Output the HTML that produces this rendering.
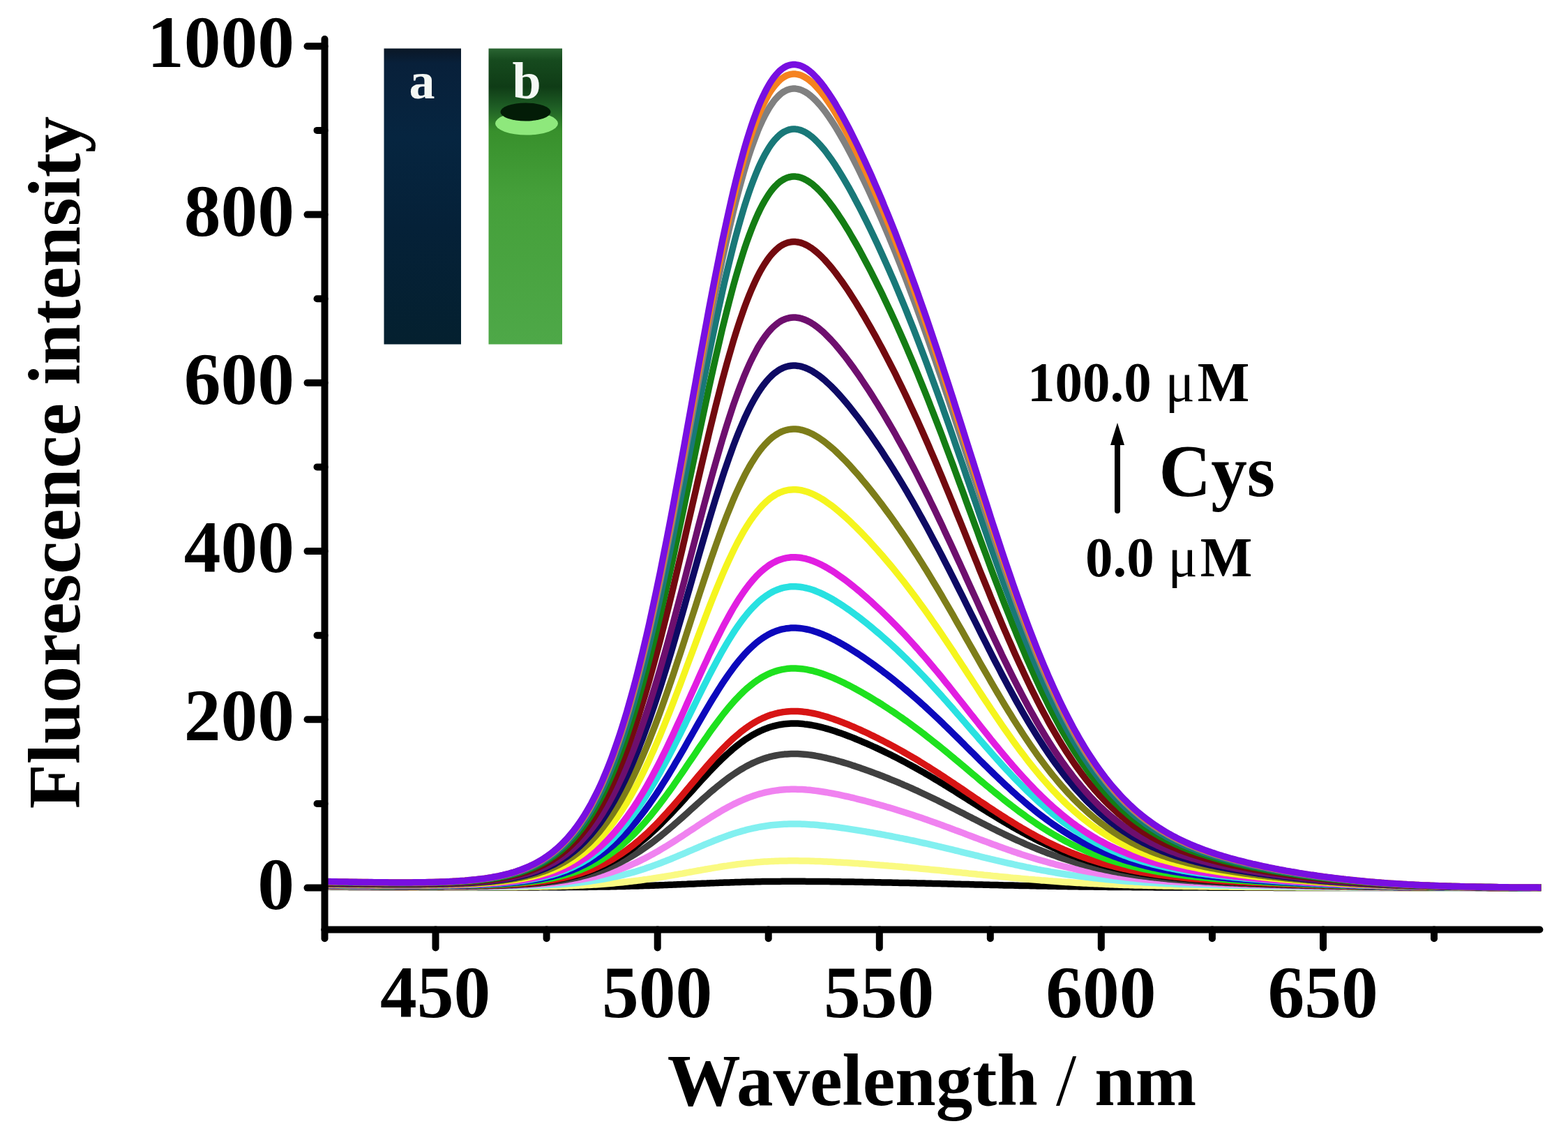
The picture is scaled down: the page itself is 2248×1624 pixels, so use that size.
<!DOCTYPE html>
<html><head><meta charset="utf-8"><style>
html,body{margin:0;padding:0;background:#fff;}
body{width:2248px;height:1624px;overflow:hidden;}
svg{display:block;}
text{font-family:"Liberation Serif","Times New Roman",serif;font-weight:bold;fill:#000;}
</style></head><body>
<svg width="2248" height="1624" viewBox="0 0 2248 1624">
<defs>
<linearGradient id="gA" x1="0" y1="0" x2="0" y2="1">
<stop offset="0" stop-color="#0a1726"/><stop offset="0.05" stop-color="#08203a"/><stop offset="0.3" stop-color="#062540"/><stop offset="0.6" stop-color="#052138"/><stop offset="1" stop-color="#04202f"/>
</linearGradient>
<linearGradient id="gB" x1="0" y1="0" x2="0" y2="1">
<stop offset="0" stop-color="#2a6532"/><stop offset="0.04" stop-color="#164a1e"/><stop offset="0.13" stop-color="#0f3c16"/><stop offset="0.2" stop-color="#1f5f25"/><stop offset="0.28" stop-color="#38902c"/><stop offset="0.5" stop-color="#45a03a"/><stop offset="1" stop-color="#4ea848"/>
</linearGradient>
</defs>
<!-- inset photos -->
<rect x="550.5" y="69.5" width="110.5" height="424" fill="url(#gA)"/>
<rect x="700.5" y="69.5" width="105.5" height="424" fill="url(#gB)"/>
<ellipse cx="755" cy="177" rx="45" ry="16.5" fill="#8ee87c"/>
<ellipse cx="753.5" cy="160.5" rx="36" ry="13" fill="#031c07"/>
<text x="605" y="141" text-anchor="middle" style="font-size:74px;fill:#f4f8f4">a</text>
<text x="755" y="141" text-anchor="middle" style="font-size:74px;fill:#f4f8f4">b</text>
<!-- curves -->
<g fill="none" stroke-width="9.5" stroke-linejoin="round">
<path d="M469.3,1271.6 L472.5,1271.6 L475.7,1271.6 L478.9,1271.6 L482.0,1271.6 L485.2,1271.6 L488.4,1271.6 L491.6,1271.6 L494.8,1271.6 L497.9,1271.6 L501.1,1271.7 L504.3,1271.7 L507.5,1271.7 L510.7,1271.7 L513.9,1271.7 L517.0,1271.7 L520.2,1271.7 L523.4,1271.7 L526.6,1271.7 L529.8,1271.7 L532.9,1271.7 L536.1,1271.7 L539.3,1271.7 L542.5,1271.7 L545.7,1271.7 L548.8,1271.8 L552.0,1271.8 L555.2,1271.8 L558.4,1271.8 L561.6,1271.8 L564.7,1271.8 L567.9,1271.8 L571.1,1271.8 L574.3,1271.8 L577.5,1271.8 L580.7,1271.8 L583.8,1271.8 L587.0,1271.8 L590.2,1271.8 L593.4,1271.8 L596.6,1271.8 L599.7,1271.8 L602.9,1271.9 L606.1,1271.9 L609.3,1271.9 L612.5,1271.9 L615.6,1271.9 L618.8,1271.9 L622.0,1271.9 L625.2,1271.9 L628.4,1271.9 L631.5,1271.9 L634.7,1271.9 L637.9,1271.9 L641.1,1271.9 L644.3,1271.9 L647.5,1271.9 L650.6,1271.9 L653.8,1271.9 L657.0,1271.9 L660.2,1271.9 L663.4,1271.9 L666.5,1271.9 L669.7,1271.9 L672.9,1271.9 L676.1,1271.9 L679.3,1271.9 L682.4,1271.9 L685.6,1271.9 L688.8,1271.9 L692.0,1271.9 L695.2,1271.9 L698.3,1271.9 L701.5,1271.9 L704.7,1271.9 L707.9,1271.9 L711.1,1271.9 L714.3,1271.9 L717.4,1271.9 L720.6,1271.9 L723.8,1271.9 L727.0,1271.9 L730.2,1271.9 L733.3,1271.9 L736.5,1271.9 L739.7,1271.9 L742.9,1271.9 L746.1,1271.9 L749.2,1271.9 L752.4,1271.9 L755.6,1271.9 L758.8,1271.9 L762.0,1271.9 L765.2,1271.9 L768.3,1271.9 L771.5,1271.9 L774.7,1271.8 L777.9,1271.8 L781.1,1271.8 L784.2,1271.8 L787.4,1271.8 L790.6,1271.8 L793.8,1271.8 L797.0,1271.7 L800.1,1271.7 L803.3,1271.7 L806.5,1271.7 L809.7,1271.7 L812.9,1271.6 L816.0,1271.6 L819.2,1271.6 L822.4,1271.6 L825.6,1271.5 L828.8,1271.5 L832.0,1271.5 L835.1,1271.4 L838.3,1271.4 L841.5,1271.4 L844.7,1271.3 L847.9,1271.3 L851.0,1271.2 L854.2,1271.2 L857.4,1271.1 L860.6,1271.1 L863.8,1271.0 L866.9,1271.0 L870.1,1270.9 L873.3,1270.9 L876.5,1270.8 L879.7,1270.7 L882.8,1270.7 L886.0,1270.6 L889.2,1270.5 L892.4,1270.5 L895.6,1270.4 L898.8,1270.3 L901.9,1270.2 L905.1,1270.1 L908.3,1270.1 L911.5,1270.0 L914.7,1269.9 L917.8,1269.8 L921.0,1269.7 L924.2,1269.6 L927.4,1269.5 L930.6,1269.4 L933.7,1269.3 L936.9,1269.2 L940.1,1269.0 L943.3,1268.9 L946.5,1268.8 L949.6,1268.7 L952.8,1268.6 L956.0,1268.4 L959.2,1268.3 L962.4,1268.2 L965.6,1268.1 L968.7,1267.9 L971.9,1267.8 L975.1,1267.7 L978.3,1267.5 L981.5,1267.4 L984.6,1267.3 L987.8,1267.1 L991.0,1267.0 L994.2,1266.9 L997.4,1266.7 L1000.5,1266.6 L1003.7,1266.5 L1006.9,1266.3 L1010.1,1266.2 L1013.3,1266.1 L1016.4,1265.9 L1019.6,1265.8 L1022.8,1265.7 L1026.0,1265.6 L1029.2,1265.4 L1032.4,1265.3 L1035.5,1265.2 L1038.7,1265.1 L1041.9,1265.0 L1045.1,1264.9 L1048.3,1264.8 L1051.4,1264.7 L1054.6,1264.6 L1057.8,1264.5 L1061.0,1264.4 L1064.2,1264.3 L1067.3,1264.2 L1070.5,1264.1 L1073.7,1264.0 L1076.9,1264.0 L1080.1,1263.9 L1083.3,1263.8 L1086.4,1263.8 L1089.6,1263.7 L1092.8,1263.6 L1096.0,1263.6 L1099.2,1263.5 L1102.3,1263.5 L1105.5,1263.5 L1108.7,1263.4 L1111.9,1263.4 L1115.1,1263.4 L1118.2,1263.4 L1121.4,1263.3 L1124.6,1263.3 L1127.8,1263.3 L1131.0,1263.3 L1134.1,1263.3 L1137.3,1263.3 L1140.5,1263.3 L1143.7,1263.3 L1146.9,1263.3 L1150.1,1263.3 L1153.2,1263.3 L1156.4,1263.4 L1159.6,1263.4 L1162.8,1263.4 L1166.0,1263.4 L1169.1,1263.4 L1172.3,1263.5 L1175.5,1263.5 L1178.7,1263.5 L1181.9,1263.6 L1185.0,1263.6 L1188.2,1263.6 L1191.4,1263.7 L1194.6,1263.7 L1197.8,1263.8 L1200.9,1263.8 L1204.1,1263.8 L1207.3,1263.9 L1210.5,1263.9 L1213.7,1264.0 L1216.9,1264.0 L1220.0,1264.1 L1223.2,1264.1 L1226.4,1264.2 L1229.6,1264.2 L1232.8,1264.3 L1235.9,1264.3 L1239.1,1264.4 L1242.3,1264.5 L1245.5,1264.5 L1248.7,1264.6 L1251.8,1264.6 L1255.0,1264.7 L1258.2,1264.7 L1261.4,1264.8 L1264.6,1264.9 L1267.7,1264.9 L1270.9,1265.0 L1274.1,1265.0 L1277.3,1265.1 L1280.5,1265.2 L1283.7,1265.2 L1286.8,1265.3 L1290.0,1265.4 L1293.2,1265.4 L1296.4,1265.5 L1299.6,1265.5 L1302.7,1265.6 L1305.9,1265.7 L1309.1,1265.8 L1312.3,1265.8 L1315.5,1265.9 L1318.6,1266.0 L1321.8,1266.0 L1325.0,1266.1 L1328.2,1266.2 L1331.4,1266.2 L1334.5,1266.3 L1337.7,1266.4 L1340.9,1266.5 L1344.1,1266.5 L1347.3,1266.6 L1350.5,1266.7 L1353.6,1266.8 L1356.8,1266.8 L1360.0,1266.9 L1363.2,1267.0 L1366.4,1267.1 L1369.5,1267.2 L1372.7,1267.2 L1375.9,1267.3 L1379.1,1267.4 L1382.3,1267.5 L1385.4,1267.5 L1388.6,1267.6 L1391.8,1267.7 L1395.0,1267.8 L1398.2,1267.9 L1401.4,1267.9 L1404.5,1268.0 L1407.7,1268.1 L1410.9,1268.2 L1414.1,1268.3 L1417.3,1268.3 L1420.4,1268.4 L1423.6,1268.5 L1426.8,1268.6 L1430.0,1268.6 L1433.2,1268.7 L1436.3,1268.8 L1439.5,1268.9 L1442.7,1268.9 L1445.9,1269.0 L1449.1,1269.1 L1452.2,1269.1 L1455.4,1269.2 L1458.6,1269.3 L1461.8,1269.4 L1465.0,1269.4 L1468.2,1269.5 L1471.3,1269.6 L1474.5,1269.6 L1477.7,1269.7 L1480.9,1269.8 L1484.1,1269.8 L1487.2,1269.9 L1490.4,1269.9 L1493.6,1270.0 L1496.8,1270.1 L1500.0,1270.1 L1503.1,1270.2 L1506.3,1270.2 L1509.5,1270.3 L1512.7,1270.3 L1515.9,1270.4 L1519.0,1270.5 L1522.2,1270.5 L1525.4,1270.6 L1528.6,1270.6 L1531.8,1270.7 L1535.0,1270.7 L1538.1,1270.7 L1541.3,1270.8 L1544.5,1270.8 L1547.7,1270.9 L1550.9,1270.9 L1554.0,1271.0 L1557.2,1271.0 L1560.4,1271.0 L1563.6,1271.1 L1566.8,1271.1 L1569.9,1271.2 L1573.1,1271.2 L1576.3,1271.2 L1579.5,1271.3 L1582.7,1271.3 L1585.8,1271.3 L1589.0,1271.4 L1592.2,1271.4 L1595.4,1271.4 L1598.6,1271.4 L1601.8,1271.5 L1604.9,1271.5 L1608.1,1271.5 L1611.3,1271.6 L1614.5,1271.6 L1617.7,1271.6 L1620.8,1271.6 L1624.0,1271.7 L1627.2,1271.7 L1630.4,1271.7 L1633.6,1271.7 L1636.7,1271.7 L1639.9,1271.8 L1643.1,1271.8 L1646.3,1271.8 L1649.5,1271.8 L1652.6,1271.8 L1655.8,1271.9 L1659.0,1271.9 L1662.2,1271.9 L1665.4,1271.9 L1668.6,1271.9 L1671.7,1271.9 L1674.9,1271.9 L1678.1,1272.0 L1681.3,1272.0 L1684.5,1272.0 L1687.6,1272.0 L1690.8,1272.0 L1694.0,1272.0 L1697.2,1272.0 L1700.4,1272.0 L1703.5,1272.1 L1706.7,1272.1 L1709.9,1272.1 L1713.1,1272.1 L1716.3,1272.1 L1719.5,1272.1 L1722.6,1272.1 L1725.8,1272.1 L1729.0,1272.1 L1732.2,1272.2 L1735.4,1272.2 L1738.5,1272.2 L1741.7,1272.2 L1744.9,1272.2 L1748.1,1272.2 L1751.3,1272.2 L1754.4,1272.2 L1757.6,1272.2 L1760.8,1272.2 L1764.0,1272.2 L1767.2,1272.2 L1770.3,1272.2 L1773.5,1272.3 L1776.7,1272.3 L1779.9,1272.3 L1783.1,1272.3 L1786.3,1272.3 L1789.4,1272.3 L1792.6,1272.3 L1795.8,1272.3 L1799.0,1272.3 L1802.2,1272.3 L1805.3,1272.3 L1808.5,1272.3 L1811.7,1272.3 L1814.9,1272.3 L1818.1,1272.3 L1821.2,1272.3 L1824.4,1272.3 L1827.6,1272.4 L1830.8,1272.4 L1834.0,1272.4 L1837.1,1272.4 L1840.3,1272.4 L1843.5,1272.4 L1846.7,1272.4 L1849.9,1272.4 L1853.1,1272.4 L1856.2,1272.4 L1859.4,1272.4 L1862.6,1272.4 L1865.8,1272.4 L1869.0,1272.4 L1872.1,1272.4 L1875.3,1272.4 L1878.5,1272.4 L1881.7,1272.4 L1884.9,1272.4 L1888.0,1272.4 L1891.2,1272.4 L1894.4,1272.4 L1897.6,1272.4 L1900.8,1272.4 L1903.9,1272.5 L1907.1,1272.5 L1910.3,1272.5 L1913.5,1272.5 L1916.7,1272.5 L1919.9,1272.5 L1923.0,1272.5 L1926.2,1272.5 L1929.4,1272.5 L1932.6,1272.5 L1935.8,1272.5 L1938.9,1272.5 L1942.1,1272.5 L1945.3,1272.5 L1948.5,1272.5 L1951.7,1272.5 L1954.8,1272.5 L1958.0,1272.5 L1961.2,1272.5 L1964.4,1272.5 L1967.6,1272.5 L1970.7,1272.5 L1973.9,1272.5 L1977.1,1272.5 L1980.3,1272.5 L1983.5,1272.5 L1986.7,1272.5 L1989.8,1272.5 L1993.0,1272.5 L1996.2,1272.5 L1999.4,1272.5 L2002.6,1272.5 L2005.7,1272.5 L2008.9,1272.5 L2012.1,1272.5 L2015.3,1272.5 L2018.5,1272.5 L2021.6,1272.5 L2024.8,1272.5 L2028.0,1272.5 L2031.2,1272.5 L2034.4,1272.5 L2037.6,1272.5 L2040.7,1272.5 L2043.9,1272.6 L2047.1,1272.6 L2050.3,1272.6 L2053.5,1272.6 L2056.6,1272.6 L2059.8,1272.6 L2063.0,1272.6 L2066.2,1272.6 L2069.4,1272.6 L2072.5,1272.6 L2075.7,1272.6 L2078.9,1272.6 L2082.1,1272.6 L2085.3,1272.6 L2088.4,1272.6 L2091.6,1272.6 L2094.8,1272.6 L2098.0,1272.6 L2101.2,1272.6 L2104.4,1272.6 L2107.5,1272.6 L2110.7,1272.6 L2113.9,1272.6 L2117.1,1272.6 L2120.3,1272.6 L2123.4,1272.6 L2126.6,1272.6 L2129.8,1272.6 L2133.0,1272.6 L2136.2,1272.6 L2139.3,1272.6 L2142.5,1272.6 L2145.7,1272.6 L2148.9,1272.6 L2152.1,1272.6 L2155.2,1272.6 L2158.4,1272.6 L2161.6,1272.6 L2164.8,1272.6 L2168.0,1272.6 L2171.2,1272.6 L2174.3,1272.6 L2177.5,1272.6 L2180.7,1272.6 L2183.9,1272.6 L2187.1,1272.6 L2190.2,1272.6 L2193.4,1272.6 L2196.6,1272.6 L2199.8,1272.6 L2203.0,1272.6 L2206.1,1272.6 L2209.3,1272.6" stroke="#000000"/>
<path d="M469.3,1271.4 L472.5,1271.4 L475.7,1271.4 L478.9,1271.4 L482.0,1271.4 L485.2,1271.4 L488.4,1271.4 L491.6,1271.4 L494.8,1271.4 L497.9,1271.5 L501.1,1271.5 L504.3,1271.5 L507.5,1271.5 L510.7,1271.5 L513.9,1271.5 L517.0,1271.5 L520.2,1271.5 L523.4,1271.5 L526.6,1271.5 L529.8,1271.5 L532.9,1271.5 L536.1,1271.6 L539.3,1271.6 L542.5,1271.6 L545.7,1271.6 L548.8,1271.6 L552.0,1271.6 L555.2,1271.6 L558.4,1271.6 L561.6,1271.6 L564.7,1271.6 L567.9,1271.6 L571.1,1271.6 L574.3,1271.6 L577.5,1271.6 L580.7,1271.6 L583.8,1271.6 L587.0,1271.7 L590.2,1271.7 L593.4,1271.7 L596.6,1271.7 L599.7,1271.7 L602.9,1271.7 L606.1,1271.7 L609.3,1271.7 L612.5,1271.7 L615.6,1271.7 L618.8,1271.7 L622.0,1271.7 L625.2,1271.7 L628.4,1271.7 L631.5,1271.7 L634.7,1271.7 L637.9,1271.7 L641.1,1271.7 L644.3,1271.7 L647.5,1271.7 L650.6,1271.7 L653.8,1271.7 L657.0,1271.7 L660.2,1271.7 L663.4,1271.7 L666.5,1271.7 L669.7,1271.7 L672.9,1271.7 L676.1,1271.7 L679.3,1271.7 L682.4,1271.7 L685.6,1271.6 L688.8,1271.6 L692.0,1271.6 L695.2,1271.6 L698.3,1271.6 L701.5,1271.6 L704.7,1271.6 L707.9,1271.6 L711.1,1271.6 L714.3,1271.5 L717.4,1271.5 L720.6,1271.5 L723.8,1271.5 L727.0,1271.5 L730.2,1271.4 L733.3,1271.4 L736.5,1271.4 L739.7,1271.4 L742.9,1271.3 L746.1,1271.3 L749.2,1271.3 L752.4,1271.2 L755.6,1271.2 L758.8,1271.1 L762.0,1271.1 L765.2,1271.0 L768.3,1271.0 L771.5,1270.9 L774.7,1270.9 L777.9,1270.8 L781.1,1270.8 L784.2,1270.7 L787.4,1270.6 L790.6,1270.5 L793.8,1270.5 L797.0,1270.4 L800.1,1270.3 L803.3,1270.2 L806.5,1270.1 L809.7,1270.0 L812.9,1269.9 L816.0,1269.8 L819.2,1269.7 L822.4,1269.5 L825.6,1269.4 L828.8,1269.3 L832.0,1269.1 L835.1,1269.0 L838.3,1268.8 L841.5,1268.6 L844.7,1268.4 L847.9,1268.3 L851.0,1268.1 L854.2,1267.9 L857.4,1267.7 L860.6,1267.4 L863.8,1267.2 L866.9,1267.0 L870.1,1266.7 L873.3,1266.5 L876.5,1266.2 L879.7,1265.9 L882.8,1265.6 L886.0,1265.3 L889.2,1265.0 L892.4,1264.7 L895.6,1264.3 L898.8,1264.0 L901.9,1263.6 L905.1,1263.3 L908.3,1262.9 L911.5,1262.5 L914.7,1262.1 L917.8,1261.7 L921.0,1261.3 L924.2,1260.8 L927.4,1260.4 L930.6,1259.9 L933.7,1259.5 L936.9,1259.0 L940.1,1258.5 L943.3,1258.0 L946.5,1257.5 L949.6,1257.0 L952.8,1256.5 L956.0,1255.9 L959.2,1255.4 L962.4,1254.9 L965.6,1254.3 L968.7,1253.7 L971.9,1253.2 L975.1,1252.6 L978.3,1252.1 L981.5,1251.5 L984.6,1250.9 L987.8,1250.3 L991.0,1249.8 L994.2,1249.2 L997.4,1248.6 L1000.5,1248.0 L1003.7,1247.5 L1006.9,1246.9 L1010.1,1246.3 L1013.3,1245.8 L1016.4,1245.2 L1019.6,1244.7 L1022.8,1244.1 L1026.0,1243.6 L1029.2,1243.1 L1032.4,1242.5 L1035.5,1242.0 L1038.7,1241.5 L1041.9,1241.1 L1045.1,1240.6 L1048.3,1240.1 L1051.4,1239.7 L1054.6,1239.3 L1057.8,1238.8 L1061.0,1238.4 L1064.2,1238.1 L1067.3,1237.7 L1070.5,1237.3 L1073.7,1237.0 L1076.9,1236.7 L1080.1,1236.4 L1083.3,1236.1 L1086.4,1235.8 L1089.6,1235.6 L1092.8,1235.3 L1096.0,1235.1 L1099.2,1234.9 L1102.3,1234.7 L1105.5,1234.6 L1108.7,1234.4 L1111.9,1234.3 L1115.1,1234.2 L1118.2,1234.1 L1121.4,1234.0 L1124.6,1233.9 L1127.8,1233.9 L1131.0,1233.8 L1134.1,1233.8 L1137.3,1233.8 L1140.5,1233.8 L1143.7,1233.8 L1146.9,1233.9 L1150.1,1233.9 L1153.2,1233.9 L1156.4,1234.0 L1159.6,1234.1 L1162.8,1234.2 L1166.0,1234.3 L1169.1,1234.4 L1172.3,1234.5 L1175.5,1234.6 L1178.7,1234.7 L1181.9,1234.9 L1185.0,1235.0 L1188.2,1235.2 L1191.4,1235.3 L1194.6,1235.5 L1197.8,1235.7 L1200.9,1235.9 L1204.1,1236.0 L1207.3,1236.2 L1210.5,1236.4 L1213.7,1236.6 L1216.9,1236.8 L1220.0,1237.0 L1223.2,1237.2 L1226.4,1237.4 L1229.6,1237.6 L1232.8,1237.9 L1235.9,1238.1 L1239.1,1238.3 L1242.3,1238.5 L1245.5,1238.8 L1248.7,1239.0 L1251.8,1239.2 L1255.0,1239.5 L1258.2,1239.7 L1261.4,1240.0 L1264.6,1240.2 L1267.7,1240.5 L1270.9,1240.7 L1274.1,1241.0 L1277.3,1241.2 L1280.5,1241.5 L1283.7,1241.8 L1286.8,1242.0 L1290.0,1242.3 L1293.2,1242.6 L1296.4,1242.9 L1299.6,1243.1 L1302.7,1243.4 L1305.9,1243.7 L1309.1,1244.0 L1312.3,1244.3 L1315.5,1244.6 L1318.6,1244.9 L1321.8,1245.2 L1325.0,1245.5 L1328.2,1245.8 L1331.4,1246.1 L1334.5,1246.4 L1337.7,1246.7 L1340.9,1247.0 L1344.1,1247.3 L1347.3,1247.6 L1350.5,1247.9 L1353.6,1248.3 L1356.8,1248.6 L1360.0,1248.9 L1363.2,1249.2 L1366.4,1249.6 L1369.5,1249.9 L1372.7,1250.2 L1375.9,1250.5 L1379.1,1250.9 L1382.3,1251.2 L1385.4,1251.5 L1388.6,1251.9 L1391.8,1252.2 L1395.0,1252.5 L1398.2,1252.8 L1401.4,1253.2 L1404.5,1253.5 L1407.7,1253.8 L1410.9,1254.2 L1414.1,1254.5 L1417.3,1254.8 L1420.4,1255.1 L1423.6,1255.5 L1426.8,1255.8 L1430.0,1256.1 L1433.2,1256.4 L1436.3,1256.7 L1439.5,1257.0 L1442.7,1257.3 L1445.9,1257.6 L1449.1,1258.0 L1452.2,1258.3 L1455.4,1258.5 L1458.6,1258.8 L1461.8,1259.1 L1465.0,1259.4 L1468.2,1259.7 L1471.3,1260.0 L1474.5,1260.3 L1477.7,1260.5 L1480.9,1260.8 L1484.1,1261.1 L1487.2,1261.3 L1490.4,1261.6 L1493.6,1261.9 L1496.8,1262.1 L1500.0,1262.3 L1503.1,1262.6 L1506.3,1262.8 L1509.5,1263.1 L1512.7,1263.3 L1515.9,1263.5 L1519.0,1263.7 L1522.2,1264.0 L1525.4,1264.2 L1528.6,1264.4 L1531.8,1264.6 L1535.0,1264.8 L1538.1,1265.0 L1541.3,1265.2 L1544.5,1265.4 L1547.7,1265.5 L1550.9,1265.7 L1554.0,1265.9 L1557.2,1266.1 L1560.4,1266.2 L1563.6,1266.4 L1566.8,1266.5 L1569.9,1266.7 L1573.1,1266.8 L1576.3,1267.0 L1579.5,1267.1 L1582.7,1267.3 L1585.8,1267.4 L1589.0,1267.5 L1592.2,1267.7 L1595.4,1267.8 L1598.6,1267.9 L1601.8,1268.0 L1604.9,1268.2 L1608.1,1268.3 L1611.3,1268.4 L1614.5,1268.5 L1617.7,1268.6 L1620.8,1268.7 L1624.0,1268.8 L1627.2,1268.9 L1630.4,1269.0 L1633.6,1269.1 L1636.7,1269.1 L1639.9,1269.2 L1643.1,1269.3 L1646.3,1269.4 L1649.5,1269.5 L1652.6,1269.5 L1655.8,1269.6 L1659.0,1269.7 L1662.2,1269.7 L1665.4,1269.8 L1668.6,1269.9 L1671.7,1269.9 L1674.9,1270.0 L1678.1,1270.1 L1681.3,1270.1 L1684.5,1270.2 L1687.6,1270.2 L1690.8,1270.3 L1694.0,1270.3 L1697.2,1270.4 L1700.4,1270.4 L1703.5,1270.5 L1706.7,1270.5 L1709.9,1270.6 L1713.1,1270.6 L1716.3,1270.6 L1719.5,1270.7 L1722.6,1270.7 L1725.8,1270.8 L1729.0,1270.8 L1732.2,1270.8 L1735.4,1270.9 L1738.5,1270.9 L1741.7,1270.9 L1744.9,1271.0 L1748.1,1271.0 L1751.3,1271.0 L1754.4,1271.1 L1757.6,1271.1 L1760.8,1271.1 L1764.0,1271.2 L1767.2,1271.2 L1770.3,1271.2 L1773.5,1271.3 L1776.7,1271.3 L1779.9,1271.3 L1783.1,1271.3 L1786.3,1271.4 L1789.4,1271.4 L1792.6,1271.4 L1795.8,1271.4 L1799.0,1271.5 L1802.2,1271.5 L1805.3,1271.5 L1808.5,1271.5 L1811.7,1271.6 L1814.9,1271.6 L1818.1,1271.6 L1821.2,1271.6 L1824.4,1271.6 L1827.6,1271.7 L1830.8,1271.7 L1834.0,1271.7 L1837.1,1271.7 L1840.3,1271.7 L1843.5,1271.8 L1846.7,1271.8 L1849.9,1271.8 L1853.1,1271.8 L1856.2,1271.8 L1859.4,1271.9 L1862.6,1271.9 L1865.8,1271.9 L1869.0,1271.9 L1872.1,1271.9 L1875.3,1271.9 L1878.5,1272.0 L1881.7,1272.0 L1884.9,1272.0 L1888.0,1272.0 L1891.2,1272.0 L1894.4,1272.0 L1897.6,1272.0 L1900.8,1272.1 L1903.9,1272.1 L1907.1,1272.1 L1910.3,1272.1 L1913.5,1272.1 L1916.7,1272.1 L1919.9,1272.1 L1923.0,1272.2 L1926.2,1272.2 L1929.4,1272.2 L1932.6,1272.2 L1935.8,1272.2 L1938.9,1272.2 L1942.1,1272.2 L1945.3,1272.2 L1948.5,1272.2 L1951.7,1272.3 L1954.8,1272.3 L1958.0,1272.3 L1961.2,1272.3 L1964.4,1272.3 L1967.6,1272.3 L1970.7,1272.3 L1973.9,1272.3 L1977.1,1272.3 L1980.3,1272.3 L1983.5,1272.3 L1986.7,1272.4 L1989.8,1272.4 L1993.0,1272.4 L1996.2,1272.4 L1999.4,1272.4 L2002.6,1272.4 L2005.7,1272.4 L2008.9,1272.4 L2012.1,1272.4 L2015.3,1272.4 L2018.5,1272.4 L2021.6,1272.4 L2024.8,1272.4 L2028.0,1272.4 L2031.2,1272.4 L2034.4,1272.4 L2037.6,1272.5 L2040.7,1272.5 L2043.9,1272.5 L2047.1,1272.5 L2050.3,1272.5 L2053.5,1272.5 L2056.6,1272.5 L2059.8,1272.5 L2063.0,1272.5 L2066.2,1272.5 L2069.4,1272.5 L2072.5,1272.5 L2075.7,1272.5 L2078.9,1272.5 L2082.1,1272.5 L2085.3,1272.5 L2088.4,1272.5 L2091.6,1272.5 L2094.8,1272.5 L2098.0,1272.5 L2101.2,1272.5 L2104.4,1272.5 L2107.5,1272.5 L2110.7,1272.5 L2113.9,1272.5 L2117.1,1272.5 L2120.3,1272.5 L2123.4,1272.5 L2126.6,1272.5 L2129.8,1272.5 L2133.0,1272.5 L2136.2,1272.5 L2139.3,1272.5 L2142.5,1272.6 L2145.7,1272.6 L2148.9,1272.6 L2152.1,1272.6 L2155.2,1272.6 L2158.4,1272.6 L2161.6,1272.6 L2164.8,1272.6 L2168.0,1272.6 L2171.2,1272.6 L2174.3,1272.6 L2177.5,1272.6 L2180.7,1272.6 L2183.9,1272.6 L2187.1,1272.6 L2190.2,1272.6 L2193.4,1272.6 L2196.6,1272.6 L2199.8,1272.6 L2203.0,1272.6 L2206.1,1272.6 L2209.3,1272.6" stroke="#fafa82"/>
<path d="M469.3,1271.0 L472.5,1271.0 L475.7,1271.0 L478.9,1271.1 L482.0,1271.1 L485.2,1271.1 L488.4,1271.1 L491.6,1271.1 L494.8,1271.1 L497.9,1271.1 L501.1,1271.1 L504.3,1271.1 L507.5,1271.1 L510.7,1271.2 L513.9,1271.2 L517.0,1271.2 L520.2,1271.2 L523.4,1271.2 L526.6,1271.2 L529.8,1271.2 L532.9,1271.2 L536.1,1271.2 L539.3,1271.2 L542.5,1271.3 L545.7,1271.3 L548.8,1271.3 L552.0,1271.3 L555.2,1271.3 L558.4,1271.3 L561.6,1271.3 L564.7,1271.3 L567.9,1271.3 L571.1,1271.3 L574.3,1271.3 L577.5,1271.3 L580.7,1271.3 L583.8,1271.3 L587.0,1271.3 L590.2,1271.3 L593.4,1271.3 L596.6,1271.3 L599.7,1271.4 L602.9,1271.4 L606.1,1271.4 L609.3,1271.4 L612.5,1271.4 L615.6,1271.4 L618.8,1271.4 L622.0,1271.4 L625.2,1271.4 L628.4,1271.3 L631.5,1271.3 L634.7,1271.3 L637.9,1271.3 L641.1,1271.3 L644.3,1271.3 L647.5,1271.3 L650.6,1271.3 L653.8,1271.3 L657.0,1271.3 L660.2,1271.3 L663.4,1271.3 L666.5,1271.2 L669.7,1271.2 L672.9,1271.2 L676.1,1271.2 L679.3,1271.2 L682.4,1271.1 L685.6,1271.1 L688.8,1271.1 L692.0,1271.1 L695.2,1271.0 L698.3,1271.0 L701.5,1271.0 L704.7,1270.9 L707.9,1270.9 L711.1,1270.9 L714.3,1270.8 L717.4,1270.8 L720.6,1270.7 L723.8,1270.7 L727.0,1270.6 L730.2,1270.5 L733.3,1270.5 L736.5,1270.4 L739.7,1270.3 L742.9,1270.2 L746.1,1270.2 L749.2,1270.1 L752.4,1270.0 L755.6,1269.9 L758.8,1269.8 L762.0,1269.7 L765.2,1269.5 L768.3,1269.4 L771.5,1269.3 L774.7,1269.2 L777.9,1269.0 L781.1,1268.8 L784.2,1268.7 L787.4,1268.5 L790.6,1268.3 L793.8,1268.1 L797.0,1267.9 L800.1,1267.7 L803.3,1267.5 L806.5,1267.3 L809.7,1267.0 L812.9,1266.7 L816.0,1266.5 L819.2,1266.2 L822.4,1265.9 L825.6,1265.6 L828.8,1265.2 L832.0,1264.9 L835.1,1264.5 L838.3,1264.1 L841.5,1263.7 L844.7,1263.3 L847.9,1262.8 L851.0,1262.4 L854.2,1261.9 L857.4,1261.4 L860.6,1260.9 L863.8,1260.3 L866.9,1259.8 L870.1,1259.2 L873.3,1258.5 L876.5,1257.9 L879.7,1257.2 L882.8,1256.5 L886.0,1255.8 L889.2,1255.1 L892.4,1254.3 L895.6,1253.5 L898.8,1252.7 L901.9,1251.9 L905.1,1251.0 L908.3,1250.1 L911.5,1249.2 L914.7,1248.2 L917.8,1247.2 L921.0,1246.2 L924.2,1245.2 L927.4,1244.1 L930.6,1243.0 L933.7,1241.9 L936.9,1240.8 L940.1,1239.6 L943.3,1238.5 L946.5,1237.3 L949.6,1236.0 L952.8,1234.8 L956.0,1233.5 L959.2,1232.3 L962.4,1231.0 L965.6,1229.7 L968.7,1228.4 L971.9,1227.0 L975.1,1225.7 L978.3,1224.3 L981.5,1223.0 L984.6,1221.6 L987.8,1220.2 L991.0,1218.9 L994.2,1217.5 L997.4,1216.1 L1000.5,1214.8 L1003.7,1213.4 L1006.9,1212.1 L1010.1,1210.7 L1013.3,1209.4 L1016.4,1208.1 L1019.6,1206.8 L1022.8,1205.5 L1026.0,1204.2 L1029.2,1203.0 L1032.4,1201.8 L1035.5,1200.6 L1038.7,1199.4 L1041.9,1198.3 L1045.1,1197.1 L1048.3,1196.1 L1051.4,1195.0 L1054.6,1194.0 L1057.8,1193.0 L1061.0,1192.1 L1064.2,1191.1 L1067.3,1190.3 L1070.5,1189.4 L1073.7,1188.6 L1076.9,1187.9 L1080.1,1187.1 L1083.3,1186.5 L1086.4,1185.8 L1089.6,1185.2 L1092.8,1184.7 L1096.0,1184.2 L1099.2,1183.7 L1102.3,1183.2 L1105.5,1182.8 L1108.7,1182.5 L1111.9,1182.2 L1115.1,1181.9 L1118.2,1181.7 L1121.4,1181.5 L1124.6,1181.3 L1127.8,1181.2 L1131.0,1181.1 L1134.1,1181.0 L1137.3,1181.0 L1140.5,1181.0 L1143.7,1181.0 L1146.9,1181.1 L1150.1,1181.2 L1153.2,1181.3 L1156.4,1181.5 L1159.6,1181.7 L1162.8,1181.9 L1166.0,1182.1 L1169.1,1182.3 L1172.3,1182.6 L1175.5,1182.9 L1178.7,1183.2 L1181.9,1183.5 L1185.0,1183.9 L1188.2,1184.2 L1191.4,1184.6 L1194.6,1185.0 L1197.8,1185.4 L1200.9,1185.8 L1204.1,1186.3 L1207.3,1186.7 L1210.5,1187.1 L1213.7,1187.6 L1216.9,1188.1 L1220.0,1188.6 L1223.2,1189.1 L1226.4,1189.6 L1229.6,1190.1 L1232.8,1190.6 L1235.9,1191.1 L1239.1,1191.6 L1242.3,1192.2 L1245.5,1192.7 L1248.7,1193.3 L1251.8,1193.8 L1255.0,1194.4 L1258.2,1195.0 L1261.4,1195.5 L1264.6,1196.1 L1267.7,1196.7 L1270.9,1197.3 L1274.1,1197.9 L1277.3,1198.5 L1280.5,1199.2 L1283.7,1199.8 L1286.8,1200.4 L1290.0,1201.1 L1293.2,1201.7 L1296.4,1202.3 L1299.6,1203.0 L1302.7,1203.7 L1305.9,1204.3 L1309.1,1205.0 L1312.3,1205.7 L1315.5,1206.4 L1318.6,1207.1 L1321.8,1207.8 L1325.0,1208.5 L1328.2,1209.2 L1331.4,1209.9 L1334.5,1210.7 L1337.7,1211.4 L1340.9,1212.1 L1344.1,1212.9 L1347.3,1213.6 L1350.5,1214.4 L1353.6,1215.1 L1356.8,1215.9 L1360.0,1216.7 L1363.2,1217.4 L1366.4,1218.2 L1369.5,1219.0 L1372.7,1219.7 L1375.9,1220.5 L1379.1,1221.3 L1382.3,1222.1 L1385.4,1222.8 L1388.6,1223.6 L1391.8,1224.4 L1395.0,1225.2 L1398.2,1226.0 L1401.4,1226.7 L1404.5,1227.5 L1407.7,1228.3 L1410.9,1229.1 L1414.1,1229.8 L1417.3,1230.6 L1420.4,1231.4 L1423.6,1232.1 L1426.8,1232.9 L1430.0,1233.6 L1433.2,1234.4 L1436.3,1235.1 L1439.5,1235.9 L1442.7,1236.6 L1445.9,1237.3 L1449.1,1238.0 L1452.2,1238.7 L1455.4,1239.5 L1458.6,1240.2 L1461.8,1240.8 L1465.0,1241.5 L1468.2,1242.2 L1471.3,1242.9 L1474.5,1243.5 L1477.7,1244.2 L1480.9,1244.8 L1484.1,1245.4 L1487.2,1246.1 L1490.4,1246.7 L1493.6,1247.3 L1496.8,1247.9 L1500.0,1248.4 L1503.1,1249.0 L1506.3,1249.6 L1509.5,1250.1 L1512.7,1250.7 L1515.9,1251.2 L1519.0,1251.7 L1522.2,1252.2 L1525.4,1252.7 L1528.6,1253.2 L1531.8,1253.7 L1535.0,1254.2 L1538.1,1254.6 L1541.3,1255.1 L1544.5,1255.5 L1547.7,1256.0 L1550.9,1256.4 L1554.0,1256.8 L1557.2,1257.2 L1560.4,1257.6 L1563.6,1258.0 L1566.8,1258.4 L1569.9,1258.7 L1573.1,1259.1 L1576.3,1259.4 L1579.5,1259.8 L1582.7,1260.1 L1585.8,1260.4 L1589.0,1260.7 L1592.2,1261.0 L1595.4,1261.3 L1598.6,1261.6 L1601.8,1261.9 L1604.9,1262.2 L1608.1,1262.4 L1611.3,1262.7 L1614.5,1262.9 L1617.7,1263.2 L1620.8,1263.4 L1624.0,1263.6 L1627.2,1263.9 L1630.4,1264.1 L1633.6,1264.3 L1636.7,1264.5 L1639.9,1264.7 L1643.1,1264.9 L1646.3,1265.1 L1649.5,1265.2 L1652.6,1265.4 L1655.8,1265.6 L1659.0,1265.7 L1662.2,1265.9 L1665.4,1266.1 L1668.6,1266.2 L1671.7,1266.4 L1674.9,1266.5 L1678.1,1266.6 L1681.3,1266.8 L1684.5,1266.9 L1687.6,1267.0 L1690.8,1267.2 L1694.0,1267.3 L1697.2,1267.4 L1700.4,1267.5 L1703.5,1267.6 L1706.7,1267.7 L1709.9,1267.8 L1713.1,1267.9 L1716.3,1268.0 L1719.5,1268.1 L1722.6,1268.2 L1725.8,1268.3 L1729.0,1268.4 L1732.2,1268.5 L1735.4,1268.6 L1738.5,1268.7 L1741.7,1268.8 L1744.9,1268.8 L1748.1,1268.9 L1751.3,1269.0 L1754.4,1269.1 L1757.6,1269.1 L1760.8,1269.2 L1764.0,1269.3 L1767.2,1269.3 L1770.3,1269.4 L1773.5,1269.5 L1776.7,1269.5 L1779.9,1269.6 L1783.1,1269.7 L1786.3,1269.7 L1789.4,1269.8 L1792.6,1269.8 L1795.8,1269.9 L1799.0,1270.0 L1802.2,1270.0 L1805.3,1270.1 L1808.5,1270.1 L1811.7,1270.2 L1814.9,1270.2 L1818.1,1270.3 L1821.2,1270.3 L1824.4,1270.4 L1827.6,1270.4 L1830.8,1270.5 L1834.0,1270.5 L1837.1,1270.6 L1840.3,1270.6 L1843.5,1270.7 L1846.7,1270.7 L1849.9,1270.8 L1853.1,1270.8 L1856.2,1270.8 L1859.4,1270.9 L1862.6,1270.9 L1865.8,1271.0 L1869.0,1271.0 L1872.1,1271.0 L1875.3,1271.1 L1878.5,1271.1 L1881.7,1271.2 L1884.9,1271.2 L1888.0,1271.2 L1891.2,1271.3 L1894.4,1271.3 L1897.6,1271.3 L1900.8,1271.4 L1903.9,1271.4 L1907.1,1271.4 L1910.3,1271.5 L1913.5,1271.5 L1916.7,1271.5 L1919.9,1271.6 L1923.0,1271.6 L1926.2,1271.6 L1929.4,1271.6 L1932.6,1271.7 L1935.8,1271.7 L1938.9,1271.7 L1942.1,1271.7 L1945.3,1271.8 L1948.5,1271.8 L1951.7,1271.8 L1954.8,1271.8 L1958.0,1271.9 L1961.2,1271.9 L1964.4,1271.9 L1967.6,1271.9 L1970.7,1271.9 L1973.9,1272.0 L1977.1,1272.0 L1980.3,1272.0 L1983.5,1272.0 L1986.7,1272.0 L1989.8,1272.1 L1993.0,1272.1 L1996.2,1272.1 L1999.4,1272.1 L2002.6,1272.1 L2005.7,1272.1 L2008.9,1272.2 L2012.1,1272.2 L2015.3,1272.2 L2018.5,1272.2 L2021.6,1272.2 L2024.8,1272.2 L2028.0,1272.2 L2031.2,1272.3 L2034.4,1272.3 L2037.6,1272.3 L2040.7,1272.3 L2043.9,1272.3 L2047.1,1272.3 L2050.3,1272.3 L2053.5,1272.3 L2056.6,1272.3 L2059.8,1272.4 L2063.0,1272.4 L2066.2,1272.4 L2069.4,1272.4 L2072.5,1272.4 L2075.7,1272.4 L2078.9,1272.4 L2082.1,1272.4 L2085.3,1272.4 L2088.4,1272.4 L2091.6,1272.4 L2094.8,1272.4 L2098.0,1272.4 L2101.2,1272.4 L2104.4,1272.5 L2107.5,1272.5 L2110.7,1272.5 L2113.9,1272.5 L2117.1,1272.5 L2120.3,1272.5 L2123.4,1272.5 L2126.6,1272.5 L2129.8,1272.5 L2133.0,1272.5 L2136.2,1272.5 L2139.3,1272.5 L2142.5,1272.5 L2145.7,1272.5 L2148.9,1272.5 L2152.1,1272.5 L2155.2,1272.5 L2158.4,1272.5 L2161.6,1272.5 L2164.8,1272.5 L2168.0,1272.5 L2171.2,1272.5 L2174.3,1272.5 L2177.5,1272.5 L2180.7,1272.5 L2183.9,1272.5 L2187.1,1272.5 L2190.2,1272.5 L2193.4,1272.5 L2196.6,1272.5 L2199.8,1272.6 L2203.0,1272.6 L2206.1,1272.6 L2209.3,1272.6" stroke="#82f0f0"/>
<path d="M469.3,1270.7 L472.5,1270.7 L475.7,1270.7 L478.9,1270.7 L482.0,1270.7 L485.2,1270.7 L488.4,1270.8 L491.6,1270.8 L494.8,1270.8 L497.9,1270.8 L501.1,1270.8 L504.3,1270.8 L507.5,1270.8 L510.7,1270.8 L513.9,1270.9 L517.0,1270.9 L520.2,1270.9 L523.4,1270.9 L526.6,1270.9 L529.8,1270.9 L532.9,1270.9 L536.1,1270.9 L539.3,1270.9 L542.5,1271.0 L545.7,1271.0 L548.8,1271.0 L552.0,1271.0 L555.2,1271.0 L558.4,1271.0 L561.6,1271.0 L564.7,1271.0 L567.9,1271.0 L571.1,1271.0 L574.3,1271.0 L577.5,1271.0 L580.7,1271.0 L583.8,1271.0 L587.0,1271.0 L590.2,1271.0 L593.4,1271.0 L596.6,1271.1 L599.7,1271.1 L602.9,1271.1 L606.1,1271.1 L609.3,1271.0 L612.5,1271.0 L615.6,1271.0 L618.8,1271.0 L622.0,1271.0 L625.2,1271.0 L628.4,1271.0 L631.5,1271.0 L634.7,1271.0 L637.9,1271.0 L641.1,1271.0 L644.3,1271.0 L647.5,1271.0 L650.6,1270.9 L653.8,1270.9 L657.0,1270.9 L660.2,1270.9 L663.4,1270.9 L666.5,1270.8 L669.7,1270.8 L672.9,1270.8 L676.1,1270.7 L679.3,1270.7 L682.4,1270.7 L685.6,1270.6 L688.8,1270.6 L692.0,1270.5 L695.2,1270.5 L698.3,1270.4 L701.5,1270.4 L704.7,1270.3 L707.9,1270.3 L711.1,1270.2 L714.3,1270.1 L717.4,1270.0 L720.6,1270.0 L723.8,1269.9 L727.0,1269.8 L730.2,1269.7 L733.3,1269.6 L736.5,1269.5 L739.7,1269.4 L742.9,1269.2 L746.1,1269.1 L749.2,1269.0 L752.4,1268.8 L755.6,1268.7 L758.8,1268.5 L762.0,1268.3 L765.2,1268.1 L768.3,1267.9 L771.5,1267.7 L774.7,1267.5 L777.9,1267.3 L781.1,1267.1 L784.2,1266.8 L787.4,1266.5 L790.6,1266.2 L793.8,1265.9 L797.0,1265.6 L800.1,1265.3 L803.3,1265.0 L806.5,1264.6 L809.7,1264.2 L812.9,1263.8 L816.0,1263.4 L819.2,1262.9 L822.4,1262.4 L825.6,1261.9 L828.8,1261.4 L832.0,1260.9 L835.1,1260.3 L838.3,1259.7 L841.5,1259.1 L844.7,1258.4 L847.9,1257.8 L851.0,1257.0 L854.2,1256.3 L857.4,1255.5 L860.6,1254.7 L863.8,1253.9 L866.9,1253.0 L870.1,1252.1 L873.3,1251.1 L876.5,1250.1 L879.7,1249.1 L882.8,1248.0 L886.0,1246.9 L889.2,1245.8 L892.4,1244.6 L895.6,1243.3 L898.8,1242.1 L901.9,1240.8 L905.1,1239.4 L908.3,1238.0 L911.5,1236.6 L914.7,1235.1 L917.8,1233.6 L921.0,1232.0 L924.2,1230.4 L927.4,1228.8 L930.6,1227.1 L933.7,1225.4 L936.9,1223.7 L940.1,1221.9 L943.3,1220.1 L946.5,1218.2 L949.6,1216.3 L952.8,1214.4 L956.0,1212.5 L959.2,1210.5 L962.4,1208.5 L965.6,1206.5 L968.7,1204.5 L971.9,1202.4 L975.1,1200.3 L978.3,1198.2 L981.5,1196.1 L984.6,1194.0 L987.8,1191.9 L991.0,1189.8 L994.2,1187.7 L997.4,1185.6 L1000.5,1183.5 L1003.7,1181.4 L1006.9,1179.3 L1010.1,1177.2 L1013.3,1175.2 L1016.4,1173.2 L1019.6,1171.1 L1022.8,1169.2 L1026.0,1167.2 L1029.2,1165.3 L1032.4,1163.4 L1035.5,1161.5 L1038.7,1159.7 L1041.9,1158.0 L1045.1,1156.2 L1048.3,1154.6 L1051.4,1152.9 L1054.6,1151.4 L1057.8,1149.8 L1061.0,1148.4 L1064.2,1147.0 L1067.3,1145.6 L1070.5,1144.3 L1073.7,1143.1 L1076.9,1141.9 L1080.1,1140.8 L1083.3,1139.7 L1086.4,1138.8 L1089.6,1137.8 L1092.8,1137.0 L1096.0,1136.2 L1099.2,1135.4 L1102.3,1134.8 L1105.5,1134.2 L1108.7,1133.6 L1111.9,1133.1 L1115.1,1132.7 L1118.2,1132.3 L1121.4,1132.0 L1124.6,1131.8 L1127.8,1131.6 L1131.0,1131.4 L1134.1,1131.3 L1137.3,1131.3 L1140.5,1131.3 L1143.7,1131.4 L1146.9,1131.5 L1150.1,1131.6 L1153.2,1131.8 L1156.4,1132.1 L1159.6,1132.3 L1162.8,1132.6 L1166.0,1133.0 L1169.1,1133.4 L1172.3,1133.8 L1175.5,1134.2 L1178.7,1134.7 L1181.9,1135.2 L1185.0,1135.7 L1188.2,1136.3 L1191.4,1136.9 L1194.6,1137.5 L1197.8,1138.1 L1200.9,1138.7 L1204.1,1139.4 L1207.3,1140.1 L1210.5,1140.8 L1213.7,1141.5 L1216.9,1142.2 L1220.0,1143.0 L1223.2,1143.7 L1226.4,1144.5 L1229.6,1145.3 L1232.8,1146.1 L1235.9,1146.9 L1239.1,1147.7 L1242.3,1148.5 L1245.5,1149.4 L1248.7,1150.2 L1251.8,1151.1 L1255.0,1152.0 L1258.2,1152.8 L1261.4,1153.7 L1264.6,1154.6 L1267.7,1155.5 L1270.9,1156.5 L1274.1,1157.4 L1277.3,1158.3 L1280.5,1159.3 L1283.7,1160.3 L1286.8,1161.2 L1290.0,1162.2 L1293.2,1163.2 L1296.4,1164.2 L1299.6,1165.2 L1302.7,1166.3 L1305.9,1167.3 L1309.1,1168.3 L1312.3,1169.4 L1315.5,1170.5 L1318.6,1171.5 L1321.8,1172.6 L1325.0,1173.7 L1328.2,1174.8 L1331.4,1175.9 L1334.5,1177.1 L1337.7,1178.2 L1340.9,1179.3 L1344.1,1180.5 L1347.3,1181.6 L1350.5,1182.8 L1353.6,1183.9 L1356.8,1185.1 L1360.0,1186.3 L1363.2,1187.5 L1366.4,1188.7 L1369.5,1189.9 L1372.7,1191.0 L1375.9,1192.2 L1379.1,1193.4 L1382.3,1194.6 L1385.4,1195.9 L1388.6,1197.1 L1391.8,1198.3 L1395.0,1199.5 L1398.2,1200.7 L1401.4,1201.9 L1404.5,1203.1 L1407.7,1204.3 L1410.9,1205.5 L1414.1,1206.6 L1417.3,1207.8 L1420.4,1209.0 L1423.6,1210.2 L1426.8,1211.3 L1430.0,1212.5 L1433.2,1213.7 L1436.3,1214.8 L1439.5,1215.9 L1442.7,1217.1 L1445.9,1218.2 L1449.1,1219.3 L1452.2,1220.4 L1455.4,1221.5 L1458.6,1222.6 L1461.8,1223.6 L1465.0,1224.7 L1468.2,1225.7 L1471.3,1226.7 L1474.5,1227.7 L1477.7,1228.7 L1480.9,1229.7 L1484.1,1230.7 L1487.2,1231.7 L1490.4,1232.6 L1493.6,1233.5 L1496.8,1234.4 L1500.0,1235.3 L1503.1,1236.2 L1506.3,1237.1 L1509.5,1237.9 L1512.7,1238.8 L1515.9,1239.6 L1519.0,1240.4 L1522.2,1241.2 L1525.4,1242.0 L1528.6,1242.7 L1531.8,1243.5 L1535.0,1244.2 L1538.1,1244.9 L1541.3,1245.6 L1544.5,1246.3 L1547.7,1247.0 L1550.9,1247.6 L1554.0,1248.3 L1557.2,1248.9 L1560.4,1249.5 L1563.6,1250.1 L1566.8,1250.6 L1569.9,1251.2 L1573.1,1251.8 L1576.3,1252.3 L1579.5,1252.8 L1582.7,1253.3 L1585.8,1253.8 L1589.0,1254.3 L1592.2,1254.8 L1595.4,1255.2 L1598.6,1255.7 L1601.8,1256.1 L1604.9,1256.5 L1608.1,1256.9 L1611.3,1257.3 L1614.5,1257.7 L1617.7,1258.1 L1620.8,1258.4 L1624.0,1258.8 L1627.2,1259.1 L1630.4,1259.5 L1633.6,1259.8 L1636.7,1260.1 L1639.9,1260.4 L1643.1,1260.7 L1646.3,1261.0 L1649.5,1261.3 L1652.6,1261.5 L1655.8,1261.8 L1659.0,1262.1 L1662.2,1262.3 L1665.4,1262.5 L1668.6,1262.8 L1671.7,1263.0 L1674.9,1263.2 L1678.1,1263.4 L1681.3,1263.6 L1684.5,1263.8 L1687.6,1264.0 L1690.8,1264.2 L1694.0,1264.4 L1697.2,1264.6 L1700.4,1264.8 L1703.5,1264.9 L1706.7,1265.1 L1709.9,1265.3 L1713.1,1265.4 L1716.3,1265.6 L1719.5,1265.7 L1722.6,1265.9 L1725.8,1266.0 L1729.0,1266.2 L1732.2,1266.3 L1735.4,1266.4 L1738.5,1266.6 L1741.7,1266.7 L1744.9,1266.8 L1748.1,1266.9 L1751.3,1267.0 L1754.4,1267.2 L1757.6,1267.3 L1760.8,1267.4 L1764.0,1267.5 L1767.2,1267.6 L1770.3,1267.7 L1773.5,1267.8 L1776.7,1267.9 L1779.9,1268.0 L1783.1,1268.1 L1786.3,1268.2 L1789.4,1268.3 L1792.6,1268.4 L1795.8,1268.5 L1799.0,1268.6 L1802.2,1268.6 L1805.3,1268.7 L1808.5,1268.8 L1811.7,1268.9 L1814.9,1269.0 L1818.1,1269.0 L1821.2,1269.1 L1824.4,1269.2 L1827.6,1269.3 L1830.8,1269.4 L1834.0,1269.4 L1837.1,1269.5 L1840.3,1269.6 L1843.5,1269.6 L1846.7,1269.7 L1849.9,1269.8 L1853.1,1269.8 L1856.2,1269.9 L1859.4,1270.0 L1862.6,1270.0 L1865.8,1270.1 L1869.0,1270.2 L1872.1,1270.2 L1875.3,1270.3 L1878.5,1270.3 L1881.7,1270.4 L1884.9,1270.4 L1888.0,1270.5 L1891.2,1270.6 L1894.4,1270.6 L1897.6,1270.7 L1900.8,1270.7 L1903.9,1270.8 L1907.1,1270.8 L1910.3,1270.9 L1913.5,1270.9 L1916.7,1271.0 L1919.9,1271.0 L1923.0,1271.0 L1926.2,1271.1 L1929.4,1271.1 L1932.6,1271.2 L1935.8,1271.2 L1938.9,1271.3 L1942.1,1271.3 L1945.3,1271.3 L1948.5,1271.4 L1951.7,1271.4 L1954.8,1271.4 L1958.0,1271.5 L1961.2,1271.5 L1964.4,1271.5 L1967.6,1271.6 L1970.7,1271.6 L1973.9,1271.6 L1977.1,1271.7 L1980.3,1271.7 L1983.5,1271.7 L1986.7,1271.8 L1989.8,1271.8 L1993.0,1271.8 L1996.2,1271.8 L1999.4,1271.9 L2002.6,1271.9 L2005.7,1271.9 L2008.9,1271.9 L2012.1,1272.0 L2015.3,1272.0 L2018.5,1272.0 L2021.6,1272.0 L2024.8,1272.0 L2028.0,1272.1 L2031.2,1272.1 L2034.4,1272.1 L2037.6,1272.1 L2040.7,1272.1 L2043.9,1272.2 L2047.1,1272.2 L2050.3,1272.2 L2053.5,1272.2 L2056.6,1272.2 L2059.8,1272.2 L2063.0,1272.2 L2066.2,1272.3 L2069.4,1272.3 L2072.5,1272.3 L2075.7,1272.3 L2078.9,1272.3 L2082.1,1272.3 L2085.3,1272.3 L2088.4,1272.3 L2091.6,1272.3 L2094.8,1272.4 L2098.0,1272.4 L2101.2,1272.4 L2104.4,1272.4 L2107.5,1272.4 L2110.7,1272.4 L2113.9,1272.4 L2117.1,1272.4 L2120.3,1272.4 L2123.4,1272.4 L2126.6,1272.4 L2129.8,1272.4 L2133.0,1272.4 L2136.2,1272.5 L2139.3,1272.5 L2142.5,1272.5 L2145.7,1272.5 L2148.9,1272.5 L2152.1,1272.5 L2155.2,1272.5 L2158.4,1272.5 L2161.6,1272.5 L2164.8,1272.5 L2168.0,1272.5 L2171.2,1272.5 L2174.3,1272.5 L2177.5,1272.5 L2180.7,1272.5 L2183.9,1272.5 L2187.1,1272.5 L2190.2,1272.5 L2193.4,1272.5 L2196.6,1272.5 L2199.8,1272.5 L2203.0,1272.5 L2206.1,1272.5 L2209.3,1272.5" stroke="#f082f0"/>
<path d="M469.3,1270.3 L472.5,1270.3 L475.7,1270.4 L478.9,1270.4 L482.0,1270.4 L485.2,1270.4 L488.4,1270.4 L491.6,1270.4 L494.8,1270.5 L497.9,1270.5 L501.1,1270.5 L504.3,1270.5 L507.5,1270.5 L510.7,1270.5 L513.9,1270.5 L517.0,1270.6 L520.2,1270.6 L523.4,1270.6 L526.6,1270.6 L529.8,1270.6 L532.9,1270.6 L536.1,1270.6 L539.3,1270.6 L542.5,1270.6 L545.7,1270.7 L548.8,1270.7 L552.0,1270.7 L555.2,1270.7 L558.4,1270.7 L561.6,1270.7 L564.7,1270.7 L567.9,1270.7 L571.1,1270.7 L574.3,1270.7 L577.5,1270.7 L580.7,1270.7 L583.8,1270.7 L587.0,1270.7 L590.2,1270.7 L593.4,1270.7 L596.6,1270.7 L599.7,1270.7 L602.9,1270.7 L606.1,1270.7 L609.3,1270.7 L612.5,1270.7 L615.6,1270.7 L618.8,1270.7 L622.0,1270.7 L625.2,1270.7 L628.4,1270.7 L631.5,1270.7 L634.7,1270.7 L637.9,1270.6 L641.1,1270.6 L644.3,1270.6 L647.5,1270.6 L650.6,1270.6 L653.8,1270.5 L657.0,1270.5 L660.2,1270.5 L663.4,1270.4 L666.5,1270.4 L669.7,1270.4 L672.9,1270.3 L676.1,1270.3 L679.3,1270.2 L682.4,1270.2 L685.6,1270.1 L688.8,1270.1 L692.0,1270.0 L695.2,1269.9 L698.3,1269.9 L701.5,1269.8 L704.7,1269.7 L707.9,1269.6 L711.1,1269.5 L714.3,1269.4 L717.4,1269.3 L720.6,1269.2 L723.8,1269.1 L727.0,1269.0 L730.2,1268.8 L733.3,1268.7 L736.5,1268.5 L739.7,1268.4 L742.9,1268.2 L746.1,1268.0 L749.2,1267.8 L752.4,1267.6 L755.6,1267.4 L758.8,1267.2 L762.0,1267.0 L765.2,1266.7 L768.3,1266.4 L771.5,1266.2 L774.7,1265.9 L777.9,1265.5 L781.1,1265.2 L784.2,1264.9 L787.4,1264.5 L790.6,1264.1 L793.8,1263.7 L797.0,1263.3 L800.1,1262.8 L803.3,1262.4 L806.5,1261.9 L809.7,1261.3 L812.9,1260.8 L816.0,1260.2 L819.2,1259.6 L822.4,1258.9 L825.6,1258.3 L828.8,1257.6 L832.0,1256.8 L835.1,1256.0 L838.3,1255.2 L841.5,1254.4 L844.7,1253.5 L847.9,1252.5 L851.0,1251.6 L854.2,1250.6 L857.4,1249.5 L860.6,1248.4 L863.8,1247.2 L866.9,1246.0 L870.1,1244.8 L873.3,1243.5 L876.5,1242.1 L879.7,1240.7 L882.8,1239.3 L886.0,1237.8 L889.2,1236.2 L892.4,1234.6 L895.6,1232.9 L898.8,1231.2 L901.9,1229.4 L905.1,1227.6 L908.3,1225.7 L911.5,1223.7 L914.7,1221.7 L917.8,1219.7 L921.0,1217.6 L924.2,1215.4 L927.4,1213.2 L930.6,1210.9 L933.7,1208.6 L936.9,1206.2 L940.1,1203.7 L943.3,1201.3 L946.5,1198.8 L949.6,1196.2 L952.8,1193.6 L956.0,1190.9 L959.2,1188.3 L962.4,1185.5 L965.6,1182.8 L968.7,1180.0 L971.9,1177.2 L975.1,1174.4 L978.3,1171.6 L981.5,1168.7 L984.6,1165.9 L987.8,1163.0 L991.0,1160.1 L994.2,1157.2 L997.4,1154.4 L1000.5,1151.5 L1003.7,1148.7 L1006.9,1145.8 L1010.1,1143.0 L1013.3,1140.2 L1016.4,1137.4 L1019.6,1134.7 L1022.8,1132.0 L1026.0,1129.4 L1029.2,1126.7 L1032.4,1124.2 L1035.5,1121.7 L1038.7,1119.2 L1041.9,1116.8 L1045.1,1114.4 L1048.3,1112.2 L1051.4,1110.0 L1054.6,1107.8 L1057.8,1105.7 L1061.0,1103.7 L1064.2,1101.8 L1067.3,1100.0 L1070.5,1098.2 L1073.7,1096.5 L1076.9,1094.9 L1080.1,1093.4 L1083.3,1092.0 L1086.4,1090.7 L1089.6,1089.4 L1092.8,1088.2 L1096.0,1087.1 L1099.2,1086.1 L1102.3,1085.2 L1105.5,1084.4 L1108.7,1083.7 L1111.9,1083.0 L1115.1,1082.4 L1118.2,1081.9 L1121.4,1081.5 L1124.6,1081.1 L1127.8,1080.9 L1131.0,1080.7 L1134.1,1080.6 L1137.3,1080.5 L1140.5,1080.5 L1143.7,1080.6 L1146.9,1080.7 L1150.1,1080.9 L1153.2,1081.2 L1156.4,1081.5 L1159.6,1081.9 L1162.8,1082.3 L1166.0,1082.8 L1169.1,1083.3 L1172.3,1083.9 L1175.5,1084.5 L1178.7,1085.1 L1181.9,1085.8 L1185.0,1086.5 L1188.2,1087.3 L1191.4,1088.1 L1194.6,1088.9 L1197.8,1089.7 L1200.9,1090.6 L1204.1,1091.5 L1207.3,1092.4 L1210.5,1093.4 L1213.7,1094.3 L1216.9,1095.3 L1220.0,1096.3 L1223.2,1097.4 L1226.4,1098.4 L1229.6,1099.5 L1232.8,1100.6 L1235.9,1101.7 L1239.1,1102.8 L1242.3,1103.9 L1245.5,1105.1 L1248.7,1106.2 L1251.8,1107.4 L1255.0,1108.6 L1258.2,1109.8 L1261.4,1111.0 L1264.6,1112.2 L1267.7,1113.5 L1270.9,1114.7 L1274.1,1116.0 L1277.3,1117.3 L1280.5,1118.6 L1283.7,1119.9 L1286.8,1121.2 L1290.0,1122.5 L1293.2,1123.9 L1296.4,1125.3 L1299.6,1126.6 L1302.7,1128.0 L1305.9,1129.4 L1309.1,1130.9 L1312.3,1132.3 L1315.5,1133.7 L1318.6,1135.2 L1321.8,1136.7 L1325.0,1138.2 L1328.2,1139.7 L1331.4,1141.2 L1334.5,1142.7 L1337.7,1144.2 L1340.9,1145.8 L1344.1,1147.3 L1347.3,1148.9 L1350.5,1150.5 L1353.6,1152.1 L1356.8,1153.7 L1360.0,1155.3 L1363.2,1156.9 L1366.4,1158.5 L1369.5,1160.1 L1372.7,1161.7 L1375.9,1163.4 L1379.1,1165.0 L1382.3,1166.6 L1385.4,1168.3 L1388.6,1169.9 L1391.8,1171.5 L1395.0,1173.2 L1398.2,1174.8 L1401.4,1176.4 L1404.5,1178.1 L1407.7,1179.7 L1410.9,1181.3 L1414.1,1182.9 L1417.3,1184.5 L1420.4,1186.2 L1423.6,1187.7 L1426.8,1189.3 L1430.0,1190.9 L1433.2,1192.5 L1436.3,1194.0 L1439.5,1195.6 L1442.7,1197.1 L1445.9,1198.6 L1449.1,1200.1 L1452.2,1201.6 L1455.4,1203.1 L1458.6,1204.6 L1461.8,1206.0 L1465.0,1207.4 L1468.2,1208.9 L1471.3,1210.3 L1474.5,1211.6 L1477.7,1213.0 L1480.9,1214.3 L1484.1,1215.7 L1487.2,1217.0 L1490.4,1218.2 L1493.6,1219.5 L1496.8,1220.7 L1500.0,1222.0 L1503.1,1223.2 L1506.3,1224.3 L1509.5,1225.5 L1512.7,1226.6 L1515.9,1227.8 L1519.0,1228.9 L1522.2,1229.9 L1525.4,1231.0 L1528.6,1232.0 L1531.8,1233.0 L1535.0,1234.0 L1538.1,1235.0 L1541.3,1235.9 L1544.5,1236.9 L1547.7,1237.8 L1550.9,1238.6 L1554.0,1239.5 L1557.2,1240.4 L1560.4,1241.2 L1563.6,1242.0 L1566.8,1242.8 L1569.9,1243.5 L1573.1,1244.3 L1576.3,1245.0 L1579.5,1245.7 L1582.7,1246.4 L1585.8,1247.1 L1589.0,1247.7 L1592.2,1248.4 L1595.4,1249.0 L1598.6,1249.6 L1601.8,1250.2 L1604.9,1250.7 L1608.1,1251.3 L1611.3,1251.8 L1614.5,1252.4 L1617.7,1252.9 L1620.8,1253.4 L1624.0,1253.8 L1627.2,1254.3 L1630.4,1254.8 L1633.6,1255.2 L1636.7,1255.6 L1639.9,1256.0 L1643.1,1256.4 L1646.3,1256.8 L1649.5,1257.2 L1652.6,1257.6 L1655.8,1257.9 L1659.0,1258.3 L1662.2,1258.6 L1665.4,1258.9 L1668.6,1259.3 L1671.7,1259.6 L1674.9,1259.9 L1678.1,1260.2 L1681.3,1260.4 L1684.5,1260.7 L1687.6,1261.0 L1690.8,1261.2 L1694.0,1261.5 L1697.2,1261.7 L1700.4,1262.0 L1703.5,1262.2 L1706.7,1262.4 L1709.9,1262.6 L1713.1,1262.9 L1716.3,1263.1 L1719.5,1263.3 L1722.6,1263.5 L1725.8,1263.7 L1729.0,1263.9 L1732.2,1264.0 L1735.4,1264.2 L1738.5,1264.4 L1741.7,1264.6 L1744.9,1264.7 L1748.1,1264.9 L1751.3,1265.1 L1754.4,1265.2 L1757.6,1265.4 L1760.8,1265.5 L1764.0,1265.7 L1767.2,1265.8 L1770.3,1265.9 L1773.5,1266.1 L1776.7,1266.2 L1779.9,1266.4 L1783.1,1266.5 L1786.3,1266.6 L1789.4,1266.7 L1792.6,1266.9 L1795.8,1267.0 L1799.0,1267.1 L1802.2,1267.2 L1805.3,1267.3 L1808.5,1267.5 L1811.7,1267.6 L1814.9,1267.7 L1818.1,1267.8 L1821.2,1267.9 L1824.4,1268.0 L1827.6,1268.1 L1830.8,1268.2 L1834.0,1268.3 L1837.1,1268.4 L1840.3,1268.5 L1843.5,1268.6 L1846.7,1268.7 L1849.9,1268.8 L1853.1,1268.9 L1856.2,1268.9 L1859.4,1269.0 L1862.6,1269.1 L1865.8,1269.2 L1869.0,1269.3 L1872.1,1269.4 L1875.3,1269.4 L1878.5,1269.5 L1881.7,1269.6 L1884.9,1269.7 L1888.0,1269.8 L1891.2,1269.8 L1894.4,1269.9 L1897.6,1270.0 L1900.8,1270.0 L1903.9,1270.1 L1907.1,1270.2 L1910.3,1270.2 L1913.5,1270.3 L1916.7,1270.4 L1919.9,1270.4 L1923.0,1270.5 L1926.2,1270.5 L1929.4,1270.6 L1932.6,1270.7 L1935.8,1270.7 L1938.9,1270.8 L1942.1,1270.8 L1945.3,1270.9 L1948.5,1270.9 L1951.7,1271.0 L1954.8,1271.0 L1958.0,1271.1 L1961.2,1271.1 L1964.4,1271.2 L1967.6,1271.2 L1970.7,1271.3 L1973.9,1271.3 L1977.1,1271.3 L1980.3,1271.4 L1983.5,1271.4 L1986.7,1271.5 L1989.8,1271.5 L1993.0,1271.5 L1996.2,1271.6 L1999.4,1271.6 L2002.6,1271.6 L2005.7,1271.7 L2008.9,1271.7 L2012.1,1271.7 L2015.3,1271.8 L2018.5,1271.8 L2021.6,1271.8 L2024.8,1271.8 L2028.0,1271.9 L2031.2,1271.9 L2034.4,1271.9 L2037.6,1272.0 L2040.7,1272.0 L2043.9,1272.0 L2047.1,1272.0 L2050.3,1272.0 L2053.5,1272.1 L2056.6,1272.1 L2059.8,1272.1 L2063.0,1272.1 L2066.2,1272.1 L2069.4,1272.2 L2072.5,1272.2 L2075.7,1272.2 L2078.9,1272.2 L2082.1,1272.2 L2085.3,1272.2 L2088.4,1272.2 L2091.6,1272.3 L2094.8,1272.3 L2098.0,1272.3 L2101.2,1272.3 L2104.4,1272.3 L2107.5,1272.3 L2110.7,1272.3 L2113.9,1272.3 L2117.1,1272.4 L2120.3,1272.4 L2123.4,1272.4 L2126.6,1272.4 L2129.8,1272.4 L2133.0,1272.4 L2136.2,1272.4 L2139.3,1272.4 L2142.5,1272.4 L2145.7,1272.4 L2148.9,1272.4 L2152.1,1272.4 L2155.2,1272.4 L2158.4,1272.5 L2161.6,1272.5 L2164.8,1272.5 L2168.0,1272.5 L2171.2,1272.5 L2174.3,1272.5 L2177.5,1272.5 L2180.7,1272.5 L2183.9,1272.5 L2187.1,1272.5 L2190.2,1272.5 L2193.4,1272.5 L2196.6,1272.5 L2199.8,1272.5 L2203.0,1272.5 L2206.1,1272.5 L2209.3,1272.5" stroke="#404040"/>
<path d="M469.3,1270.0 L472.5,1270.1 L475.7,1270.1 L478.9,1270.1 L482.0,1270.1 L485.2,1270.1 L488.4,1270.1 L491.6,1270.2 L494.8,1270.2 L497.9,1270.2 L501.1,1270.2 L504.3,1270.2 L507.5,1270.2 L510.7,1270.3 L513.9,1270.3 L517.0,1270.3 L520.2,1270.3 L523.4,1270.3 L526.6,1270.3 L529.8,1270.3 L532.9,1270.4 L536.1,1270.4 L539.3,1270.4 L542.5,1270.4 L545.7,1270.4 L548.8,1270.4 L552.0,1270.4 L555.2,1270.4 L558.4,1270.4 L561.6,1270.4 L564.7,1270.5 L567.9,1270.5 L571.1,1270.5 L574.3,1270.5 L577.5,1270.5 L580.7,1270.5 L583.8,1270.5 L587.0,1270.5 L590.2,1270.5 L593.4,1270.5 L596.6,1270.5 L599.7,1270.5 L602.9,1270.5 L606.1,1270.5 L609.3,1270.5 L612.5,1270.5 L615.6,1270.5 L618.8,1270.4 L622.0,1270.4 L625.2,1270.4 L628.4,1270.4 L631.5,1270.4 L634.7,1270.4 L637.9,1270.3 L641.1,1270.3 L644.3,1270.3 L647.5,1270.3 L650.6,1270.2 L653.8,1270.2 L657.0,1270.2 L660.2,1270.1 L663.4,1270.1 L666.5,1270.0 L669.7,1270.0 L672.9,1269.9 L676.1,1269.9 L679.3,1269.8 L682.4,1269.8 L685.6,1269.7 L688.8,1269.6 L692.0,1269.5 L695.2,1269.5 L698.3,1269.4 L701.5,1269.3 L704.7,1269.2 L707.9,1269.1 L711.1,1268.9 L714.3,1268.8 L717.4,1268.7 L720.6,1268.6 L723.8,1268.4 L727.0,1268.2 L730.2,1268.1 L733.3,1267.9 L736.5,1267.7 L739.7,1267.5 L742.9,1267.3 L746.1,1267.1 L749.2,1266.9 L752.4,1266.6 L755.6,1266.4 L758.8,1266.1 L762.0,1265.8 L765.2,1265.5 L768.3,1265.1 L771.5,1264.8 L774.7,1264.4 L777.9,1264.1 L781.1,1263.6 L784.2,1263.2 L787.4,1262.8 L790.6,1262.3 L793.8,1261.8 L797.0,1261.3 L800.1,1260.7 L803.3,1260.1 L806.5,1259.5 L809.7,1258.9 L812.9,1258.2 L816.0,1257.5 L819.2,1256.7 L822.4,1255.9 L825.6,1255.1 L828.8,1254.2 L832.0,1253.3 L835.1,1252.4 L838.3,1251.4 L841.5,1250.3 L844.7,1249.2 L847.9,1248.1 L851.0,1246.9 L854.2,1245.6 L857.4,1244.3 L860.6,1243.0 L863.8,1241.6 L866.9,1240.1 L870.1,1238.6 L873.3,1237.0 L876.5,1235.3 L879.7,1233.6 L882.8,1231.8 L886.0,1230.0 L889.2,1228.0 L892.4,1226.1 L895.6,1224.0 L898.8,1221.9 L901.9,1219.7 L905.1,1217.5 L908.3,1215.1 L911.5,1212.7 L914.7,1210.3 L917.8,1207.7 L921.0,1205.1 L924.2,1202.5 L927.4,1199.8 L930.6,1197.0 L933.7,1194.1 L936.9,1191.2 L940.1,1188.2 L943.3,1185.2 L946.5,1182.1 L949.6,1178.9 L952.8,1175.7 L956.0,1172.5 L959.2,1169.2 L962.4,1165.9 L965.6,1162.5 L968.7,1159.1 L971.9,1155.7 L975.1,1152.2 L978.3,1148.7 L981.5,1145.2 L984.6,1141.7 L987.8,1138.2 L991.0,1134.7 L994.2,1131.2 L997.4,1127.6 L1000.5,1124.1 L1003.7,1120.6 L1006.9,1117.1 L1010.1,1113.7 L1013.3,1110.3 L1016.4,1106.9 L1019.6,1103.5 L1022.8,1100.2 L1026.0,1096.9 L1029.2,1093.7 L1032.4,1090.6 L1035.5,1087.5 L1038.7,1084.5 L1041.9,1081.5 L1045.1,1078.7 L1048.3,1075.9 L1051.4,1073.1 L1054.6,1070.5 L1057.8,1068.0 L1061.0,1065.5 L1064.2,1063.2 L1067.3,1060.9 L1070.5,1058.7 L1073.7,1056.7 L1076.9,1054.7 L1080.1,1052.9 L1083.3,1051.1 L1086.4,1049.5 L1089.6,1047.9 L1092.8,1046.5 L1096.0,1045.2 L1099.2,1043.9 L1102.3,1042.8 L1105.5,1041.8 L1108.7,1040.9 L1111.9,1040.1 L1115.1,1039.3 L1118.2,1038.7 L1121.4,1038.2 L1124.6,1037.8 L1127.8,1037.5 L1131.0,1037.2 L1134.1,1037.1 L1137.3,1037.0 L1140.5,1037.0 L1143.7,1037.1 L1146.9,1037.3 L1150.1,1037.5 L1153.2,1037.9 L1156.4,1038.2 L1159.6,1038.7 L1162.8,1039.2 L1166.0,1039.8 L1169.1,1040.4 L1172.3,1041.1 L1175.5,1041.9 L1178.7,1042.7 L1181.9,1043.5 L1185.0,1044.4 L1188.2,1045.3 L1191.4,1046.3 L1194.6,1047.3 L1197.8,1048.3 L1200.9,1049.4 L1204.1,1050.5 L1207.3,1051.6 L1210.5,1052.8 L1213.7,1054.0 L1216.9,1055.2 L1220.0,1056.4 L1223.2,1057.7 L1226.4,1059.0 L1229.6,1060.3 L1232.8,1061.6 L1235.9,1063.0 L1239.1,1064.3 L1242.3,1065.7 L1245.5,1067.1 L1248.7,1068.5 L1251.8,1070.0 L1255.0,1071.4 L1258.2,1072.9 L1261.4,1074.4 L1264.6,1075.9 L1267.7,1077.4 L1270.9,1079.0 L1274.1,1080.5 L1277.3,1082.1 L1280.5,1083.7 L1283.7,1085.3 L1286.8,1086.9 L1290.0,1088.6 L1293.2,1090.2 L1296.4,1091.9 L1299.6,1093.6 L1302.7,1095.3 L1305.9,1097.0 L1309.1,1098.8 L1312.3,1100.5 L1315.5,1102.3 L1318.6,1104.1 L1321.8,1105.9 L1325.0,1107.7 L1328.2,1109.6 L1331.4,1111.4 L1334.5,1113.3 L1337.7,1115.2 L1340.9,1117.1 L1344.1,1119.0 L1347.3,1120.9 L1350.5,1122.8 L1353.6,1124.8 L1356.8,1126.7 L1360.0,1128.7 L1363.2,1130.7 L1366.4,1132.6 L1369.5,1134.6 L1372.7,1136.6 L1375.9,1138.6 L1379.1,1140.6 L1382.3,1142.6 L1385.4,1144.6 L1388.6,1146.6 L1391.8,1148.6 L1395.0,1150.7 L1398.2,1152.7 L1401.4,1154.7 L1404.5,1156.7 L1407.7,1158.7 L1410.9,1160.7 L1414.1,1162.6 L1417.3,1164.6 L1420.4,1166.6 L1423.6,1168.5 L1426.8,1170.5 L1430.0,1172.4 L1433.2,1174.3 L1436.3,1176.2 L1439.5,1178.1 L1442.7,1180.0 L1445.9,1181.9 L1449.1,1183.7 L1452.2,1185.6 L1455.4,1187.4 L1458.6,1189.2 L1461.8,1190.9 L1465.0,1192.7 L1468.2,1194.4 L1471.3,1196.1 L1474.5,1197.8 L1477.7,1199.5 L1480.9,1201.1 L1484.1,1202.8 L1487.2,1204.4 L1490.4,1205.9 L1493.6,1207.5 L1496.8,1209.0 L1500.0,1210.5 L1503.1,1212.0 L1506.3,1213.4 L1509.5,1214.8 L1512.7,1216.2 L1515.9,1217.6 L1519.0,1219.0 L1522.2,1220.3 L1525.4,1221.6 L1528.6,1222.8 L1531.8,1224.1 L1535.0,1225.3 L1538.1,1226.5 L1541.3,1227.6 L1544.5,1228.8 L1547.7,1229.9 L1550.9,1231.0 L1554.0,1232.0 L1557.2,1233.1 L1560.4,1234.1 L1563.6,1235.1 L1566.8,1236.0 L1569.9,1237.0 L1573.1,1237.9 L1576.3,1238.8 L1579.5,1239.6 L1582.7,1240.5 L1585.8,1241.3 L1589.0,1242.1 L1592.2,1242.9 L1595.4,1243.6 L1598.6,1244.4 L1601.8,1245.1 L1604.9,1245.8 L1608.1,1246.5 L1611.3,1247.1 L1614.5,1247.8 L1617.7,1248.4 L1620.8,1249.0 L1624.0,1249.6 L1627.2,1250.2 L1630.4,1250.7 L1633.6,1251.3 L1636.7,1251.8 L1639.9,1252.3 L1643.1,1252.8 L1646.3,1253.3 L1649.5,1253.7 L1652.6,1254.2 L1655.8,1254.6 L1659.0,1255.0 L1662.2,1255.5 L1665.4,1255.9 L1668.6,1256.2 L1671.7,1256.6 L1674.9,1257.0 L1678.1,1257.3 L1681.3,1257.7 L1684.5,1258.0 L1687.6,1258.4 L1690.8,1258.7 L1694.0,1259.0 L1697.2,1259.3 L1700.4,1259.6 L1703.5,1259.9 L1706.7,1260.1 L1709.9,1260.4 L1713.1,1260.7 L1716.3,1260.9 L1719.5,1261.2 L1722.6,1261.4 L1725.8,1261.7 L1729.0,1261.9 L1732.2,1262.1 L1735.4,1262.3 L1738.5,1262.5 L1741.7,1262.8 L1744.9,1263.0 L1748.1,1263.2 L1751.3,1263.4 L1754.4,1263.5 L1757.6,1263.7 L1760.8,1263.9 L1764.0,1264.1 L1767.2,1264.3 L1770.3,1264.5 L1773.5,1264.6 L1776.7,1264.8 L1779.9,1265.0 L1783.1,1265.1 L1786.3,1265.3 L1789.4,1265.4 L1792.6,1265.6 L1795.8,1265.7 L1799.0,1265.9 L1802.2,1266.0 L1805.3,1266.2 L1808.5,1266.3 L1811.7,1266.4 L1814.9,1266.6 L1818.1,1266.7 L1821.2,1266.8 L1824.4,1267.0 L1827.6,1267.1 L1830.8,1267.2 L1834.0,1267.3 L1837.1,1267.4 L1840.3,1267.6 L1843.5,1267.7 L1846.7,1267.8 L1849.9,1267.9 L1853.1,1268.0 L1856.2,1268.1 L1859.4,1268.2 L1862.6,1268.3 L1865.8,1268.4 L1869.0,1268.5 L1872.1,1268.6 L1875.3,1268.7 L1878.5,1268.8 L1881.7,1268.9 L1884.9,1269.0 L1888.0,1269.1 L1891.2,1269.2 L1894.4,1269.3 L1897.6,1269.4 L1900.8,1269.5 L1903.9,1269.5 L1907.1,1269.6 L1910.3,1269.7 L1913.5,1269.8 L1916.7,1269.9 L1919.9,1269.9 L1923.0,1270.0 L1926.2,1270.1 L1929.4,1270.2 L1932.6,1270.2 L1935.8,1270.3 L1938.9,1270.4 L1942.1,1270.4 L1945.3,1270.5 L1948.5,1270.6 L1951.7,1270.6 L1954.8,1270.7 L1958.0,1270.7 L1961.2,1270.8 L1964.4,1270.9 L1967.6,1270.9 L1970.7,1271.0 L1973.9,1271.0 L1977.1,1271.1 L1980.3,1271.1 L1983.5,1271.2 L1986.7,1271.2 L1989.8,1271.3 L1993.0,1271.3 L1996.2,1271.3 L1999.4,1271.4 L2002.6,1271.4 L2005.7,1271.5 L2008.9,1271.5 L2012.1,1271.5 L2015.3,1271.6 L2018.5,1271.6 L2021.6,1271.7 L2024.8,1271.7 L2028.0,1271.7 L2031.2,1271.7 L2034.4,1271.8 L2037.6,1271.8 L2040.7,1271.8 L2043.9,1271.9 L2047.1,1271.9 L2050.3,1271.9 L2053.5,1271.9 L2056.6,1272.0 L2059.8,1272.0 L2063.0,1272.0 L2066.2,1272.0 L2069.4,1272.1 L2072.5,1272.1 L2075.7,1272.1 L2078.9,1272.1 L2082.1,1272.1 L2085.3,1272.2 L2088.4,1272.2 L2091.6,1272.2 L2094.8,1272.2 L2098.0,1272.2 L2101.2,1272.2 L2104.4,1272.3 L2107.5,1272.3 L2110.7,1272.3 L2113.9,1272.3 L2117.1,1272.3 L2120.3,1272.3 L2123.4,1272.3 L2126.6,1272.3 L2129.8,1272.3 L2133.0,1272.4 L2136.2,1272.4 L2139.3,1272.4 L2142.5,1272.4 L2145.7,1272.4 L2148.9,1272.4 L2152.1,1272.4 L2155.2,1272.4 L2158.4,1272.4 L2161.6,1272.4 L2164.8,1272.4 L2168.0,1272.4 L2171.2,1272.5 L2174.3,1272.5 L2177.5,1272.5 L2180.7,1272.5 L2183.9,1272.5 L2187.1,1272.5 L2190.2,1272.5 L2193.4,1272.5 L2196.6,1272.5 L2199.8,1272.5 L2203.0,1272.5 L2206.1,1272.5 L2209.3,1272.5" stroke="#000000"/>
<path d="M469.3,1269.9 L472.5,1269.9 L475.7,1270.0 L478.9,1270.0 L482.0,1270.0 L485.2,1270.0 L488.4,1270.0 L491.6,1270.0 L494.8,1270.1 L497.9,1270.1 L501.1,1270.1 L504.3,1270.1 L507.5,1270.1 L510.7,1270.1 L513.9,1270.2 L517.0,1270.2 L520.2,1270.2 L523.4,1270.2 L526.6,1270.2 L529.8,1270.2 L532.9,1270.2 L536.1,1270.3 L539.3,1270.3 L542.5,1270.3 L545.7,1270.3 L548.8,1270.3 L552.0,1270.3 L555.2,1270.3 L558.4,1270.3 L561.6,1270.3 L564.7,1270.3 L567.9,1270.4 L571.1,1270.4 L574.3,1270.4 L577.5,1270.4 L580.7,1270.4 L583.8,1270.4 L587.0,1270.4 L590.2,1270.4 L593.4,1270.4 L596.6,1270.4 L599.7,1270.4 L602.9,1270.4 L606.1,1270.4 L609.3,1270.4 L612.5,1270.4 L615.6,1270.3 L618.8,1270.3 L622.0,1270.3 L625.2,1270.3 L628.4,1270.3 L631.5,1270.3 L634.7,1270.2 L637.9,1270.2 L641.1,1270.2 L644.3,1270.2 L647.5,1270.1 L650.6,1270.1 L653.8,1270.1 L657.0,1270.0 L660.2,1270.0 L663.4,1269.9 L666.5,1269.9 L669.7,1269.8 L672.9,1269.8 L676.1,1269.7 L679.3,1269.7 L682.4,1269.6 L685.6,1269.5 L688.8,1269.4 L692.0,1269.4 L695.2,1269.3 L698.3,1269.2 L701.5,1269.1 L704.7,1269.0 L707.9,1268.8 L711.1,1268.7 L714.3,1268.6 L717.4,1268.4 L720.6,1268.3 L723.8,1268.1 L727.0,1268.0 L730.2,1267.8 L733.3,1267.6 L736.5,1267.4 L739.7,1267.2 L742.9,1267.0 L746.1,1266.7 L749.2,1266.5 L752.4,1266.2 L755.6,1265.9 L758.8,1265.6 L762.0,1265.3 L765.2,1265.0 L768.3,1264.6 L771.5,1264.3 L774.7,1263.9 L777.9,1263.5 L781.1,1263.0 L784.2,1262.6 L787.4,1262.1 L790.6,1261.6 L793.8,1261.0 L797.0,1260.5 L800.1,1259.9 L803.3,1259.2 L806.5,1258.6 L809.7,1257.9 L812.9,1257.1 L816.0,1256.4 L819.2,1255.6 L822.4,1254.7 L825.6,1253.8 L828.8,1252.9 L832.0,1251.9 L835.1,1250.9 L838.3,1249.8 L841.5,1248.7 L844.7,1247.5 L847.9,1246.3 L851.0,1245.0 L854.2,1243.7 L857.4,1242.3 L860.6,1240.8 L863.8,1239.3 L866.9,1237.7 L870.1,1236.1 L873.3,1234.3 L876.5,1232.6 L879.7,1230.7 L882.8,1228.8 L886.0,1226.8 L889.2,1224.8 L892.4,1222.6 L895.6,1220.4 L898.8,1218.2 L901.9,1215.8 L905.1,1213.4 L908.3,1210.9 L911.5,1208.3 L914.7,1205.7 L917.8,1202.9 L921.0,1200.2 L924.2,1197.3 L927.4,1194.4 L930.6,1191.4 L933.7,1188.3 L936.9,1185.2 L940.1,1182.0 L943.3,1178.7 L946.5,1175.4 L949.6,1172.0 L952.8,1168.6 L956.0,1165.1 L959.2,1161.5 L962.4,1158.0 L965.6,1154.4 L968.7,1150.7 L971.9,1147.0 L975.1,1143.3 L978.3,1139.6 L981.5,1135.8 L984.6,1132.0 L987.8,1128.2 L991.0,1124.4 L994.2,1120.7 L997.4,1116.9 L1000.5,1113.1 L1003.7,1109.3 L1006.9,1105.6 L1010.1,1101.9 L1013.3,1098.2 L1016.4,1094.6 L1019.6,1091.0 L1022.8,1087.4 L1026.0,1083.9 L1029.2,1080.5 L1032.4,1077.1 L1035.5,1073.8 L1038.7,1070.5 L1041.9,1067.3 L1045.1,1064.3 L1048.3,1061.2 L1051.4,1058.3 L1054.6,1055.5 L1057.8,1052.8 L1061.0,1050.1 L1064.2,1047.6 L1067.3,1045.2 L1070.5,1042.9 L1073.7,1040.6 L1076.9,1038.5 L1080.1,1036.5 L1083.3,1034.7 L1086.4,1032.9 L1089.6,1031.2 L1092.8,1029.7 L1096.0,1028.3 L1099.2,1026.9 L1102.3,1025.7 L1105.5,1024.6 L1108.7,1023.7 L1111.9,1022.8 L1115.1,1022.0 L1118.2,1021.4 L1121.4,1020.8 L1124.6,1020.4 L1127.8,1020.0 L1131.0,1019.7 L1134.1,1019.6 L1137.3,1019.5 L1140.5,1019.5 L1143.7,1019.6 L1146.9,1019.8 L1150.1,1020.1 L1153.2,1020.4 L1156.4,1020.8 L1159.6,1021.3 L1162.8,1021.9 L1166.0,1022.5 L1169.1,1023.2 L1172.3,1023.9 L1175.5,1024.7 L1178.7,1025.6 L1181.9,1026.5 L1185.0,1027.4 L1188.2,1028.4 L1191.4,1029.5 L1194.6,1030.5 L1197.8,1031.7 L1200.9,1032.8 L1204.1,1034.0 L1207.3,1035.2 L1210.5,1036.5 L1213.7,1037.7 L1216.9,1039.0 L1220.0,1040.4 L1223.2,1041.7 L1226.4,1043.1 L1229.6,1044.5 L1232.8,1045.9 L1235.9,1047.4 L1239.1,1048.8 L1242.3,1050.3 L1245.5,1051.8 L1248.7,1053.4 L1251.8,1054.9 L1255.0,1056.5 L1258.2,1058.1 L1261.4,1059.7 L1264.6,1061.3 L1267.7,1062.9 L1270.9,1064.6 L1274.1,1066.2 L1277.3,1067.9 L1280.5,1069.6 L1283.7,1071.4 L1286.8,1073.1 L1290.0,1074.9 L1293.2,1076.7 L1296.4,1078.5 L1299.6,1080.3 L1302.7,1082.1 L1305.9,1084.0 L1309.1,1085.8 L1312.3,1087.7 L1315.5,1089.6 L1318.6,1091.6 L1321.8,1093.5 L1325.0,1095.5 L1328.2,1097.5 L1331.4,1099.4 L1334.5,1101.5 L1337.7,1103.5 L1340.9,1105.5 L1344.1,1107.6 L1347.3,1109.6 L1350.5,1111.7 L1353.6,1113.8 L1356.8,1115.9 L1360.0,1118.0 L1363.2,1120.1 L1366.4,1122.2 L1369.5,1124.4 L1372.7,1126.5 L1375.9,1128.7 L1379.1,1130.8 L1382.3,1133.0 L1385.4,1135.1 L1388.6,1137.3 L1391.8,1139.4 L1395.0,1141.6 L1398.2,1143.8 L1401.4,1145.9 L1404.5,1148.1 L1407.7,1150.2 L1410.9,1152.3 L1414.1,1154.5 L1417.3,1156.6 L1420.4,1158.7 L1423.6,1160.8 L1426.8,1162.9 L1430.0,1165.0 L1433.2,1167.0 L1436.3,1169.1 L1439.5,1171.1 L1442.7,1173.1 L1445.9,1175.2 L1449.1,1177.1 L1452.2,1179.1 L1455.4,1181.0 L1458.6,1183.0 L1461.8,1184.9 L1465.0,1186.8 L1468.2,1188.6 L1471.3,1190.5 L1474.5,1192.3 L1477.7,1194.1 L1480.9,1195.8 L1484.1,1197.6 L1487.2,1199.3 L1490.4,1201.0 L1493.6,1202.6 L1496.8,1204.3 L1500.0,1205.9 L1503.1,1207.5 L1506.3,1209.0 L1509.5,1210.6 L1512.7,1212.1 L1515.9,1213.5 L1519.0,1215.0 L1522.2,1216.4 L1525.4,1217.8 L1528.6,1219.1 L1531.8,1220.5 L1535.0,1221.8 L1538.1,1223.0 L1541.3,1224.3 L1544.5,1225.5 L1547.7,1226.7 L1550.9,1227.9 L1554.0,1229.0 L1557.2,1230.1 L1560.4,1231.2 L1563.6,1232.3 L1566.8,1233.3 L1569.9,1234.3 L1573.1,1235.3 L1576.3,1236.3 L1579.5,1237.2 L1582.7,1238.1 L1585.8,1239.0 L1589.0,1239.8 L1592.2,1240.7 L1595.4,1241.5 L1598.6,1242.3 L1601.8,1243.1 L1604.9,1243.8 L1608.1,1244.5 L1611.3,1245.3 L1614.5,1245.9 L1617.7,1246.6 L1620.8,1247.3 L1624.0,1247.9 L1627.2,1248.5 L1630.4,1249.1 L1633.6,1249.7 L1636.7,1250.2 L1639.9,1250.8 L1643.1,1251.3 L1646.3,1251.8 L1649.5,1252.3 L1652.6,1252.8 L1655.8,1253.3 L1659.0,1253.7 L1662.2,1254.2 L1665.4,1254.6 L1668.6,1255.0 L1671.7,1255.4 L1674.9,1255.8 L1678.1,1256.2 L1681.3,1256.6 L1684.5,1256.9 L1687.6,1257.3 L1690.8,1257.6 L1694.0,1258.0 L1697.2,1258.3 L1700.4,1258.6 L1703.5,1258.9 L1706.7,1259.2 L1709.9,1259.5 L1713.1,1259.8 L1716.3,1260.1 L1719.5,1260.3 L1722.6,1260.6 L1725.8,1260.8 L1729.0,1261.1 L1732.2,1261.3 L1735.4,1261.6 L1738.5,1261.8 L1741.7,1262.0 L1744.9,1262.2 L1748.1,1262.5 L1751.3,1262.7 L1754.4,1262.9 L1757.6,1263.1 L1760.8,1263.3 L1764.0,1263.5 L1767.2,1263.7 L1770.3,1263.8 L1773.5,1264.0 L1776.7,1264.2 L1779.9,1264.4 L1783.1,1264.6 L1786.3,1264.7 L1789.4,1264.9 L1792.6,1265.1 L1795.8,1265.2 L1799.0,1265.4 L1802.2,1265.5 L1805.3,1265.7 L1808.5,1265.8 L1811.7,1266.0 L1814.9,1266.1 L1818.1,1266.3 L1821.2,1266.4 L1824.4,1266.5 L1827.6,1266.7 L1830.8,1266.8 L1834.0,1266.9 L1837.1,1267.1 L1840.3,1267.2 L1843.5,1267.3 L1846.7,1267.4 L1849.9,1267.6 L1853.1,1267.7 L1856.2,1267.8 L1859.4,1267.9 L1862.6,1268.0 L1865.8,1268.1 L1869.0,1268.2 L1872.1,1268.3 L1875.3,1268.5 L1878.5,1268.6 L1881.7,1268.7 L1884.9,1268.8 L1888.0,1268.9 L1891.2,1269.0 L1894.4,1269.0 L1897.6,1269.1 L1900.8,1269.2 L1903.9,1269.3 L1907.1,1269.4 L1910.3,1269.5 L1913.5,1269.6 L1916.7,1269.7 L1919.9,1269.7 L1923.0,1269.8 L1926.2,1269.9 L1929.4,1270.0 L1932.6,1270.1 L1935.8,1270.1 L1938.9,1270.2 L1942.1,1270.3 L1945.3,1270.3 L1948.5,1270.4 L1951.7,1270.5 L1954.8,1270.5 L1958.0,1270.6 L1961.2,1270.7 L1964.4,1270.7 L1967.6,1270.8 L1970.7,1270.8 L1973.9,1270.9 L1977.1,1271.0 L1980.3,1271.0 L1983.5,1271.1 L1986.7,1271.1 L1989.8,1271.2 L1993.0,1271.2 L1996.2,1271.3 L1999.4,1271.3 L2002.6,1271.3 L2005.7,1271.4 L2008.9,1271.4 L2012.1,1271.5 L2015.3,1271.5 L2018.5,1271.5 L2021.6,1271.6 L2024.8,1271.6 L2028.0,1271.7 L2031.2,1271.7 L2034.4,1271.7 L2037.6,1271.8 L2040.7,1271.8 L2043.9,1271.8 L2047.1,1271.8 L2050.3,1271.9 L2053.5,1271.9 L2056.6,1271.9 L2059.8,1271.9 L2063.0,1272.0 L2066.2,1272.0 L2069.4,1272.0 L2072.5,1272.0 L2075.7,1272.1 L2078.9,1272.1 L2082.1,1272.1 L2085.3,1272.1 L2088.4,1272.1 L2091.6,1272.2 L2094.8,1272.2 L2098.0,1272.2 L2101.2,1272.2 L2104.4,1272.2 L2107.5,1272.2 L2110.7,1272.3 L2113.9,1272.3 L2117.1,1272.3 L2120.3,1272.3 L2123.4,1272.3 L2126.6,1272.3 L2129.8,1272.3 L2133.0,1272.3 L2136.2,1272.4 L2139.3,1272.4 L2142.5,1272.4 L2145.7,1272.4 L2148.9,1272.4 L2152.1,1272.4 L2155.2,1272.4 L2158.4,1272.4 L2161.6,1272.4 L2164.8,1272.4 L2168.0,1272.4 L2171.2,1272.4 L2174.3,1272.4 L2177.5,1272.5 L2180.7,1272.5 L2183.9,1272.5 L2187.1,1272.5 L2190.2,1272.5 L2193.4,1272.5 L2196.6,1272.5 L2199.8,1272.5 L2203.0,1272.5 L2206.1,1272.5 L2209.3,1272.5" stroke="#d71414"/>
<path d="M469.3,1269.5 L472.5,1269.5 L475.7,1269.5 L478.9,1269.6 L482.0,1269.6 L485.2,1269.6 L488.4,1269.6 L491.6,1269.6 L494.8,1269.7 L497.9,1269.7 L501.1,1269.7 L504.3,1269.7 L507.5,1269.7 L510.7,1269.8 L513.9,1269.8 L517.0,1269.8 L520.2,1269.8 L523.4,1269.8 L526.6,1269.8 L529.8,1269.9 L532.9,1269.9 L536.1,1269.9 L539.3,1269.9 L542.5,1269.9 L545.7,1269.9 L548.8,1269.9 L552.0,1269.9 L555.2,1270.0 L558.4,1270.0 L561.6,1270.0 L564.7,1270.0 L567.9,1270.0 L571.1,1270.0 L574.3,1270.0 L577.5,1270.0 L580.7,1270.0 L583.8,1270.0 L587.0,1270.0 L590.2,1270.0 L593.4,1270.0 L596.6,1270.0 L599.7,1270.0 L602.9,1270.0 L606.1,1270.0 L609.3,1270.0 L612.5,1270.0 L615.6,1270.0 L618.8,1269.9 L622.0,1269.9 L625.2,1269.9 L628.4,1269.9 L631.5,1269.9 L634.7,1269.8 L637.9,1269.8 L641.1,1269.8 L644.3,1269.7 L647.5,1269.7 L650.6,1269.7 L653.8,1269.6 L657.0,1269.6 L660.2,1269.5 L663.4,1269.4 L666.5,1269.4 L669.7,1269.3 L672.9,1269.2 L676.1,1269.2 L679.3,1269.1 L682.4,1269.0 L685.6,1268.9 L688.8,1268.8 L692.0,1268.7 L695.2,1268.6 L698.3,1268.5 L701.5,1268.3 L704.7,1268.2 L707.9,1268.0 L711.1,1267.9 L714.3,1267.7 L717.4,1267.6 L720.6,1267.4 L723.8,1267.2 L727.0,1267.0 L730.2,1266.7 L733.3,1266.5 L736.5,1266.3 L739.7,1266.0 L742.9,1265.7 L746.1,1265.4 L749.2,1265.1 L752.4,1264.8 L755.6,1264.4 L758.8,1264.0 L762.0,1263.7 L765.2,1263.2 L768.3,1262.8 L771.5,1262.3 L774.7,1261.9 L777.9,1261.3 L781.1,1260.8 L784.2,1260.2 L787.4,1259.6 L790.6,1259.0 L793.8,1258.3 L797.0,1257.6 L800.1,1256.9 L803.3,1256.1 L806.5,1255.3 L809.7,1254.4 L812.9,1253.5 L816.0,1252.5 L819.2,1251.5 L822.4,1250.5 L825.6,1249.4 L828.8,1248.2 L832.0,1247.0 L835.1,1245.7 L838.3,1244.4 L841.5,1243.0 L844.7,1241.5 L847.9,1240.0 L851.0,1238.4 L854.2,1236.7 L857.4,1235.0 L860.6,1233.2 L863.8,1231.3 L866.9,1229.3 L870.1,1227.3 L873.3,1225.1 L876.5,1222.9 L879.7,1220.6 L882.8,1218.2 L886.0,1215.8 L889.2,1213.2 L892.4,1210.6 L895.6,1207.8 L898.8,1205.0 L901.9,1202.1 L905.1,1199.1 L908.3,1196.0 L911.5,1192.8 L914.7,1189.5 L917.8,1186.1 L921.0,1182.6 L924.2,1179.1 L927.4,1175.4 L930.6,1171.7 L933.7,1167.9 L936.9,1164.0 L940.1,1160.0 L943.3,1155.9 L946.5,1151.8 L949.6,1147.6 L952.8,1143.3 L956.0,1139.0 L959.2,1134.6 L962.4,1130.2 L965.6,1125.7 L968.7,1121.1 L971.9,1116.5 L975.1,1111.9 L978.3,1107.3 L981.5,1102.6 L984.6,1097.9 L987.8,1093.2 L991.0,1088.5 L994.2,1083.8 L997.4,1079.1 L1000.5,1074.4 L1003.7,1069.7 L1006.9,1065.1 L1010.1,1060.4 L1013.3,1055.9 L1016.4,1051.3 L1019.6,1046.8 L1022.8,1042.4 L1026.0,1038.1 L1029.2,1033.8 L1032.4,1029.6 L1035.5,1025.5 L1038.7,1021.4 L1041.9,1017.5 L1045.1,1013.6 L1048.3,1009.9 L1051.4,1006.3 L1054.6,1002.8 L1057.8,999.4 L1061.0,996.1 L1064.2,993.0 L1067.3,989.9 L1070.5,987.0 L1073.7,984.3 L1076.9,981.7 L1080.1,979.2 L1083.3,976.9 L1086.4,974.7 L1089.6,972.6 L1092.8,970.7 L1096.0,968.9 L1099.2,967.3 L1102.3,965.8 L1105.5,964.4 L1108.7,963.2 L1111.9,962.1 L1115.1,961.1 L1118.2,960.3 L1121.4,959.6 L1124.6,959.1 L1127.8,958.6 L1131.0,958.3 L1134.1,958.1 L1137.3,958.0 L1140.5,958.0 L1143.7,958.2 L1146.9,958.4 L1150.1,958.7 L1153.2,959.1 L1156.4,959.7 L1159.6,960.3 L1162.8,961.0 L1166.0,961.7 L1169.1,962.6 L1172.3,963.5 L1175.5,964.5 L1178.7,965.6 L1181.9,966.7 L1185.0,967.9 L1188.2,969.1 L1191.4,970.4 L1194.6,971.7 L1197.8,973.1 L1200.9,974.5 L1204.1,976.0 L1207.3,977.5 L1210.5,979.1 L1213.7,980.7 L1216.9,982.3 L1220.0,983.9 L1223.2,985.6 L1226.4,987.3 L1229.6,989.1 L1232.8,990.9 L1235.9,992.6 L1239.1,994.5 L1242.3,996.3 L1245.5,998.2 L1248.7,1000.1 L1251.8,1002.0 L1255.0,1004.0 L1258.2,1005.9 L1261.4,1007.9 L1264.6,1009.9 L1267.7,1012.0 L1270.9,1014.0 L1274.1,1016.1 L1277.3,1018.2 L1280.5,1020.3 L1283.7,1022.5 L1286.8,1024.6 L1290.0,1026.8 L1293.2,1029.0 L1296.4,1031.3 L1299.6,1033.5 L1302.7,1035.8 L1305.9,1038.1 L1309.1,1040.5 L1312.3,1042.8 L1315.5,1045.2 L1318.6,1047.6 L1321.8,1050.0 L1325.0,1052.4 L1328.2,1054.9 L1331.4,1057.4 L1334.5,1059.9 L1337.7,1062.4 L1340.9,1064.9 L1344.1,1067.5 L1347.3,1070.0 L1350.5,1072.6 L1353.6,1075.2 L1356.8,1077.8 L1360.0,1080.4 L1363.2,1083.1 L1366.4,1085.7 L1369.5,1088.4 L1372.7,1091.0 L1375.9,1093.7 L1379.1,1096.4 L1382.3,1099.0 L1385.4,1101.7 L1388.6,1104.4 L1391.8,1107.1 L1395.0,1109.8 L1398.2,1112.4 L1401.4,1115.1 L1404.5,1117.8 L1407.7,1120.5 L1410.9,1123.1 L1414.1,1125.8 L1417.3,1128.4 L1420.4,1131.0 L1423.6,1133.6 L1426.8,1136.2 L1430.0,1138.8 L1433.2,1141.4 L1436.3,1143.9 L1439.5,1146.5 L1442.7,1149.0 L1445.9,1151.5 L1449.1,1153.9 L1452.2,1156.4 L1455.4,1158.8 L1458.6,1161.2 L1461.8,1163.6 L1465.0,1165.9 L1468.2,1168.2 L1471.3,1170.5 L1474.5,1172.8 L1477.7,1175.0 L1480.9,1177.2 L1484.1,1179.4 L1487.2,1181.5 L1490.4,1183.6 L1493.6,1185.7 L1496.8,1187.7 L1500.0,1189.7 L1503.1,1191.7 L1506.3,1193.6 L1509.5,1195.5 L1512.7,1197.4 L1515.9,1199.2 L1519.0,1201.0 L1522.2,1202.7 L1525.4,1204.5 L1528.6,1206.2 L1531.8,1207.8 L1535.0,1209.4 L1538.1,1211.0 L1541.3,1212.6 L1544.5,1214.1 L1547.7,1215.6 L1550.9,1217.0 L1554.0,1218.4 L1557.2,1219.8 L1560.4,1221.2 L1563.6,1222.5 L1566.8,1223.8 L1569.9,1225.0 L1573.1,1226.2 L1576.3,1227.4 L1579.5,1228.6 L1582.7,1229.7 L1585.8,1230.8 L1589.0,1231.9 L1592.2,1232.9 L1595.4,1233.9 L1598.6,1234.9 L1601.8,1235.9 L1604.9,1236.8 L1608.1,1237.7 L1611.3,1238.6 L1614.5,1239.5 L1617.7,1240.3 L1620.8,1241.1 L1624.0,1241.9 L1627.2,1242.7 L1630.4,1243.4 L1633.6,1244.1 L1636.7,1244.8 L1639.9,1245.5 L1643.1,1246.2 L1646.3,1246.8 L1649.5,1247.4 L1652.6,1248.0 L1655.8,1248.6 L1659.0,1249.2 L1662.2,1249.7 L1665.4,1250.3 L1668.6,1250.8 L1671.7,1251.3 L1674.9,1251.8 L1678.1,1252.2 L1681.3,1252.7 L1684.5,1253.2 L1687.6,1253.6 L1690.8,1254.0 L1694.0,1254.4 L1697.2,1254.8 L1700.4,1255.2 L1703.5,1255.6 L1706.7,1256.0 L1709.9,1256.3 L1713.1,1256.7 L1716.3,1257.0 L1719.5,1257.4 L1722.6,1257.7 L1725.8,1258.0 L1729.0,1258.3 L1732.2,1258.6 L1735.4,1258.9 L1738.5,1259.2 L1741.7,1259.5 L1744.9,1259.7 L1748.1,1260.0 L1751.3,1260.3 L1754.4,1260.5 L1757.6,1260.8 L1760.8,1261.0 L1764.0,1261.3 L1767.2,1261.5 L1770.3,1261.7 L1773.5,1262.0 L1776.7,1262.2 L1779.9,1262.4 L1783.1,1262.6 L1786.3,1262.8 L1789.4,1263.0 L1792.6,1263.2 L1795.8,1263.4 L1799.0,1263.6 L1802.2,1263.8 L1805.3,1264.0 L1808.5,1264.2 L1811.7,1264.4 L1814.9,1264.6 L1818.1,1264.7 L1821.2,1264.9 L1824.4,1265.1 L1827.6,1265.2 L1830.8,1265.4 L1834.0,1265.6 L1837.1,1265.7 L1840.3,1265.9 L1843.5,1266.0 L1846.7,1266.2 L1849.9,1266.3 L1853.1,1266.5 L1856.2,1266.6 L1859.4,1266.8 L1862.6,1266.9 L1865.8,1267.1 L1869.0,1267.2 L1872.1,1267.3 L1875.3,1267.5 L1878.5,1267.6 L1881.7,1267.7 L1884.9,1267.8 L1888.0,1268.0 L1891.2,1268.1 L1894.4,1268.2 L1897.6,1268.3 L1900.8,1268.4 L1903.9,1268.5 L1907.1,1268.6 L1910.3,1268.8 L1913.5,1268.9 L1916.7,1269.0 L1919.9,1269.1 L1923.0,1269.2 L1926.2,1269.3 L1929.4,1269.4 L1932.6,1269.4 L1935.8,1269.5 L1938.9,1269.6 L1942.1,1269.7 L1945.3,1269.8 L1948.5,1269.9 L1951.7,1270.0 L1954.8,1270.0 L1958.0,1270.1 L1961.2,1270.2 L1964.4,1270.3 L1967.6,1270.3 L1970.7,1270.4 L1973.9,1270.5 L1977.1,1270.6 L1980.3,1270.6 L1983.5,1270.7 L1986.7,1270.8 L1989.8,1270.8 L1993.0,1270.9 L1996.2,1270.9 L1999.4,1271.0 L2002.6,1271.0 L2005.7,1271.1 L2008.9,1271.1 L2012.1,1271.2 L2015.3,1271.2 L2018.5,1271.3 L2021.6,1271.3 L2024.8,1271.4 L2028.0,1271.4 L2031.2,1271.5 L2034.4,1271.5 L2037.6,1271.6 L2040.7,1271.6 L2043.9,1271.6 L2047.1,1271.7 L2050.3,1271.7 L2053.5,1271.7 L2056.6,1271.8 L2059.8,1271.8 L2063.0,1271.8 L2066.2,1271.9 L2069.4,1271.9 L2072.5,1271.9 L2075.7,1271.9 L2078.9,1272.0 L2082.1,1272.0 L2085.3,1272.0 L2088.4,1272.0 L2091.6,1272.1 L2094.8,1272.1 L2098.0,1272.1 L2101.2,1272.1 L2104.4,1272.1 L2107.5,1272.2 L2110.7,1272.2 L2113.9,1272.2 L2117.1,1272.2 L2120.3,1272.2 L2123.4,1272.2 L2126.6,1272.3 L2129.8,1272.3 L2133.0,1272.3 L2136.2,1272.3 L2139.3,1272.3 L2142.5,1272.3 L2145.7,1272.3 L2148.9,1272.3 L2152.1,1272.4 L2155.2,1272.4 L2158.4,1272.4 L2161.6,1272.4 L2164.8,1272.4 L2168.0,1272.4 L2171.2,1272.4 L2174.3,1272.4 L2177.5,1272.4 L2180.7,1272.4 L2183.9,1272.4 L2187.1,1272.4 L2190.2,1272.4 L2193.4,1272.5 L2196.6,1272.5 L2199.8,1272.5 L2203.0,1272.5 L2206.1,1272.5 L2209.3,1272.5" stroke="#1ee11e"/>
<path d="M469.3,1269.1 L472.5,1269.1 L475.7,1269.1 L478.9,1269.2 L482.0,1269.2 L485.2,1269.2 L488.4,1269.2 L491.6,1269.3 L494.8,1269.3 L497.9,1269.3 L501.1,1269.3 L504.3,1269.4 L507.5,1269.4 L510.7,1269.4 L513.9,1269.4 L517.0,1269.4 L520.2,1269.5 L523.4,1269.5 L526.6,1269.5 L529.8,1269.5 L532.9,1269.5 L536.1,1269.5 L539.3,1269.6 L542.5,1269.6 L545.7,1269.6 L548.8,1269.6 L552.0,1269.6 L555.2,1269.6 L558.4,1269.6 L561.6,1269.6 L564.7,1269.6 L567.9,1269.7 L571.1,1269.7 L574.3,1269.7 L577.5,1269.7 L580.7,1269.7 L583.8,1269.7 L587.0,1269.7 L590.2,1269.7 L593.4,1269.7 L596.6,1269.7 L599.7,1269.7 L602.9,1269.6 L606.1,1269.6 L609.3,1269.6 L612.5,1269.6 L615.6,1269.6 L618.8,1269.6 L622.0,1269.6 L625.2,1269.5 L628.4,1269.5 L631.5,1269.5 L634.7,1269.4 L637.9,1269.4 L641.1,1269.4 L644.3,1269.3 L647.5,1269.3 L650.6,1269.2 L653.8,1269.2 L657.0,1269.1 L660.2,1269.0 L663.4,1269.0 L666.5,1268.9 L669.7,1268.8 L672.9,1268.7 L676.1,1268.6 L679.3,1268.5 L682.4,1268.4 L685.6,1268.3 L688.8,1268.2 L692.0,1268.1 L695.2,1267.9 L698.3,1267.8 L701.5,1267.6 L704.7,1267.5 L707.9,1267.3 L711.1,1267.1 L714.3,1266.9 L717.4,1266.7 L720.6,1266.5 L723.8,1266.3 L727.0,1266.0 L730.2,1265.7 L733.3,1265.5 L736.5,1265.2 L739.7,1264.9 L742.9,1264.5 L746.1,1264.2 L749.2,1263.8 L752.4,1263.4 L755.6,1263.0 L758.8,1262.6 L762.0,1262.1 L765.2,1261.6 L768.3,1261.1 L771.5,1260.5 L774.7,1260.0 L777.9,1259.3 L781.1,1258.7 L784.2,1258.0 L787.4,1257.3 L790.6,1256.6 L793.8,1255.8 L797.0,1254.9 L800.1,1254.0 L803.3,1253.1 L806.5,1252.1 L809.7,1251.1 L812.9,1250.0 L816.0,1248.9 L819.2,1247.7 L822.4,1246.5 L825.6,1245.1 L828.8,1243.8 L832.0,1242.3 L835.1,1240.8 L838.3,1239.2 L841.5,1237.6 L844.7,1235.9 L847.9,1234.0 L851.0,1232.2 L854.2,1230.2 L857.4,1228.1 L860.6,1226.0 L863.8,1223.7 L866.9,1221.4 L870.1,1219.0 L873.3,1216.4 L876.5,1213.8 L879.7,1211.1 L882.8,1208.3 L886.0,1205.4 L889.2,1202.3 L892.4,1199.2 L895.6,1195.9 L898.8,1192.6 L901.9,1189.1 L905.1,1185.6 L908.3,1181.9 L911.5,1178.1 L914.7,1174.2 L917.8,1170.2 L921.0,1166.1 L924.2,1161.9 L927.4,1157.5 L930.6,1153.1 L933.7,1148.6 L936.9,1144.0 L940.1,1139.3 L943.3,1134.5 L946.5,1129.6 L949.6,1124.6 L952.8,1119.5 L956.0,1114.4 L959.2,1109.2 L962.4,1103.9 L965.6,1098.6 L968.7,1093.2 L971.9,1087.8 L975.1,1082.3 L978.3,1076.8 L981.5,1071.3 L984.6,1065.7 L987.8,1060.2 L991.0,1054.6 L994.2,1049.0 L997.4,1043.4 L1000.5,1037.9 L1003.7,1032.3 L1006.9,1026.8 L1010.1,1021.3 L1013.3,1015.9 L1016.4,1010.6 L1019.6,1005.3 L1022.8,1000.0 L1026.0,994.9 L1029.2,989.8 L1032.4,984.8 L1035.5,979.9 L1038.7,975.1 L1041.9,970.5 L1045.1,965.9 L1048.3,961.5 L1051.4,957.2 L1054.6,953.0 L1057.8,949.0 L1061.0,945.1 L1064.2,941.4 L1067.3,937.8 L1070.5,934.4 L1073.7,931.2 L1076.9,928.1 L1080.1,925.1 L1083.3,922.3 L1086.4,919.7 L1089.6,917.3 L1092.8,915.0 L1096.0,912.9 L1099.2,911.0 L1102.3,909.2 L1105.5,907.6 L1108.7,906.1 L1111.9,904.8 L1115.1,903.7 L1118.2,902.7 L1121.4,901.9 L1124.6,901.3 L1127.8,900.7 L1131.0,900.4 L1134.1,900.1 L1137.3,900.0 L1140.5,900.0 L1143.7,900.2 L1146.9,900.5 L1150.1,900.9 L1153.2,901.4 L1156.4,902.0 L1159.6,902.7 L1162.8,903.5 L1166.0,904.4 L1169.1,905.4 L1172.3,906.5 L1175.5,907.7 L1178.7,908.9 L1181.9,910.3 L1185.0,911.7 L1188.2,913.1 L1191.4,914.7 L1194.6,916.2 L1197.8,917.9 L1200.9,919.6 L1204.1,921.3 L1207.3,923.1 L1210.5,925.0 L1213.7,926.8 L1216.9,928.8 L1220.0,930.7 L1223.2,932.7 L1226.4,934.7 L1229.6,936.8 L1232.8,938.9 L1235.9,941.0 L1239.1,943.2 L1242.3,945.4 L1245.5,947.6 L1248.7,949.8 L1251.8,952.1 L1255.0,954.4 L1258.2,956.8 L1261.4,959.1 L1264.6,961.5 L1267.7,963.9 L1270.9,966.3 L1274.1,968.8 L1277.3,971.3 L1280.5,973.8 L1283.7,976.4 L1286.8,978.9 L1290.0,981.5 L1293.2,984.1 L1296.4,986.8 L1299.6,989.5 L1302.7,992.2 L1305.9,994.9 L1309.1,997.7 L1312.3,1000.5 L1315.5,1003.3 L1318.6,1006.1 L1321.8,1009.0 L1325.0,1011.8 L1328.2,1014.8 L1331.4,1017.7 L1334.5,1020.6 L1337.7,1023.6 L1340.9,1026.6 L1344.1,1029.6 L1347.3,1032.7 L1350.5,1035.7 L1353.6,1038.8 L1356.8,1041.9 L1360.0,1045.0 L1363.2,1048.1 L1366.4,1051.3 L1369.5,1054.4 L1372.7,1057.5 L1375.9,1060.7 L1379.1,1063.9 L1382.3,1067.0 L1385.4,1070.2 L1388.6,1073.4 L1391.8,1076.6 L1395.0,1079.7 L1398.2,1082.9 L1401.4,1086.1 L1404.5,1089.3 L1407.7,1092.4 L1410.9,1095.6 L1414.1,1098.7 L1417.3,1101.8 L1420.4,1104.9 L1423.6,1108.0 L1426.8,1111.1 L1430.0,1114.2 L1433.2,1117.2 L1436.3,1120.2 L1439.5,1123.2 L1442.7,1126.2 L1445.9,1129.1 L1449.1,1132.1 L1452.2,1135.0 L1455.4,1137.8 L1458.6,1140.7 L1461.8,1143.5 L1465.0,1146.2 L1468.2,1149.0 L1471.3,1151.7 L1474.5,1154.4 L1477.7,1157.0 L1480.9,1159.6 L1484.1,1162.2 L1487.2,1164.7 L1490.4,1167.2 L1493.6,1169.6 L1496.8,1172.0 L1500.0,1174.4 L1503.1,1176.7 L1506.3,1179.0 L1509.5,1181.3 L1512.7,1183.5 L1515.9,1185.7 L1519.0,1187.8 L1522.2,1189.9 L1525.4,1191.9 L1528.6,1193.9 L1531.8,1195.9 L1535.0,1197.8 L1538.1,1199.7 L1541.3,1201.5 L1544.5,1203.3 L1547.7,1205.1 L1550.9,1206.8 L1554.0,1208.5 L1557.2,1210.1 L1560.4,1211.7 L1563.6,1213.3 L1566.8,1214.8 L1569.9,1216.3 L1573.1,1217.7 L1576.3,1219.1 L1579.5,1220.5 L1582.7,1221.8 L1585.8,1223.1 L1589.0,1224.4 L1592.2,1225.6 L1595.4,1226.8 L1598.6,1228.0 L1601.8,1229.1 L1604.9,1230.2 L1608.1,1231.3 L1611.3,1232.4 L1614.5,1233.4 L1617.7,1234.4 L1620.8,1235.3 L1624.0,1236.2 L1627.2,1237.1 L1630.4,1238.0 L1633.6,1238.9 L1636.7,1239.7 L1639.9,1240.5 L1643.1,1241.3 L1646.3,1242.0 L1649.5,1242.8 L1652.6,1243.5 L1655.8,1244.2 L1659.0,1244.9 L1662.2,1245.5 L1665.4,1246.1 L1668.6,1246.8 L1671.7,1247.3 L1674.9,1247.9 L1678.1,1248.5 L1681.3,1249.0 L1684.5,1249.6 L1687.6,1250.1 L1690.8,1250.6 L1694.0,1251.1 L1697.2,1251.6 L1700.4,1252.0 L1703.5,1252.5 L1706.7,1252.9 L1709.9,1253.3 L1713.1,1253.7 L1716.3,1254.2 L1719.5,1254.5 L1722.6,1254.9 L1725.8,1255.3 L1729.0,1255.7 L1732.2,1256.0 L1735.4,1256.4 L1738.5,1256.7 L1741.7,1257.1 L1744.9,1257.4 L1748.1,1257.7 L1751.3,1258.0 L1754.4,1258.3 L1757.6,1258.6 L1760.8,1258.9 L1764.0,1259.2 L1767.2,1259.5 L1770.3,1259.7 L1773.5,1260.0 L1776.7,1260.3 L1779.9,1260.5 L1783.1,1260.8 L1786.3,1261.0 L1789.4,1261.3 L1792.6,1261.5 L1795.8,1261.7 L1799.0,1262.0 L1802.2,1262.2 L1805.3,1262.4 L1808.5,1262.6 L1811.7,1262.9 L1814.9,1263.1 L1818.1,1263.3 L1821.2,1263.5 L1824.4,1263.7 L1827.6,1263.9 L1830.8,1264.1 L1834.0,1264.3 L1837.1,1264.5 L1840.3,1264.7 L1843.5,1264.8 L1846.7,1265.0 L1849.9,1265.2 L1853.1,1265.4 L1856.2,1265.5 L1859.4,1265.7 L1862.6,1265.9 L1865.8,1266.0 L1869.0,1266.2 L1872.1,1266.4 L1875.3,1266.5 L1878.5,1266.7 L1881.7,1266.8 L1884.9,1267.0 L1888.0,1267.1 L1891.2,1267.2 L1894.4,1267.4 L1897.6,1267.5 L1900.8,1267.7 L1903.9,1267.8 L1907.1,1267.9 L1910.3,1268.0 L1913.5,1268.2 L1916.7,1268.3 L1919.9,1268.4 L1923.0,1268.5 L1926.2,1268.6 L1929.4,1268.8 L1932.6,1268.9 L1935.8,1269.0 L1938.9,1269.1 L1942.1,1269.2 L1945.3,1269.3 L1948.5,1269.4 L1951.7,1269.5 L1954.8,1269.6 L1958.0,1269.7 L1961.2,1269.8 L1964.4,1269.9 L1967.6,1269.9 L1970.7,1270.0 L1973.9,1270.1 L1977.1,1270.2 L1980.3,1270.3 L1983.5,1270.3 L1986.7,1270.4 L1989.8,1270.5 L1993.0,1270.6 L1996.2,1270.6 L1999.4,1270.7 L2002.6,1270.8 L2005.7,1270.8 L2008.9,1270.9 L2012.1,1270.9 L2015.3,1271.0 L2018.5,1271.1 L2021.6,1271.1 L2024.8,1271.2 L2028.0,1271.2 L2031.2,1271.3 L2034.4,1271.3 L2037.6,1271.4 L2040.7,1271.4 L2043.9,1271.5 L2047.1,1271.5 L2050.3,1271.5 L2053.5,1271.6 L2056.6,1271.6 L2059.8,1271.7 L2063.0,1271.7 L2066.2,1271.7 L2069.4,1271.8 L2072.5,1271.8 L2075.7,1271.8 L2078.9,1271.9 L2082.1,1271.9 L2085.3,1271.9 L2088.4,1271.9 L2091.6,1272.0 L2094.8,1272.0 L2098.0,1272.0 L2101.2,1272.0 L2104.4,1272.1 L2107.5,1272.1 L2110.7,1272.1 L2113.9,1272.1 L2117.1,1272.1 L2120.3,1272.2 L2123.4,1272.2 L2126.6,1272.2 L2129.8,1272.2 L2133.0,1272.2 L2136.2,1272.2 L2139.3,1272.3 L2142.5,1272.3 L2145.7,1272.3 L2148.9,1272.3 L2152.1,1272.3 L2155.2,1272.3 L2158.4,1272.3 L2161.6,1272.3 L2164.8,1272.4 L2168.0,1272.4 L2171.2,1272.4 L2174.3,1272.4 L2177.5,1272.4 L2180.7,1272.4 L2183.9,1272.4 L2187.1,1272.4 L2190.2,1272.4 L2193.4,1272.4 L2196.6,1272.4 L2199.8,1272.4 L2203.0,1272.4 L2206.1,1272.5 L2209.3,1272.5" stroke="#0c08bc"/>
<path d="M469.3,1268.7 L472.5,1268.7 L475.7,1268.7 L478.9,1268.8 L482.0,1268.8 L485.2,1268.8 L488.4,1268.9 L491.6,1268.9 L494.8,1268.9 L497.9,1268.9 L501.1,1269.0 L504.3,1269.0 L507.5,1269.0 L510.7,1269.0 L513.9,1269.0 L517.0,1269.1 L520.2,1269.1 L523.4,1269.1 L526.6,1269.1 L529.8,1269.1 L532.9,1269.2 L536.1,1269.2 L539.3,1269.2 L542.5,1269.2 L545.7,1269.2 L548.8,1269.2 L552.0,1269.3 L555.2,1269.3 L558.4,1269.3 L561.6,1269.3 L564.7,1269.3 L567.9,1269.3 L571.1,1269.3 L574.3,1269.3 L577.5,1269.3 L580.7,1269.3 L583.8,1269.3 L587.0,1269.3 L590.2,1269.3 L593.4,1269.3 L596.6,1269.3 L599.7,1269.3 L602.9,1269.3 L606.1,1269.3 L609.3,1269.3 L612.5,1269.2 L615.6,1269.2 L618.8,1269.2 L622.0,1269.2 L625.2,1269.1 L628.4,1269.1 L631.5,1269.1 L634.7,1269.0 L637.9,1269.0 L641.1,1269.0 L644.3,1268.9 L647.5,1268.8 L650.6,1268.8 L653.8,1268.7 L657.0,1268.7 L660.2,1268.6 L663.4,1268.5 L666.5,1268.4 L669.7,1268.3 L672.9,1268.2 L676.1,1268.1 L679.3,1268.0 L682.4,1267.9 L685.6,1267.7 L688.8,1267.6 L692.0,1267.5 L695.2,1267.3 L698.3,1267.1 L701.5,1266.9 L704.7,1266.8 L707.9,1266.6 L711.1,1266.3 L714.3,1266.1 L717.4,1265.9 L720.6,1265.6 L723.8,1265.3 L727.0,1265.0 L730.2,1264.7 L733.3,1264.4 L736.5,1264.1 L739.7,1263.7 L742.9,1263.3 L746.1,1262.9 L749.2,1262.5 L752.4,1262.0 L755.6,1261.5 L758.8,1261.0 L762.0,1260.5 L765.2,1259.9 L768.3,1259.3 L771.5,1258.7 L774.7,1258.0 L777.9,1257.3 L781.1,1256.6 L784.2,1255.8 L787.4,1254.9 L790.6,1254.1 L793.8,1253.1 L797.0,1252.2 L800.1,1251.2 L803.3,1250.1 L806.5,1248.9 L809.7,1247.8 L812.9,1246.5 L816.0,1245.2 L819.2,1243.8 L822.4,1242.4 L825.6,1240.8 L828.8,1239.2 L832.0,1237.6 L835.1,1235.8 L838.3,1234.0 L841.5,1232.1 L844.7,1230.1 L847.9,1228.0 L851.0,1225.8 L854.2,1223.5 L857.4,1221.1 L860.6,1218.6 L863.8,1216.0 L866.9,1213.3 L870.1,1210.5 L873.3,1207.6 L876.5,1204.5 L879.7,1201.4 L882.8,1198.1 L886.0,1194.7 L889.2,1191.2 L892.4,1187.5 L895.6,1183.8 L898.8,1179.9 L901.9,1175.9 L905.1,1171.7 L908.3,1167.5 L911.5,1163.1 L914.7,1158.6 L917.8,1153.9 L921.0,1149.2 L924.2,1144.3 L927.4,1139.3 L930.6,1134.1 L933.7,1128.9 L936.9,1123.6 L940.1,1118.1 L943.3,1112.5 L946.5,1106.8 L949.6,1101.1 L952.8,1095.2 L956.0,1089.3 L959.2,1083.2 L962.4,1077.1 L965.6,1071.0 L968.7,1064.7 L971.9,1058.4 L975.1,1052.1 L978.3,1045.7 L981.5,1039.3 L984.6,1032.8 L987.8,1026.4 L991.0,1019.9 L994.2,1013.4 L997.4,1007.0 L1000.5,1000.5 L1003.7,994.1 L1006.9,987.7 L1010.1,981.4 L1013.3,975.1 L1016.4,968.9 L1019.6,962.7 L1022.8,956.7 L1026.0,950.7 L1029.2,944.8 L1032.4,939.0 L1035.5,933.3 L1038.7,927.8 L1041.9,922.4 L1045.1,917.1 L1048.3,912.0 L1051.4,907.0 L1054.6,902.2 L1057.8,897.5 L1061.0,893.0 L1064.2,888.7 L1067.3,884.6 L1070.5,880.6 L1073.7,876.8 L1076.9,873.2 L1080.1,869.8 L1083.3,866.6 L1086.4,863.6 L1089.6,860.7 L1092.8,858.1 L1096.0,855.7 L1099.2,853.4 L1102.3,851.4 L1105.5,849.5 L1108.7,847.8 L1111.9,846.3 L1115.1,845.0 L1118.2,843.9 L1121.4,842.9 L1124.6,842.2 L1127.8,841.6 L1131.0,841.1 L1134.1,840.8 L1137.3,840.7 L1140.5,840.7 L1143.7,840.9 L1146.9,841.2 L1150.1,841.7 L1153.2,842.3 L1156.4,843.0 L1159.6,843.8 L1162.8,844.8 L1166.0,845.8 L1169.1,847.0 L1172.3,848.3 L1175.5,849.6 L1178.7,851.1 L1181.9,852.6 L1185.0,854.2 L1188.2,855.9 L1191.4,857.7 L1194.6,859.5 L1197.8,861.4 L1200.9,863.4 L1204.1,865.4 L1207.3,867.5 L1210.5,869.6 L1213.7,871.8 L1216.9,874.0 L1220.0,876.3 L1223.2,878.6 L1226.4,881.0 L1229.6,883.4 L1232.8,885.8 L1235.9,888.3 L1239.1,890.8 L1242.3,893.3 L1245.5,895.9 L1248.7,898.5 L1251.8,901.1 L1255.0,903.8 L1258.2,906.5 L1261.4,909.2 L1264.6,912.0 L1267.7,914.8 L1270.9,917.6 L1274.1,920.4 L1277.3,923.3 L1280.5,926.3 L1283.7,929.2 L1286.8,932.2 L1290.0,935.2 L1293.2,938.2 L1296.4,941.3 L1299.6,944.4 L1302.7,947.5 L1305.9,950.7 L1309.1,953.9 L1312.3,957.1 L1315.5,960.4 L1318.6,963.7 L1321.8,967.0 L1325.0,970.3 L1328.2,973.7 L1331.4,977.1 L1334.5,980.5 L1337.7,984.0 L1340.9,987.5 L1344.1,991.0 L1347.3,994.5 L1350.5,998.0 L1353.6,1001.6 L1356.8,1005.2 L1360.0,1008.8 L1363.2,1012.4 L1366.4,1016.0 L1369.5,1019.7 L1372.7,1023.3 L1375.9,1027.0 L1379.1,1030.7 L1382.3,1034.3 L1385.4,1038.0 L1388.6,1041.7 L1391.8,1045.4 L1395.0,1049.1 L1398.2,1052.7 L1401.4,1056.4 L1404.5,1060.1 L1407.7,1063.7 L1410.9,1067.4 L1414.1,1071.0 L1417.3,1074.6 L1420.4,1078.2 L1423.6,1081.8 L1426.8,1085.4 L1430.0,1089.0 L1433.2,1092.5 L1436.3,1096.0 L1439.5,1099.5 L1442.7,1102.9 L1445.9,1106.3 L1449.1,1109.7 L1452.2,1113.1 L1455.4,1116.4 L1458.6,1119.7 L1461.8,1122.9 L1465.0,1126.1 L1468.2,1129.3 L1471.3,1132.5 L1474.5,1135.6 L1477.7,1138.6 L1480.9,1141.6 L1484.1,1144.6 L1487.2,1147.5 L1490.4,1150.4 L1493.6,1153.2 L1496.8,1156.0 L1500.0,1158.8 L1503.1,1161.5 L1506.3,1164.1 L1509.5,1166.7 L1512.7,1169.3 L1515.9,1171.8 L1519.0,1174.3 L1522.2,1176.7 L1525.4,1179.1 L1528.6,1181.4 L1531.8,1183.7 L1535.0,1185.9 L1538.1,1188.1 L1541.3,1190.2 L1544.5,1192.3 L1547.7,1194.3 L1550.9,1196.3 L1554.0,1198.3 L1557.2,1200.2 L1560.4,1202.0 L1563.6,1203.8 L1566.8,1205.6 L1569.9,1207.3 L1573.1,1209.0 L1576.3,1210.6 L1579.5,1212.2 L1582.7,1213.7 L1585.8,1215.3 L1589.0,1216.7 L1592.2,1218.2 L1595.4,1219.6 L1598.6,1220.9 L1601.8,1222.2 L1604.9,1223.5 L1608.1,1224.7 L1611.3,1226.0 L1614.5,1227.1 L1617.7,1228.3 L1620.8,1229.4 L1624.0,1230.5 L1627.2,1231.5 L1630.4,1232.5 L1633.6,1233.5 L1636.7,1234.5 L1639.9,1235.4 L1643.1,1236.3 L1646.3,1237.2 L1649.5,1238.0 L1652.6,1238.9 L1655.8,1239.7 L1659.0,1240.4 L1662.2,1241.2 L1665.4,1241.9 L1668.6,1242.6 L1671.7,1243.3 L1674.9,1244.0 L1678.1,1244.7 L1681.3,1245.3 L1684.5,1245.9 L1687.6,1246.5 L1690.8,1247.1 L1694.0,1247.7 L1697.2,1248.2 L1700.4,1248.8 L1703.5,1249.3 L1706.7,1249.8 L1709.9,1250.3 L1713.1,1250.8 L1716.3,1251.2 L1719.5,1251.7 L1722.6,1252.1 L1725.8,1252.6 L1729.0,1253.0 L1732.2,1253.4 L1735.4,1253.8 L1738.5,1254.2 L1741.7,1254.6 L1744.9,1255.0 L1748.1,1255.3 L1751.3,1255.7 L1754.4,1256.0 L1757.6,1256.4 L1760.8,1256.7 L1764.0,1257.1 L1767.2,1257.4 L1770.3,1257.7 L1773.5,1258.0 L1776.7,1258.3 L1779.9,1258.6 L1783.1,1258.9 L1786.3,1259.2 L1789.4,1259.5 L1792.6,1259.7 L1795.8,1260.0 L1799.0,1260.3 L1802.2,1260.6 L1805.3,1260.8 L1808.5,1261.1 L1811.7,1261.3 L1814.9,1261.6 L1818.1,1261.8 L1821.2,1262.0 L1824.4,1262.3 L1827.6,1262.5 L1830.8,1262.7 L1834.0,1263.0 L1837.1,1263.2 L1840.3,1263.4 L1843.5,1263.6 L1846.7,1263.8 L1849.9,1264.0 L1853.1,1264.2 L1856.2,1264.4 L1859.4,1264.6 L1862.6,1264.8 L1865.8,1265.0 L1869.0,1265.2 L1872.1,1265.4 L1875.3,1265.5 L1878.5,1265.7 L1881.7,1265.9 L1884.9,1266.1 L1888.0,1266.2 L1891.2,1266.4 L1894.4,1266.6 L1897.6,1266.7 L1900.8,1266.9 L1903.9,1267.0 L1907.1,1267.2 L1910.3,1267.3 L1913.5,1267.5 L1916.7,1267.6 L1919.9,1267.8 L1923.0,1267.9 L1926.2,1268.0 L1929.4,1268.2 L1932.6,1268.3 L1935.8,1268.4 L1938.9,1268.5 L1942.1,1268.6 L1945.3,1268.8 L1948.5,1268.9 L1951.7,1269.0 L1954.8,1269.1 L1958.0,1269.2 L1961.2,1269.3 L1964.4,1269.4 L1967.6,1269.5 L1970.7,1269.6 L1973.9,1269.7 L1977.1,1269.8 L1980.3,1269.9 L1983.5,1270.0 L1986.7,1270.1 L1989.8,1270.2 L1993.0,1270.2 L1996.2,1270.3 L1999.4,1270.4 L2002.6,1270.5 L2005.7,1270.5 L2008.9,1270.6 L2012.1,1270.7 L2015.3,1270.7 L2018.5,1270.8 L2021.6,1270.9 L2024.8,1270.9 L2028.0,1271.0 L2031.2,1271.1 L2034.4,1271.1 L2037.6,1271.2 L2040.7,1271.2 L2043.9,1271.3 L2047.1,1271.3 L2050.3,1271.4 L2053.5,1271.4 L2056.6,1271.5 L2059.8,1271.5 L2063.0,1271.5 L2066.2,1271.6 L2069.4,1271.6 L2072.5,1271.7 L2075.7,1271.7 L2078.9,1271.7 L2082.1,1271.8 L2085.3,1271.8 L2088.4,1271.8 L2091.6,1271.9 L2094.8,1271.9 L2098.0,1271.9 L2101.2,1271.9 L2104.4,1272.0 L2107.5,1272.0 L2110.7,1272.0 L2113.9,1272.0 L2117.1,1272.1 L2120.3,1272.1 L2123.4,1272.1 L2126.6,1272.1 L2129.8,1272.2 L2133.0,1272.2 L2136.2,1272.2 L2139.3,1272.2 L2142.5,1272.2 L2145.7,1272.2 L2148.9,1272.3 L2152.1,1272.3 L2155.2,1272.3 L2158.4,1272.3 L2161.6,1272.3 L2164.8,1272.3 L2168.0,1272.3 L2171.2,1272.3 L2174.3,1272.3 L2177.5,1272.4 L2180.7,1272.4 L2183.9,1272.4 L2187.1,1272.4 L2190.2,1272.4 L2193.4,1272.4 L2196.6,1272.4 L2199.8,1272.4 L2203.0,1272.4 L2206.1,1272.4 L2209.3,1272.4" stroke="#28e1e1"/>
<path d="M469.3,1268.4 L472.5,1268.4 L475.7,1268.5 L478.9,1268.5 L482.0,1268.5 L485.2,1268.5 L488.4,1268.6 L491.6,1268.6 L494.8,1268.6 L497.9,1268.7 L501.1,1268.7 L504.3,1268.7 L507.5,1268.7 L510.7,1268.8 L513.9,1268.8 L517.0,1268.8 L520.2,1268.8 L523.4,1268.8 L526.6,1268.9 L529.8,1268.9 L532.9,1268.9 L536.1,1268.9 L539.3,1268.9 L542.5,1269.0 L545.7,1269.0 L548.8,1269.0 L552.0,1269.0 L555.2,1269.0 L558.4,1269.0 L561.6,1269.0 L564.7,1269.0 L567.9,1269.1 L571.1,1269.1 L574.3,1269.1 L577.5,1269.1 L580.7,1269.1 L583.8,1269.1 L587.0,1269.1 L590.2,1269.1 L593.4,1269.1 L596.6,1269.1 L599.7,1269.0 L602.9,1269.0 L606.1,1269.0 L609.3,1269.0 L612.5,1269.0 L615.6,1269.0 L618.8,1268.9 L622.0,1268.9 L625.2,1268.9 L628.4,1268.8 L631.5,1268.8 L634.7,1268.8 L637.9,1268.7 L641.1,1268.7 L644.3,1268.6 L647.5,1268.5 L650.6,1268.5 L653.8,1268.4 L657.0,1268.3 L660.2,1268.2 L663.4,1268.2 L666.5,1268.1 L669.7,1268.0 L672.9,1267.8 L676.1,1267.7 L679.3,1267.6 L682.4,1267.5 L685.6,1267.3 L688.8,1267.2 L692.0,1267.0 L695.2,1266.8 L698.3,1266.6 L701.5,1266.4 L704.7,1266.2 L707.9,1266.0 L711.1,1265.8 L714.3,1265.5 L717.4,1265.3 L720.6,1265.0 L723.8,1264.7 L727.0,1264.4 L730.2,1264.0 L733.3,1263.7 L736.5,1263.3 L739.7,1262.9 L742.9,1262.5 L746.1,1262.0 L749.2,1261.5 L752.4,1261.0 L755.6,1260.5 L758.8,1260.0 L762.0,1259.4 L765.2,1258.7 L768.3,1258.1 L771.5,1257.4 L774.7,1256.6 L777.9,1255.9 L781.1,1255.0 L784.2,1254.2 L787.4,1253.3 L790.6,1252.3 L793.8,1251.3 L797.0,1250.2 L800.1,1249.1 L803.3,1247.9 L806.5,1246.7 L809.7,1245.4 L812.9,1244.0 L816.0,1242.6 L819.2,1241.1 L822.4,1239.5 L825.6,1237.8 L828.8,1236.0 L832.0,1234.2 L835.1,1232.3 L838.3,1230.3 L841.5,1228.2 L844.7,1226.0 L847.9,1223.7 L851.0,1221.3 L854.2,1218.7 L857.4,1216.1 L860.6,1213.4 L863.8,1210.5 L866.9,1207.6 L870.1,1204.5 L873.3,1201.3 L876.5,1197.9 L879.7,1194.5 L882.8,1190.9 L886.0,1187.2 L889.2,1183.3 L892.4,1179.3 L895.6,1175.2 L898.8,1170.9 L901.9,1166.5 L905.1,1162.0 L908.3,1157.3 L911.5,1152.5 L914.7,1147.5 L917.8,1142.4 L921.0,1137.2 L924.2,1131.8 L927.4,1126.3 L930.6,1120.7 L933.7,1115.0 L936.9,1109.1 L940.1,1103.1 L943.3,1097.0 L946.5,1090.8 L949.6,1084.4 L952.8,1078.0 L956.0,1071.5 L959.2,1064.8 L962.4,1058.1 L965.6,1051.4 L968.7,1044.5 L971.9,1037.6 L975.1,1030.7 L978.3,1023.6 L981.5,1016.6 L984.6,1009.5 L987.8,1002.4 L991.0,995.3 L994.2,988.2 L997.4,981.1 L1000.5,974.1 L1003.7,967.0 L1006.9,960.0 L1010.1,953.1 L1013.3,946.2 L1016.4,939.3 L1019.6,932.6 L1022.8,925.9 L1026.0,919.4 L1029.2,912.9 L1032.4,906.6 L1035.5,900.4 L1038.7,894.3 L1041.9,888.4 L1045.1,882.6 L1048.3,876.9 L1051.4,871.5 L1054.6,866.2 L1057.8,861.1 L1061.0,856.1 L1064.2,851.4 L1067.3,846.8 L1070.5,842.5 L1073.7,838.3 L1076.9,834.4 L1080.1,830.7 L1083.3,827.1 L1086.4,823.8 L1089.6,820.7 L1092.8,817.8 L1096.0,815.1 L1099.2,812.7 L1102.3,810.4 L1105.5,808.4 L1108.7,806.5 L1111.9,804.9 L1115.1,803.4 L1118.2,802.2 L1121.4,801.2 L1124.6,800.3 L1127.8,799.6 L1131.0,799.2 L1134.1,798.8 L1137.3,798.7 L1140.5,798.7 L1143.7,798.9 L1146.9,799.3 L1150.1,799.8 L1153.2,800.4 L1156.4,801.2 L1159.6,802.1 L1162.8,803.2 L1166.0,804.3 L1169.1,805.6 L1172.3,807.0 L1175.5,808.5 L1178.7,810.1 L1181.9,811.8 L1185.0,813.5 L1188.2,815.4 L1191.4,817.3 L1194.6,819.3 L1197.8,821.4 L1200.9,823.6 L1204.1,825.8 L1207.3,828.1 L1210.5,830.4 L1213.7,832.8 L1216.9,835.3 L1220.0,837.8 L1223.2,840.3 L1226.4,842.9 L1229.6,845.5 L1232.8,848.2 L1235.9,850.9 L1239.1,853.6 L1242.3,856.4 L1245.5,859.2 L1248.7,862.1 L1251.8,865.0 L1255.0,867.9 L1258.2,870.9 L1261.4,873.9 L1264.6,876.9 L1267.7,880.0 L1270.9,883.1 L1274.1,886.2 L1277.3,889.4 L1280.5,892.6 L1283.7,895.8 L1286.8,899.1 L1290.0,902.4 L1293.2,905.7 L1296.4,909.1 L1299.6,912.5 L1302.7,915.9 L1305.9,919.4 L1309.1,922.9 L1312.3,926.5 L1315.5,930.0 L1318.6,933.6 L1321.8,937.3 L1325.0,940.9 L1328.2,944.6 L1331.4,948.4 L1334.5,952.1 L1337.7,955.9 L1340.9,959.7 L1344.1,963.6 L1347.3,967.4 L1350.5,971.3 L1353.6,975.2 L1356.8,979.2 L1360.0,983.1 L1363.2,987.1 L1366.4,991.1 L1369.5,995.1 L1372.7,999.1 L1375.9,1003.1 L1379.1,1007.1 L1382.3,1011.2 L1385.4,1015.2 L1388.6,1019.2 L1391.8,1023.3 L1395.0,1027.3 L1398.2,1031.4 L1401.4,1035.4 L1404.5,1039.4 L1407.7,1043.4 L1410.9,1047.4 L1414.1,1051.4 L1417.3,1055.4 L1420.4,1059.4 L1423.6,1063.3 L1426.8,1067.2 L1430.0,1071.1 L1433.2,1075.0 L1436.3,1078.8 L1439.5,1082.6 L1442.7,1086.4 L1445.9,1090.2 L1449.1,1093.9 L1452.2,1097.6 L1455.4,1101.2 L1458.6,1104.8 L1461.8,1108.4 L1465.0,1111.9 L1468.2,1115.4 L1471.3,1118.8 L1474.5,1122.2 L1477.7,1125.6 L1480.9,1128.9 L1484.1,1132.2 L1487.2,1135.4 L1490.4,1138.5 L1493.6,1141.6 L1496.8,1144.7 L1500.0,1147.7 L1503.1,1150.7 L1506.3,1153.6 L1509.5,1156.5 L1512.7,1159.3 L1515.9,1162.0 L1519.0,1164.7 L1522.2,1167.4 L1525.4,1170.0 L1528.6,1172.5 L1531.8,1175.0 L1535.0,1177.5 L1538.1,1179.9 L1541.3,1182.2 L1544.5,1184.5 L1547.7,1186.7 L1550.9,1188.9 L1554.0,1191.0 L1557.2,1193.1 L1560.4,1195.1 L1563.6,1197.1 L1566.8,1199.1 L1569.9,1200.9 L1573.1,1202.8 L1576.3,1204.6 L1579.5,1206.3 L1582.7,1208.0 L1585.8,1209.7 L1589.0,1211.3 L1592.2,1212.9 L1595.4,1214.4 L1598.6,1215.9 L1601.8,1217.3 L1604.9,1218.7 L1608.1,1220.1 L1611.3,1221.4 L1614.5,1222.7 L1617.7,1224.0 L1620.8,1225.2 L1624.0,1226.4 L1627.2,1227.5 L1630.4,1228.6 L1633.6,1229.7 L1636.7,1230.8 L1639.9,1231.8 L1643.1,1232.8 L1646.3,1233.7 L1649.5,1234.7 L1652.6,1235.6 L1655.8,1236.5 L1659.0,1237.3 L1662.2,1238.1 L1665.4,1239.0 L1668.6,1239.7 L1671.7,1240.5 L1674.9,1241.2 L1678.1,1242.0 L1681.3,1242.6 L1684.5,1243.3 L1687.6,1244.0 L1690.8,1244.6 L1694.0,1245.2 L1697.2,1245.8 L1700.4,1246.4 L1703.5,1247.0 L1706.7,1247.6 L1709.9,1248.1 L1713.1,1248.6 L1716.3,1249.1 L1719.5,1249.7 L1722.6,1250.1 L1725.8,1250.6 L1729.0,1251.1 L1732.2,1251.5 L1735.4,1252.0 L1738.5,1252.4 L1741.7,1252.8 L1744.9,1253.2 L1748.1,1253.7 L1751.3,1254.0 L1754.4,1254.4 L1757.6,1254.8 L1760.8,1255.2 L1764.0,1255.5 L1767.2,1255.9 L1770.3,1256.2 L1773.5,1256.6 L1776.7,1256.9 L1779.9,1257.2 L1783.1,1257.6 L1786.3,1257.9 L1789.4,1258.2 L1792.6,1258.5 L1795.8,1258.8 L1799.0,1259.1 L1802.2,1259.4 L1805.3,1259.7 L1808.5,1259.9 L1811.7,1260.2 L1814.9,1260.5 L1818.1,1260.8 L1821.2,1261.0 L1824.4,1261.3 L1827.6,1261.5 L1830.8,1261.8 L1834.0,1262.0 L1837.1,1262.3 L1840.3,1262.5 L1843.5,1262.7 L1846.7,1263.0 L1849.9,1263.2 L1853.1,1263.4 L1856.2,1263.6 L1859.4,1263.8 L1862.6,1264.1 L1865.8,1264.3 L1869.0,1264.5 L1872.1,1264.7 L1875.3,1264.9 L1878.5,1265.1 L1881.7,1265.2 L1884.9,1265.4 L1888.0,1265.6 L1891.2,1265.8 L1894.4,1266.0 L1897.6,1266.1 L1900.8,1266.3 L1903.9,1266.5 L1907.1,1266.7 L1910.3,1266.8 L1913.5,1267.0 L1916.7,1267.1 L1919.9,1267.3 L1923.0,1267.4 L1926.2,1267.6 L1929.4,1267.7 L1932.6,1267.9 L1935.8,1268.0 L1938.9,1268.1 L1942.1,1268.3 L1945.3,1268.4 L1948.5,1268.5 L1951.7,1268.6 L1954.8,1268.8 L1958.0,1268.9 L1961.2,1269.0 L1964.4,1269.1 L1967.6,1269.2 L1970.7,1269.3 L1973.9,1269.4 L1977.1,1269.5 L1980.3,1269.6 L1983.5,1269.7 L1986.7,1269.8 L1989.8,1269.9 L1993.0,1270.0 L1996.2,1270.1 L1999.4,1270.2 L2002.6,1270.3 L2005.7,1270.3 L2008.9,1270.4 L2012.1,1270.5 L2015.3,1270.6 L2018.5,1270.6 L2021.6,1270.7 L2024.8,1270.8 L2028.0,1270.8 L2031.2,1270.9 L2034.4,1271.0 L2037.6,1271.0 L2040.7,1271.1 L2043.9,1271.1 L2047.1,1271.2 L2050.3,1271.3 L2053.5,1271.3 L2056.6,1271.4 L2059.8,1271.4 L2063.0,1271.4 L2066.2,1271.5 L2069.4,1271.5 L2072.5,1271.6 L2075.7,1271.6 L2078.9,1271.7 L2082.1,1271.7 L2085.3,1271.7 L2088.4,1271.8 L2091.6,1271.8 L2094.8,1271.8 L2098.0,1271.9 L2101.2,1271.9 L2104.4,1271.9 L2107.5,1271.9 L2110.7,1272.0 L2113.9,1272.0 L2117.1,1272.0 L2120.3,1272.0 L2123.4,1272.1 L2126.6,1272.1 L2129.8,1272.1 L2133.0,1272.1 L2136.2,1272.1 L2139.3,1272.2 L2142.5,1272.2 L2145.7,1272.2 L2148.9,1272.2 L2152.1,1272.2 L2155.2,1272.2 L2158.4,1272.3 L2161.6,1272.3 L2164.8,1272.3 L2168.0,1272.3 L2171.2,1272.3 L2174.3,1272.3 L2177.5,1272.3 L2180.7,1272.3 L2183.9,1272.4 L2187.1,1272.4 L2190.2,1272.4 L2193.4,1272.4 L2196.6,1272.4 L2199.8,1272.4 L2203.0,1272.4 L2206.1,1272.4 L2209.3,1272.4" stroke="#e11ee1"/>
<path d="M469.3,1267.7 L472.5,1267.8 L475.7,1267.8 L478.9,1267.8 L482.0,1267.9 L485.2,1267.9 L488.4,1267.9 L491.6,1268.0 L494.8,1268.0 L497.9,1268.0 L501.1,1268.1 L504.3,1268.1 L507.5,1268.1 L510.7,1268.1 L513.9,1268.2 L517.0,1268.2 L520.2,1268.2 L523.4,1268.2 L526.6,1268.3 L529.8,1268.3 L532.9,1268.3 L536.1,1268.3 L539.3,1268.4 L542.5,1268.4 L545.7,1268.4 L548.8,1268.4 L552.0,1268.4 L555.2,1268.4 L558.4,1268.5 L561.6,1268.5 L564.7,1268.5 L567.9,1268.5 L571.1,1268.5 L574.3,1268.5 L577.5,1268.5 L580.7,1268.5 L583.8,1268.5 L587.0,1268.5 L590.2,1268.5 L593.4,1268.5 L596.6,1268.5 L599.7,1268.5 L602.9,1268.4 L606.1,1268.4 L609.3,1268.4 L612.5,1268.4 L615.6,1268.4 L618.8,1268.3 L622.0,1268.3 L625.2,1268.2 L628.4,1268.2 L631.5,1268.2 L634.7,1268.1 L637.9,1268.0 L641.1,1268.0 L644.3,1267.9 L647.5,1267.8 L650.6,1267.8 L653.8,1267.7 L657.0,1267.6 L660.2,1267.5 L663.4,1267.4 L666.5,1267.3 L669.7,1267.1 L672.9,1267.0 L676.1,1266.8 L679.3,1266.7 L682.4,1266.5 L685.6,1266.4 L688.8,1266.2 L692.0,1266.0 L695.2,1265.8 L698.3,1265.5 L701.5,1265.3 L704.7,1265.0 L707.9,1264.8 L711.1,1264.5 L714.3,1264.2 L717.4,1263.9 L720.6,1263.5 L723.8,1263.2 L727.0,1262.8 L730.2,1262.4 L733.3,1261.9 L736.5,1261.5 L739.7,1261.0 L742.9,1260.5 L746.1,1259.9 L749.2,1259.4 L752.4,1258.8 L755.6,1258.1 L758.8,1257.5 L762.0,1256.7 L765.2,1256.0 L768.3,1255.2 L771.5,1254.4 L774.7,1253.5 L777.9,1252.5 L781.1,1251.5 L784.2,1250.5 L787.4,1249.4 L790.6,1248.2 L793.8,1247.0 L797.0,1245.7 L800.1,1244.4 L803.3,1243.0 L806.5,1241.5 L809.7,1239.9 L812.9,1238.2 L816.0,1236.5 L819.2,1234.7 L822.4,1232.8 L825.6,1230.7 L828.8,1228.6 L832.0,1226.4 L835.1,1224.1 L838.3,1221.7 L841.5,1219.1 L844.7,1216.5 L847.9,1213.7 L851.0,1210.8 L854.2,1207.8 L857.4,1204.6 L860.6,1201.3 L863.8,1197.9 L866.9,1194.3 L870.1,1190.6 L873.3,1186.7 L876.5,1182.7 L879.7,1178.5 L882.8,1174.2 L886.0,1169.7 L889.2,1165.1 L892.4,1160.3 L895.6,1155.3 L898.8,1150.2 L901.9,1144.9 L905.1,1139.4 L908.3,1133.7 L911.5,1127.9 L914.7,1122.0 L917.8,1115.8 L921.0,1109.5 L924.2,1103.1 L927.4,1096.4 L930.6,1089.7 L933.7,1082.7 L936.9,1075.7 L940.1,1068.4 L943.3,1061.1 L946.5,1053.6 L949.6,1046.0 L952.8,1038.2 L956.0,1030.3 L959.2,1022.4 L962.4,1014.3 L965.6,1006.1 L968.7,997.9 L971.9,989.6 L975.1,981.2 L978.3,972.7 L981.5,964.2 L984.6,955.7 L987.8,947.2 L991.0,938.6 L994.2,930.1 L997.4,921.5 L1000.5,913.0 L1003.7,904.5 L1006.9,896.1 L1010.1,887.7 L1013.3,879.4 L1016.4,871.2 L1019.6,863.0 L1022.8,855.0 L1026.0,847.1 L1029.2,839.3 L1032.4,831.7 L1035.5,824.2 L1038.7,816.9 L1041.9,809.7 L1045.1,802.7 L1048.3,796.0 L1051.4,789.4 L1054.6,783.0 L1057.8,776.8 L1061.0,770.9 L1064.2,765.2 L1067.3,759.7 L1070.5,754.5 L1073.7,749.5 L1076.9,744.7 L1080.1,740.2 L1083.3,736.0 L1086.4,732.0 L1089.6,728.2 L1092.8,724.7 L1096.0,721.5 L1099.2,718.5 L1102.3,715.8 L1105.5,713.3 L1108.7,711.1 L1111.9,709.1 L1115.1,707.4 L1118.2,705.9 L1121.4,704.7 L1124.6,703.6 L1127.8,702.8 L1131.0,702.2 L1134.1,701.9 L1137.3,701.7 L1140.5,701.7 L1143.7,702.0 L1146.9,702.4 L1150.1,703.0 L1153.2,703.8 L1156.4,704.7 L1159.6,705.8 L1162.8,707.1 L1166.0,708.5 L1169.1,710.0 L1172.3,711.7 L1175.5,713.5 L1178.7,715.4 L1181.9,717.4 L1185.0,719.6 L1188.2,721.8 L1191.4,724.1 L1194.6,726.6 L1197.8,729.1 L1200.9,731.7 L1204.1,734.4 L1207.3,737.1 L1210.5,739.9 L1213.7,742.8 L1216.9,745.7 L1220.0,748.7 L1223.2,751.8 L1226.4,754.9 L1229.6,758.1 L1232.8,761.3 L1235.9,764.6 L1239.1,767.9 L1242.3,771.2 L1245.5,774.6 L1248.7,778.1 L1251.8,781.6 L1255.0,785.1 L1258.2,788.6 L1261.4,792.3 L1264.6,795.9 L1267.7,799.6 L1270.9,803.3 L1274.1,807.1 L1277.3,810.9 L1280.5,814.8 L1283.7,818.7 L1286.8,822.6 L1290.0,826.6 L1293.2,830.6 L1296.4,834.7 L1299.6,838.8 L1302.7,842.9 L1305.9,847.1 L1309.1,851.3 L1312.3,855.6 L1315.5,859.9 L1318.6,864.3 L1321.8,868.6 L1325.0,873.1 L1328.2,877.5 L1331.4,882.0 L1334.5,886.5 L1337.7,891.1 L1340.9,895.7 L1344.1,900.3 L1347.3,905.0 L1350.5,909.7 L1353.6,914.4 L1356.8,919.1 L1360.0,923.9 L1363.2,928.7 L1366.4,933.4 L1369.5,938.3 L1372.7,943.1 L1375.9,947.9 L1379.1,952.8 L1382.3,957.6 L1385.4,962.5 L1388.6,967.4 L1391.8,972.2 L1395.0,977.1 L1398.2,982.0 L1401.4,986.8 L1404.5,991.7 L1407.7,996.5 L1410.9,1001.3 L1414.1,1006.2 L1417.3,1010.9 L1420.4,1015.7 L1423.6,1020.4 L1426.8,1025.2 L1430.0,1029.9 L1433.2,1034.5 L1436.3,1039.1 L1439.5,1043.7 L1442.7,1048.3 L1445.9,1052.8 L1449.1,1057.3 L1452.2,1061.7 L1455.4,1066.1 L1458.6,1070.5 L1461.8,1074.8 L1465.0,1079.0 L1468.2,1083.2 L1471.3,1087.4 L1474.5,1091.5 L1477.7,1095.5 L1480.9,1099.5 L1484.1,1103.4 L1487.2,1107.3 L1490.4,1111.1 L1493.6,1114.8 L1496.8,1118.5 L1500.0,1122.2 L1503.1,1125.7 L1506.3,1129.2 L1509.5,1132.7 L1512.7,1136.1 L1515.9,1139.4 L1519.0,1142.7 L1522.2,1145.9 L1525.4,1149.0 L1528.6,1152.1 L1531.8,1155.1 L1535.0,1158.0 L1538.1,1160.9 L1541.3,1163.7 L1544.5,1166.4 L1547.7,1169.1 L1550.9,1171.8 L1554.0,1174.3 L1557.2,1176.8 L1560.4,1179.3 L1563.6,1181.7 L1566.8,1184.0 L1569.9,1186.3 L1573.1,1188.5 L1576.3,1190.7 L1579.5,1192.8 L1582.7,1194.8 L1585.8,1196.8 L1589.0,1198.8 L1592.2,1200.7 L1595.4,1202.5 L1598.6,1204.3 L1601.8,1206.0 L1604.9,1207.7 L1608.1,1209.4 L1611.3,1211.0 L1614.5,1212.5 L1617.7,1214.0 L1620.8,1215.5 L1624.0,1216.9 L1627.2,1218.3 L1630.4,1219.6 L1633.6,1220.9 L1636.7,1222.2 L1639.9,1223.4 L1643.1,1224.6 L1646.3,1225.8 L1649.5,1226.9 L1652.6,1228.0 L1655.8,1229.1 L1659.0,1230.1 L1662.2,1231.1 L1665.4,1232.1 L1668.6,1233.0 L1671.7,1233.9 L1674.9,1234.8 L1678.1,1235.7 L1681.3,1236.5 L1684.5,1237.3 L1687.6,1238.1 L1690.8,1238.9 L1694.0,1239.7 L1697.2,1240.4 L1700.4,1241.1 L1703.5,1241.8 L1706.7,1242.4 L1709.9,1243.1 L1713.1,1243.7 L1716.3,1244.4 L1719.5,1245.0 L1722.6,1245.6 L1725.8,1246.1 L1729.0,1246.7 L1732.2,1247.2 L1735.4,1247.8 L1738.5,1248.3 L1741.7,1248.8 L1744.9,1249.3 L1748.1,1249.8 L1751.3,1250.3 L1754.4,1250.7 L1757.6,1251.2 L1760.8,1251.6 L1764.0,1252.1 L1767.2,1252.5 L1770.3,1252.9 L1773.5,1253.3 L1776.7,1253.7 L1779.9,1254.1 L1783.1,1254.5 L1786.3,1254.9 L1789.4,1255.3 L1792.6,1255.6 L1795.8,1256.0 L1799.0,1256.3 L1802.2,1256.7 L1805.3,1257.0 L1808.5,1257.4 L1811.7,1257.7 L1814.9,1258.0 L1818.1,1258.3 L1821.2,1258.7 L1824.4,1259.0 L1827.6,1259.3 L1830.8,1259.6 L1834.0,1259.9 L1837.1,1260.2 L1840.3,1260.4 L1843.5,1260.7 L1846.7,1261.0 L1849.9,1261.3 L1853.1,1261.5 L1856.2,1261.8 L1859.4,1262.1 L1862.6,1262.3 L1865.8,1262.6 L1869.0,1262.8 L1872.1,1263.0 L1875.3,1263.3 L1878.5,1263.5 L1881.7,1263.7 L1884.9,1264.0 L1888.0,1264.2 L1891.2,1264.4 L1894.4,1264.6 L1897.6,1264.8 L1900.8,1265.0 L1903.9,1265.2 L1907.1,1265.4 L1910.3,1265.6 L1913.5,1265.8 L1916.7,1266.0 L1919.9,1266.2 L1923.0,1266.4 L1926.2,1266.6 L1929.4,1266.7 L1932.6,1266.9 L1935.8,1267.1 L1938.9,1267.2 L1942.1,1267.4 L1945.3,1267.5 L1948.5,1267.7 L1951.7,1267.8 L1954.8,1268.0 L1958.0,1268.1 L1961.2,1268.3 L1964.4,1268.4 L1967.6,1268.5 L1970.7,1268.7 L1973.9,1268.8 L1977.1,1268.9 L1980.3,1269.0 L1983.5,1269.2 L1986.7,1269.3 L1989.8,1269.4 L1993.0,1269.5 L1996.2,1269.6 L1999.4,1269.7 L2002.6,1269.8 L2005.7,1269.9 L2008.9,1270.0 L2012.1,1270.1 L2015.3,1270.2 L2018.5,1270.2 L2021.6,1270.3 L2024.8,1270.4 L2028.0,1270.5 L2031.2,1270.6 L2034.4,1270.6 L2037.6,1270.7 L2040.7,1270.8 L2043.9,1270.9 L2047.1,1270.9 L2050.3,1271.0 L2053.5,1271.0 L2056.6,1271.1 L2059.8,1271.2 L2063.0,1271.2 L2066.2,1271.3 L2069.4,1271.3 L2072.5,1271.4 L2075.7,1271.4 L2078.9,1271.5 L2082.1,1271.5 L2085.3,1271.5 L2088.4,1271.6 L2091.6,1271.6 L2094.8,1271.7 L2098.0,1271.7 L2101.2,1271.7 L2104.4,1271.8 L2107.5,1271.8 L2110.7,1271.8 L2113.9,1271.9 L2117.1,1271.9 L2120.3,1271.9 L2123.4,1272.0 L2126.6,1272.0 L2129.8,1272.0 L2133.0,1272.0 L2136.2,1272.1 L2139.3,1272.1 L2142.5,1272.1 L2145.7,1272.1 L2148.9,1272.1 L2152.1,1272.2 L2155.2,1272.2 L2158.4,1272.2 L2161.6,1272.2 L2164.8,1272.2 L2168.0,1272.2 L2171.2,1272.3 L2174.3,1272.3 L2177.5,1272.3 L2180.7,1272.3 L2183.9,1272.3 L2187.1,1272.3 L2190.2,1272.3 L2193.4,1272.3 L2196.6,1272.4 L2199.8,1272.4 L2203.0,1272.4 L2206.1,1272.4 L2209.3,1272.4" stroke="#f5f51e"/>
<path d="M469.3,1267.1 L472.5,1267.2 L475.7,1267.2 L478.9,1267.3 L482.0,1267.3 L485.2,1267.3 L488.4,1267.4 L491.6,1267.4 L494.8,1267.4 L497.9,1267.5 L501.1,1267.5 L504.3,1267.5 L507.5,1267.6 L510.7,1267.6 L513.9,1267.6 L517.0,1267.7 L520.2,1267.7 L523.4,1267.7 L526.6,1267.7 L529.8,1267.8 L532.9,1267.8 L536.1,1267.8 L539.3,1267.8 L542.5,1267.9 L545.7,1267.9 L548.8,1267.9 L552.0,1267.9 L555.2,1267.9 L558.4,1267.9 L561.6,1268.0 L564.7,1268.0 L567.9,1268.0 L571.1,1268.0 L574.3,1268.0 L577.5,1268.0 L580.7,1268.0 L583.8,1268.0 L587.0,1268.0 L590.2,1268.0 L593.4,1268.0 L596.6,1268.0 L599.7,1267.9 L602.9,1267.9 L606.1,1267.9 L609.3,1267.9 L612.5,1267.8 L615.6,1267.8 L618.8,1267.8 L622.0,1267.7 L625.2,1267.7 L628.4,1267.6 L631.5,1267.6 L634.7,1267.5 L637.9,1267.4 L641.1,1267.4 L644.3,1267.3 L647.5,1267.2 L650.6,1267.1 L653.8,1267.0 L657.0,1266.9 L660.2,1266.8 L663.4,1266.7 L666.5,1266.5 L669.7,1266.4 L672.9,1266.2 L676.1,1266.1 L679.3,1265.9 L682.4,1265.7 L685.6,1265.5 L688.8,1265.3 L692.0,1265.1 L695.2,1264.8 L698.3,1264.6 L701.5,1264.3 L704.7,1264.0 L707.9,1263.7 L711.1,1263.3 L714.3,1263.0 L717.4,1262.6 L720.6,1262.2 L723.8,1261.8 L727.0,1261.4 L730.2,1260.9 L733.3,1260.4 L736.5,1259.9 L739.7,1259.3 L742.9,1258.7 L746.1,1258.1 L749.2,1257.4 L752.4,1256.7 L755.6,1256.0 L758.8,1255.2 L762.0,1254.4 L765.2,1253.5 L768.3,1252.6 L771.5,1251.7 L774.7,1250.6 L777.9,1249.5 L781.1,1248.4 L784.2,1247.2 L787.4,1245.9 L790.6,1244.6 L793.8,1243.2 L797.0,1241.7 L800.1,1240.2 L803.3,1238.5 L806.5,1236.8 L809.7,1235.0 L812.9,1233.1 L816.0,1231.1 L819.2,1229.0 L822.4,1226.8 L825.6,1224.5 L828.8,1222.0 L832.0,1219.5 L835.1,1216.8 L838.3,1214.0 L841.5,1211.1 L844.7,1208.0 L847.9,1204.8 L851.0,1201.5 L854.2,1198.0 L857.4,1194.4 L860.6,1190.6 L863.8,1186.6 L866.9,1182.5 L870.1,1178.2 L873.3,1173.7 L876.5,1169.1 L879.7,1164.3 L882.8,1159.3 L886.0,1154.2 L889.2,1148.8 L892.4,1143.3 L895.6,1137.5 L898.8,1131.6 L901.9,1125.5 L905.1,1119.2 L908.3,1112.7 L911.5,1106.0 L914.7,1099.1 L917.8,1092.1 L921.0,1084.8 L924.2,1077.4 L927.4,1069.7 L930.6,1061.9 L933.7,1053.9 L936.9,1045.8 L940.1,1037.5 L943.3,1029.0 L946.5,1020.4 L949.6,1011.6 L952.8,1002.6 L956.0,993.6 L959.2,984.4 L962.4,975.1 L965.6,965.7 L968.7,956.2 L971.9,946.6 L975.1,936.9 L978.3,927.2 L981.5,917.4 L984.6,907.6 L987.8,897.8 L991.0,887.9 L994.2,878.1 L997.4,868.2 L1000.5,858.4 L1003.7,848.6 L1006.9,838.9 L1010.1,829.3 L1013.3,819.7 L1016.4,810.2 L1019.6,800.8 L1022.8,791.6 L1026.0,782.5 L1029.2,773.5 L1032.4,764.7 L1035.5,756.1 L1038.7,747.7 L1041.9,739.4 L1045.1,731.4 L1048.3,723.6 L1051.4,716.0 L1054.6,708.7 L1057.8,701.6 L1061.0,694.7 L1064.2,688.1 L1067.3,681.8 L1070.5,675.8 L1073.7,670.0 L1076.9,664.5 L1080.1,659.4 L1083.3,654.5 L1086.4,649.9 L1089.6,645.5 L1092.8,641.5 L1096.0,637.8 L1099.2,634.4 L1102.3,631.2 L1105.5,628.4 L1108.7,625.8 L1111.9,623.6 L1115.1,621.6 L1118.2,619.9 L1121.4,618.4 L1124.6,617.2 L1127.8,616.3 L1131.0,615.6 L1134.1,615.2 L1137.3,615.0 L1140.5,615.1 L1143.7,615.3 L1146.9,615.8 L1150.1,616.5 L1153.2,617.4 L1156.4,618.5 L1159.6,619.7 L1162.8,621.2 L1166.0,622.8 L1169.1,624.6 L1172.3,626.5 L1175.5,628.6 L1178.7,630.8 L1181.9,633.1 L1185.0,635.6 L1188.2,638.2 L1191.4,640.9 L1194.6,643.6 L1197.8,646.5 L1200.9,649.5 L1204.1,652.6 L1207.3,655.8 L1210.5,659.0 L1213.7,662.3 L1216.9,665.7 L1220.0,669.2 L1223.2,672.7 L1226.4,676.3 L1229.6,679.9 L1232.8,683.6 L1235.9,687.4 L1239.1,691.2 L1242.3,695.1 L1245.5,699.0 L1248.7,703.0 L1251.8,707.0 L1255.0,711.0 L1258.2,715.1 L1261.4,719.3 L1264.6,723.5 L1267.7,727.8 L1270.9,732.1 L1274.1,736.4 L1277.3,740.8 L1280.5,745.3 L1283.7,749.7 L1286.8,754.3 L1290.0,758.9 L1293.2,763.5 L1296.4,768.2 L1299.6,772.9 L1302.7,777.7 L1305.9,782.5 L1309.1,787.4 L1312.3,792.3 L1315.5,797.2 L1318.6,802.2 L1321.8,807.3 L1325.0,812.4 L1328.2,817.5 L1331.4,822.7 L1334.5,827.9 L1337.7,833.2 L1340.9,838.5 L1344.1,843.8 L1347.3,849.2 L1350.5,854.5 L1353.6,860.0 L1356.8,865.4 L1360.0,870.9 L1363.2,876.4 L1366.4,881.9 L1369.5,887.5 L1372.7,893.1 L1375.9,898.6 L1379.1,904.2 L1382.3,909.8 L1385.4,915.4 L1388.6,921.0 L1391.8,926.6 L1395.0,932.2 L1398.2,937.8 L1401.4,943.4 L1404.5,949.0 L1407.7,954.6 L1410.9,960.2 L1414.1,965.7 L1417.3,971.2 L1420.4,976.7 L1423.6,982.2 L1426.8,987.6 L1430.0,993.0 L1433.2,998.4 L1436.3,1003.7 L1439.5,1009.0 L1442.7,1014.2 L1445.9,1019.4 L1449.1,1024.6 L1452.2,1029.7 L1455.4,1034.8 L1458.6,1039.8 L1461.8,1044.7 L1465.0,1049.6 L1468.2,1054.5 L1471.3,1059.2 L1474.5,1063.9 L1477.7,1068.6 L1480.9,1073.2 L1484.1,1077.7 L1487.2,1082.2 L1490.4,1086.6 L1493.6,1090.9 L1496.8,1095.1 L1500.0,1099.3 L1503.1,1103.4 L1506.3,1107.5 L1509.5,1111.5 L1512.7,1115.3 L1515.9,1119.2 L1519.0,1122.9 L1522.2,1126.6 L1525.4,1130.2 L1528.6,1133.7 L1531.8,1137.2 L1535.0,1140.6 L1538.1,1143.9 L1541.3,1147.2 L1544.5,1150.3 L1547.7,1153.4 L1550.9,1156.5 L1554.0,1159.4 L1557.2,1162.3 L1560.4,1165.1 L1563.6,1167.9 L1566.8,1170.6 L1569.9,1173.2 L1573.1,1175.7 L1576.3,1178.2 L1579.5,1180.7 L1582.7,1183.0 L1585.8,1185.3 L1589.0,1187.6 L1592.2,1189.7 L1595.4,1191.9 L1598.6,1193.9 L1601.8,1195.9 L1604.9,1197.9 L1608.1,1199.8 L1611.3,1201.6 L1614.5,1203.4 L1617.7,1205.1 L1620.8,1206.8 L1624.0,1208.5 L1627.2,1210.1 L1630.4,1211.6 L1633.6,1213.1 L1636.7,1214.6 L1639.9,1216.0 L1643.1,1217.4 L1646.3,1218.7 L1649.5,1220.0 L1652.6,1221.2 L1655.8,1222.5 L1659.0,1223.7 L1662.2,1224.8 L1665.4,1225.9 L1668.6,1227.0 L1671.7,1228.1 L1674.9,1229.1 L1678.1,1230.1 L1681.3,1231.1 L1684.5,1232.0 L1687.6,1232.9 L1690.8,1233.8 L1694.0,1234.7 L1697.2,1235.5 L1700.4,1236.3 L1703.5,1237.1 L1706.7,1237.9 L1709.9,1238.6 L1713.1,1239.4 L1716.3,1240.1 L1719.5,1240.8 L1722.6,1241.4 L1725.8,1242.1 L1729.0,1242.8 L1732.2,1243.4 L1735.4,1244.0 L1738.5,1244.6 L1741.7,1245.2 L1744.9,1245.8 L1748.1,1246.3 L1751.3,1246.9 L1754.4,1247.4 L1757.6,1247.9 L1760.8,1248.4 L1764.0,1248.9 L1767.2,1249.4 L1770.3,1249.9 L1773.5,1250.4 L1776.7,1250.9 L1779.9,1251.3 L1783.1,1251.8 L1786.3,1252.2 L1789.4,1252.6 L1792.6,1253.1 L1795.8,1253.5 L1799.0,1253.9 L1802.2,1254.3 L1805.3,1254.7 L1808.5,1255.1 L1811.7,1255.4 L1814.9,1255.8 L1818.1,1256.2 L1821.2,1256.5 L1824.4,1256.9 L1827.6,1257.2 L1830.8,1257.6 L1834.0,1257.9 L1837.1,1258.3 L1840.3,1258.6 L1843.5,1258.9 L1846.7,1259.2 L1849.9,1259.5 L1853.1,1259.9 L1856.2,1260.2 L1859.4,1260.5 L1862.6,1260.7 L1865.8,1261.0 L1869.0,1261.3 L1872.1,1261.6 L1875.3,1261.9 L1878.5,1262.1 L1881.7,1262.4 L1884.9,1262.7 L1888.0,1262.9 L1891.2,1263.2 L1894.4,1263.4 L1897.6,1263.7 L1900.8,1263.9 L1903.9,1264.1 L1907.1,1264.4 L1910.3,1264.6 L1913.5,1264.8 L1916.7,1265.0 L1919.9,1265.2 L1923.0,1265.4 L1926.2,1265.6 L1929.4,1265.8 L1932.6,1266.0 L1935.8,1266.2 L1938.9,1266.4 L1942.1,1266.6 L1945.3,1266.8 L1948.5,1267.0 L1951.7,1267.1 L1954.8,1267.3 L1958.0,1267.5 L1961.2,1267.6 L1964.4,1267.8 L1967.6,1267.9 L1970.7,1268.1 L1973.9,1268.2 L1977.1,1268.4 L1980.3,1268.5 L1983.5,1268.6 L1986.7,1268.8 L1989.8,1268.9 L1993.0,1269.0 L1996.2,1269.1 L1999.4,1269.3 L2002.6,1269.4 L2005.7,1269.5 L2008.9,1269.6 L2012.1,1269.7 L2015.3,1269.8 L2018.5,1269.9 L2021.6,1270.0 L2024.8,1270.1 L2028.0,1270.2 L2031.2,1270.3 L2034.4,1270.3 L2037.6,1270.4 L2040.7,1270.5 L2043.9,1270.6 L2047.1,1270.7 L2050.3,1270.7 L2053.5,1270.8 L2056.6,1270.9 L2059.8,1270.9 L2063.0,1271.0 L2066.2,1271.1 L2069.4,1271.1 L2072.5,1271.2 L2075.7,1271.2 L2078.9,1271.3 L2082.1,1271.3 L2085.3,1271.4 L2088.4,1271.4 L2091.6,1271.5 L2094.8,1271.5 L2098.0,1271.6 L2101.2,1271.6 L2104.4,1271.7 L2107.5,1271.7 L2110.7,1271.7 L2113.9,1271.8 L2117.1,1271.8 L2120.3,1271.8 L2123.4,1271.9 L2126.6,1271.9 L2129.8,1271.9 L2133.0,1272.0 L2136.2,1272.0 L2139.3,1272.0 L2142.5,1272.0 L2145.7,1272.1 L2148.9,1272.1 L2152.1,1272.1 L2155.2,1272.1 L2158.4,1272.1 L2161.6,1272.2 L2164.8,1272.2 L2168.0,1272.2 L2171.2,1272.2 L2174.3,1272.2 L2177.5,1272.2 L2180.7,1272.3 L2183.9,1272.3 L2187.1,1272.3 L2190.2,1272.3 L2193.4,1272.3 L2196.6,1272.3 L2199.8,1272.3 L2203.0,1272.3 L2206.1,1272.4 L2209.3,1272.4" stroke="#7d7d19"/>
<path d="M469.3,1266.5 L472.5,1266.6 L475.7,1266.6 L478.9,1266.7 L482.0,1266.7 L485.2,1266.7 L488.4,1266.8 L491.6,1266.8 L494.8,1266.8 L497.9,1266.9 L501.1,1266.9 L504.3,1267.0 L507.5,1267.0 L510.7,1267.0 L513.9,1267.1 L517.0,1267.1 L520.2,1267.1 L523.4,1267.2 L526.6,1267.2 L529.8,1267.2 L532.9,1267.2 L536.1,1267.3 L539.3,1267.3 L542.5,1267.3 L545.7,1267.3 L548.8,1267.4 L552.0,1267.4 L555.2,1267.4 L558.4,1267.4 L561.6,1267.4 L564.7,1267.4 L567.9,1267.4 L571.1,1267.4 L574.3,1267.4 L577.5,1267.5 L580.7,1267.5 L583.8,1267.4 L587.0,1267.4 L590.2,1267.4 L593.4,1267.4 L596.6,1267.4 L599.7,1267.4 L602.9,1267.4 L606.1,1267.3 L609.3,1267.3 L612.5,1267.3 L615.6,1267.2 L618.8,1267.2 L622.0,1267.1 L625.2,1267.1 L628.4,1267.0 L631.5,1267.0 L634.7,1266.9 L637.9,1266.8 L641.1,1266.7 L644.3,1266.6 L647.5,1266.5 L650.6,1266.4 L653.8,1266.3 L657.0,1266.2 L660.2,1266.1 L663.4,1265.9 L666.5,1265.8 L669.7,1265.6 L672.9,1265.4 L676.1,1265.2 L679.3,1265.0 L682.4,1264.8 L685.6,1264.6 L688.8,1264.3 L692.0,1264.1 L695.2,1263.8 L698.3,1263.5 L701.5,1263.2 L704.7,1262.9 L707.9,1262.5 L711.1,1262.1 L714.3,1261.7 L717.4,1261.3 L720.6,1260.9 L723.8,1260.4 L727.0,1259.9 L730.2,1259.3 L733.3,1258.8 L736.5,1258.2 L739.7,1257.5 L742.9,1256.9 L746.1,1256.2 L749.2,1255.4 L752.4,1254.6 L755.6,1253.8 L758.8,1252.9 L762.0,1252.0 L765.2,1251.0 L768.3,1249.9 L771.5,1248.8 L774.7,1247.6 L777.9,1246.4 L781.1,1245.1 L784.2,1243.8 L787.4,1242.3 L790.6,1240.8 L793.8,1239.2 L797.0,1237.5 L800.1,1235.7 L803.3,1233.9 L806.5,1231.9 L809.7,1229.8 L812.9,1227.7 L816.0,1225.4 L819.2,1223.0 L822.4,1220.5 L825.6,1217.8 L828.8,1215.1 L832.0,1212.2 L835.1,1209.1 L838.3,1206.0 L841.5,1202.6 L844.7,1199.1 L847.9,1195.5 L851.0,1191.7 L854.2,1187.7 L857.4,1183.6 L860.6,1179.3 L863.8,1174.8 L866.9,1170.1 L870.1,1165.2 L873.3,1160.1 L876.5,1154.8 L879.7,1149.4 L882.8,1143.7 L886.0,1137.8 L889.2,1131.7 L892.4,1125.4 L895.6,1118.9 L898.8,1112.1 L901.9,1105.2 L905.1,1098.0 L908.3,1090.6 L911.5,1083.0 L914.7,1075.2 L917.8,1067.1 L921.0,1058.9 L924.2,1050.4 L927.4,1041.7 L930.6,1032.8 L933.7,1023.7 L936.9,1014.4 L940.1,1005.0 L943.3,995.3 L946.5,985.5 L949.6,975.5 L952.8,965.3 L956.0,955.0 L959.2,944.5 L962.4,934.0 L965.6,923.2 L968.7,912.4 L971.9,901.5 L975.1,890.5 L978.3,879.4 L981.5,868.3 L984.6,857.1 L987.8,845.9 L991.0,834.7 L994.2,823.5 L997.4,812.3 L1000.5,801.1 L1003.7,790.0 L1006.9,778.9 L1010.1,767.9 L1013.3,757.0 L1016.4,746.2 L1019.6,735.6 L1022.8,725.1 L1026.0,714.7 L1029.2,704.5 L1032.4,694.5 L1035.5,684.7 L1038.7,675.0 L1041.9,665.7 L1045.1,656.5 L1048.3,647.6 L1051.4,639.0 L1054.6,630.6 L1057.8,622.5 L1061.0,614.8 L1064.2,607.3 L1067.3,600.1 L1070.5,593.2 L1073.7,586.6 L1076.9,580.4 L1080.1,574.5 L1083.3,568.9 L1086.4,563.7 L1089.6,558.8 L1092.8,554.2 L1096.0,550.0 L1099.2,546.1 L1102.3,542.5 L1105.5,539.3 L1108.7,536.3 L1111.9,533.8 L1115.1,531.5 L1118.2,529.5 L1121.4,527.9 L1124.6,526.5 L1127.8,525.5 L1131.0,524.7 L1134.1,524.2 L1137.3,524.0 L1140.5,524.1 L1143.7,524.4 L1146.9,524.9 L1150.1,525.7 L1153.2,526.7 L1156.4,528.0 L1159.6,529.4 L1162.8,531.0 L1166.0,532.9 L1169.1,534.9 L1172.3,537.1 L1175.5,539.4 L1178.7,542.0 L1181.9,544.6 L1185.0,547.4 L1188.2,550.4 L1191.4,553.4 L1194.6,556.6 L1197.8,559.9 L1200.9,563.3 L1204.1,566.8 L1207.3,570.4 L1210.5,574.1 L1213.7,577.9 L1216.9,581.7 L1220.0,585.7 L1223.2,589.7 L1226.4,593.8 L1229.6,597.9 L1232.8,602.1 L1235.9,606.4 L1239.1,610.8 L1242.3,615.2 L1245.5,619.6 L1248.7,624.1 L1251.8,628.7 L1255.0,633.3 L1258.2,638.0 L1261.4,642.7 L1264.6,647.5 L1267.7,652.4 L1270.9,657.3 L1274.1,662.2 L1277.3,667.2 L1280.5,672.3 L1283.7,677.4 L1286.8,682.5 L1290.0,687.8 L1293.2,693.0 L1296.4,698.4 L1299.6,703.7 L1302.7,709.2 L1305.9,714.7 L1309.1,720.2 L1312.3,725.8 L1315.5,731.5 L1318.6,737.2 L1321.8,742.9 L1325.0,748.7 L1328.2,754.5 L1331.4,760.4 L1334.5,766.4 L1337.7,772.4 L1340.9,778.4 L1344.1,784.5 L1347.3,790.6 L1350.5,796.7 L1353.6,802.9 L1356.8,809.1 L1360.0,815.3 L1363.2,821.6 L1366.4,827.9 L1369.5,834.2 L1372.7,840.5 L1375.9,846.9 L1379.1,853.2 L1382.3,859.6 L1385.4,866.0 L1388.6,872.4 L1391.8,878.8 L1395.0,885.1 L1398.2,891.5 L1401.4,897.9 L1404.5,904.2 L1407.7,910.6 L1410.9,916.9 L1414.1,923.2 L1417.3,929.5 L1420.4,935.7 L1423.6,942.0 L1426.8,948.2 L1430.0,954.3 L1433.2,960.4 L1436.3,966.5 L1439.5,972.5 L1442.7,978.5 L1445.9,984.4 L1449.1,990.3 L1452.2,996.1 L1455.4,1001.9 L1458.6,1007.6 L1461.8,1013.2 L1465.0,1018.8 L1468.2,1024.3 L1471.3,1029.7 L1474.5,1035.1 L1477.7,1040.4 L1480.9,1045.6 L1484.1,1050.8 L1487.2,1055.8 L1490.4,1060.8 L1493.6,1065.7 L1496.8,1070.6 L1500.0,1075.4 L1503.1,1080.0 L1506.3,1084.6 L1509.5,1089.2 L1512.7,1093.6 L1515.9,1097.9 L1519.0,1102.2 L1522.2,1106.4 L1525.4,1110.5 L1528.6,1114.5 L1531.8,1118.5 L1535.0,1122.3 L1538.1,1126.1 L1541.3,1129.8 L1544.5,1133.4 L1547.7,1136.9 L1550.9,1140.4 L1554.0,1143.8 L1557.2,1147.1 L1560.4,1150.3 L1563.6,1153.4 L1566.8,1156.5 L1569.9,1159.4 L1573.1,1162.3 L1576.3,1165.2 L1579.5,1167.9 L1582.7,1170.6 L1585.8,1173.2 L1589.0,1175.8 L1592.2,1178.3 L1595.4,1180.7 L1598.6,1183.0 L1601.8,1185.3 L1604.9,1187.5 L1608.1,1189.7 L1611.3,1191.8 L1614.5,1193.8 L1617.7,1195.8 L1620.8,1197.7 L1624.0,1199.6 L1627.2,1201.4 L1630.4,1203.2 L1633.6,1204.9 L1636.7,1206.5 L1639.9,1208.2 L1643.1,1209.7 L1646.3,1211.2 L1649.5,1212.7 L1652.6,1214.1 L1655.8,1215.5 L1659.0,1216.9 L1662.2,1218.2 L1665.4,1219.5 L1668.6,1220.7 L1671.7,1221.9 L1674.9,1223.1 L1678.1,1224.2 L1681.3,1225.3 L1684.5,1226.4 L1687.6,1227.4 L1690.8,1228.4 L1694.0,1229.4 L1697.2,1230.4 L1700.4,1231.3 L1703.5,1232.2 L1706.7,1233.1 L1709.9,1233.9 L1713.1,1234.8 L1716.3,1235.6 L1719.5,1236.4 L1722.6,1237.1 L1725.8,1237.9 L1729.0,1238.6 L1732.2,1239.3 L1735.4,1240.0 L1738.5,1240.7 L1741.7,1241.4 L1744.9,1242.0 L1748.1,1242.7 L1751.3,1243.3 L1754.4,1243.9 L1757.6,1244.5 L1760.8,1245.1 L1764.0,1245.7 L1767.2,1246.2 L1770.3,1246.8 L1773.5,1247.3 L1776.7,1247.9 L1779.9,1248.4 L1783.1,1248.9 L1786.3,1249.4 L1789.4,1249.9 L1792.6,1250.4 L1795.8,1250.8 L1799.0,1251.3 L1802.2,1251.7 L1805.3,1252.2 L1808.5,1252.6 L1811.7,1253.1 L1814.9,1253.5 L1818.1,1253.9 L1821.2,1254.3 L1824.4,1254.7 L1827.6,1255.1 L1830.8,1255.5 L1834.0,1255.9 L1837.1,1256.3 L1840.3,1256.7 L1843.5,1257.0 L1846.7,1257.4 L1849.9,1257.7 L1853.1,1258.1 L1856.2,1258.4 L1859.4,1258.8 L1862.6,1259.1 L1865.8,1259.4 L1869.0,1259.8 L1872.1,1260.1 L1875.3,1260.4 L1878.5,1260.7 L1881.7,1261.0 L1884.9,1261.3 L1888.0,1261.6 L1891.2,1261.9 L1894.4,1262.2 L1897.6,1262.4 L1900.8,1262.7 L1903.9,1263.0 L1907.1,1263.2 L1910.3,1263.5 L1913.5,1263.7 L1916.7,1264.0 L1919.9,1264.2 L1923.0,1264.5 L1926.2,1264.7 L1929.4,1264.9 L1932.6,1265.1 L1935.8,1265.4 L1938.9,1265.6 L1942.1,1265.8 L1945.3,1266.0 L1948.5,1266.2 L1951.7,1266.4 L1954.8,1266.6 L1958.0,1266.7 L1961.2,1266.9 L1964.4,1267.1 L1967.6,1267.3 L1970.7,1267.4 L1973.9,1267.6 L1977.1,1267.8 L1980.3,1267.9 L1983.5,1268.1 L1986.7,1268.2 L1989.8,1268.4 L1993.0,1268.5 L1996.2,1268.7 L1999.4,1268.8 L2002.6,1268.9 L2005.7,1269.0 L2008.9,1269.2 L2012.1,1269.3 L2015.3,1269.4 L2018.5,1269.5 L2021.6,1269.6 L2024.8,1269.7 L2028.0,1269.8 L2031.2,1269.9 L2034.4,1270.0 L2037.6,1270.1 L2040.7,1270.2 L2043.9,1270.3 L2047.1,1270.4 L2050.3,1270.5 L2053.5,1270.6 L2056.6,1270.6 L2059.8,1270.7 L2063.0,1270.8 L2066.2,1270.9 L2069.4,1270.9 L2072.5,1271.0 L2075.7,1271.1 L2078.9,1271.1 L2082.1,1271.2 L2085.3,1271.2 L2088.4,1271.3 L2091.6,1271.3 L2094.8,1271.4 L2098.0,1271.4 L2101.2,1271.5 L2104.4,1271.5 L2107.5,1271.6 L2110.7,1271.6 L2113.9,1271.7 L2117.1,1271.7 L2120.3,1271.7 L2123.4,1271.8 L2126.6,1271.8 L2129.8,1271.8 L2133.0,1271.9 L2136.2,1271.9 L2139.3,1271.9 L2142.5,1272.0 L2145.7,1272.0 L2148.9,1272.0 L2152.1,1272.0 L2155.2,1272.1 L2158.4,1272.1 L2161.6,1272.1 L2164.8,1272.1 L2168.0,1272.1 L2171.2,1272.2 L2174.3,1272.2 L2177.5,1272.2 L2180.7,1272.2 L2183.9,1272.2 L2187.1,1272.2 L2190.2,1272.3 L2193.4,1272.3 L2196.6,1272.3 L2199.8,1272.3 L2203.0,1272.3 L2206.1,1272.3 L2209.3,1272.3" stroke="#0e0a64"/>
<path d="M469.3,1266.1 L472.5,1266.1 L475.7,1266.1 L478.9,1266.2 L482.0,1266.2 L485.2,1266.3 L488.4,1266.3 L491.6,1266.4 L494.8,1266.4 L497.9,1266.4 L501.1,1266.5 L504.3,1266.5 L507.5,1266.6 L510.7,1266.6 L513.9,1266.6 L517.0,1266.7 L520.2,1266.7 L523.4,1266.7 L526.6,1266.8 L529.8,1266.8 L532.9,1266.8 L536.1,1266.8 L539.3,1266.9 L542.5,1266.9 L545.7,1266.9 L548.8,1266.9 L552.0,1267.0 L555.2,1267.0 L558.4,1267.0 L561.6,1267.0 L564.7,1267.0 L567.9,1267.0 L571.1,1267.0 L574.3,1267.0 L577.5,1267.0 L580.7,1267.0 L583.8,1267.0 L587.0,1267.0 L590.2,1267.0 L593.4,1267.0 L596.6,1267.0 L599.7,1267.0 L602.9,1266.9 L606.1,1266.9 L609.3,1266.9 L612.5,1266.9 L615.6,1266.8 L618.8,1266.8 L622.0,1266.7 L625.2,1266.6 L628.4,1266.6 L631.5,1266.5 L634.7,1266.4 L637.9,1266.3 L641.1,1266.3 L644.3,1266.2 L647.5,1266.0 L650.6,1265.9 L653.8,1265.8 L657.0,1265.7 L660.2,1265.5 L663.4,1265.4 L666.5,1265.2 L669.7,1265.0 L672.9,1264.8 L676.1,1264.6 L679.3,1264.4 L682.4,1264.2 L685.6,1263.9 L688.8,1263.6 L692.0,1263.4 L695.2,1263.0 L698.3,1262.7 L701.5,1262.4 L704.7,1262.0 L707.9,1261.6 L711.1,1261.2 L714.3,1260.8 L717.4,1260.3 L720.6,1259.8 L723.8,1259.3 L727.0,1258.8 L730.2,1258.2 L733.3,1257.6 L736.5,1256.9 L739.7,1256.2 L742.9,1255.5 L746.1,1254.7 L749.2,1253.9 L752.4,1253.0 L755.6,1252.1 L758.8,1251.1 L762.0,1250.1 L765.2,1249.0 L768.3,1247.9 L771.5,1246.7 L774.7,1245.4 L777.9,1244.0 L781.1,1242.6 L784.2,1241.1 L787.4,1239.6 L790.6,1237.9 L793.8,1236.2 L797.0,1234.3 L800.1,1232.4 L803.3,1230.3 L806.5,1228.2 L809.7,1225.9 L812.9,1223.6 L816.0,1221.1 L819.2,1218.5 L822.4,1215.7 L825.6,1212.8 L828.8,1209.8 L832.0,1206.6 L835.1,1203.3 L838.3,1199.8 L841.5,1196.2 L844.7,1192.4 L847.9,1188.4 L851.0,1184.3 L854.2,1179.9 L857.4,1175.4 L860.6,1170.7 L863.8,1165.8 L866.9,1160.6 L870.1,1155.3 L873.3,1149.8 L876.5,1144.0 L879.7,1138.0 L882.8,1131.8 L886.0,1125.4 L889.2,1118.8 L892.4,1111.9 L895.6,1104.7 L898.8,1097.4 L901.9,1089.8 L905.1,1081.9 L908.3,1073.9 L911.5,1065.5 L914.7,1057.0 L917.8,1048.2 L921.0,1039.2 L924.2,1029.9 L927.4,1020.4 L930.6,1010.7 L933.7,1000.8 L936.9,990.7 L940.1,980.3 L943.3,969.8 L946.5,959.0 L949.6,948.1 L952.8,937.0 L956.0,925.7 L959.2,914.3 L962.4,902.8 L965.6,891.1 L968.7,879.3 L971.9,867.3 L975.1,855.3 L978.3,843.2 L981.5,831.1 L984.6,818.9 L987.8,806.6 L991.0,794.4 L994.2,782.1 L997.4,769.9 L1000.5,757.7 L1003.7,745.5 L1006.9,733.4 L1010.1,721.4 L1013.3,709.5 L1016.4,697.7 L1019.6,686.1 L1022.8,674.6 L1026.0,663.3 L1029.2,652.1 L1032.4,641.2 L1035.5,630.5 L1038.7,620.0 L1041.9,609.7 L1045.1,599.7 L1048.3,590.0 L1051.4,580.6 L1054.6,571.5 L1057.8,562.6 L1061.0,554.1 L1064.2,545.9 L1067.3,538.1 L1070.5,530.6 L1073.7,523.4 L1076.9,516.6 L1080.1,510.2 L1083.3,504.1 L1086.4,498.3 L1089.6,493.0 L1092.8,488.0 L1096.0,483.4 L1099.2,479.1 L1102.3,475.2 L1105.5,471.7 L1108.7,468.5 L1111.9,465.7 L1115.1,463.2 L1118.2,461.0 L1121.4,459.2 L1124.6,457.8 L1127.8,456.6 L1131.0,455.8 L1134.1,455.3 L1137.3,455.0 L1140.5,455.1 L1143.7,455.4 L1146.9,456.0 L1150.1,456.9 L1153.2,458.0 L1156.4,459.3 L1159.6,460.9 L1162.8,462.7 L1166.0,464.7 L1169.1,466.9 L1172.3,469.3 L1175.5,471.9 L1178.7,474.6 L1181.9,477.5 L1185.0,480.6 L1188.2,483.8 L1191.4,487.1 L1194.6,490.6 L1197.8,494.2 L1200.9,497.9 L1204.1,501.8 L1207.3,505.7 L1210.5,509.7 L1213.7,513.9 L1216.9,518.1 L1220.0,522.4 L1223.2,526.7 L1226.4,531.2 L1229.6,535.7 L1232.8,540.3 L1235.9,545.0 L1239.1,549.8 L1242.3,554.6 L1245.5,559.4 L1248.7,564.4 L1251.8,569.3 L1255.0,574.4 L1258.2,579.5 L1261.4,584.7 L1264.6,589.9 L1267.7,595.2 L1270.9,600.5 L1274.1,606.0 L1277.3,611.4 L1280.5,616.9 L1283.7,622.5 L1286.8,628.2 L1290.0,633.9 L1293.2,639.6 L1296.4,645.4 L1299.6,651.3 L1302.7,657.3 L1305.9,663.2 L1309.1,669.3 L1312.3,675.4 L1315.5,681.6 L1318.6,687.8 L1321.8,694.1 L1325.0,700.4 L1328.2,706.8 L1331.4,713.2 L1334.5,719.7 L1337.7,726.2 L1340.9,732.8 L1344.1,739.5 L1347.3,746.1 L1350.5,752.8 L1353.6,759.6 L1356.8,766.4 L1360.0,773.2 L1363.2,780.0 L1366.4,786.9 L1369.5,793.8 L1372.7,800.7 L1375.9,807.6 L1379.1,814.6 L1382.3,821.5 L1385.4,828.5 L1388.6,835.5 L1391.8,842.5 L1395.0,849.4 L1398.2,856.4 L1401.4,863.4 L1404.5,870.3 L1407.7,877.2 L1410.9,884.1 L1414.1,891.0 L1417.3,897.9 L1420.4,904.7 L1423.6,911.5 L1426.8,918.2 L1430.0,925.0 L1433.2,931.6 L1436.3,938.3 L1439.5,944.8 L1442.7,951.4 L1445.9,957.8 L1449.1,964.3 L1452.2,970.6 L1455.4,976.9 L1458.6,983.1 L1461.8,989.3 L1465.0,995.4 L1468.2,1001.4 L1471.3,1007.3 L1474.5,1013.2 L1477.7,1019.0 L1480.9,1024.7 L1484.1,1030.3 L1487.2,1035.9 L1490.4,1041.3 L1493.6,1046.7 L1496.8,1052.0 L1500.0,1057.2 L1503.1,1062.3 L1506.3,1067.3 L1509.5,1072.3 L1512.7,1077.1 L1515.9,1081.9 L1519.0,1086.5 L1522.2,1091.1 L1525.4,1095.6 L1528.6,1100.0 L1531.8,1104.3 L1535.0,1108.5 L1538.1,1112.6 L1541.3,1116.6 L1544.5,1120.6 L1547.7,1124.4 L1550.9,1128.2 L1554.0,1131.9 L1557.2,1135.5 L1560.4,1139.0 L1563.6,1142.4 L1566.8,1145.8 L1569.9,1149.0 L1573.1,1152.2 L1576.3,1155.3 L1579.5,1158.3 L1582.7,1161.2 L1585.8,1164.1 L1589.0,1166.9 L1592.2,1169.6 L1595.4,1172.2 L1598.6,1174.8 L1601.8,1177.3 L1604.9,1179.7 L1608.1,1182.0 L1611.3,1184.3 L1614.5,1186.6 L1617.7,1188.7 L1620.8,1190.8 L1624.0,1192.9 L1627.2,1194.9 L1630.4,1196.8 L1633.6,1198.6 L1636.7,1200.5 L1639.9,1202.2 L1643.1,1203.9 L1646.3,1205.6 L1649.5,1207.2 L1652.6,1208.8 L1655.8,1210.3 L1659.0,1211.8 L1662.2,1213.2 L1665.4,1214.6 L1668.6,1215.9 L1671.7,1217.2 L1674.9,1218.5 L1678.1,1219.8 L1681.3,1221.0 L1684.5,1222.1 L1687.6,1223.3 L1690.8,1224.4 L1694.0,1225.4 L1697.2,1226.5 L1700.4,1227.5 L1703.5,1228.5 L1706.7,1229.4 L1709.9,1230.4 L1713.1,1231.3 L1716.3,1232.2 L1719.5,1233.0 L1722.6,1233.9 L1725.8,1234.7 L1729.0,1235.5 L1732.2,1236.3 L1735.4,1237.0 L1738.5,1237.8 L1741.7,1238.5 L1744.9,1239.2 L1748.1,1239.9 L1751.3,1240.6 L1754.4,1241.3 L1757.6,1241.9 L1760.8,1242.6 L1764.0,1243.2 L1767.2,1243.8 L1770.3,1244.4 L1773.5,1245.0 L1776.7,1245.6 L1779.9,1246.1 L1783.1,1246.7 L1786.3,1247.2 L1789.4,1247.8 L1792.6,1248.3 L1795.8,1248.8 L1799.0,1249.3 L1802.2,1249.8 L1805.3,1250.3 L1808.5,1250.8 L1811.7,1251.3 L1814.9,1251.7 L1818.1,1252.2 L1821.2,1252.6 L1824.4,1253.1 L1827.6,1253.5 L1830.8,1253.9 L1834.0,1254.4 L1837.1,1254.8 L1840.3,1255.2 L1843.5,1255.6 L1846.7,1256.0 L1849.9,1256.4 L1853.1,1256.8 L1856.2,1257.1 L1859.4,1257.5 L1862.6,1257.9 L1865.8,1258.2 L1869.0,1258.6 L1872.1,1258.9 L1875.3,1259.3 L1878.5,1259.6 L1881.7,1259.9 L1884.9,1260.3 L1888.0,1260.6 L1891.2,1260.9 L1894.4,1261.2 L1897.6,1261.5 L1900.8,1261.8 L1903.9,1262.1 L1907.1,1262.4 L1910.3,1262.6 L1913.5,1262.9 L1916.7,1263.2 L1919.9,1263.4 L1923.0,1263.7 L1926.2,1264.0 L1929.4,1264.2 L1932.6,1264.4 L1935.8,1264.7 L1938.9,1264.9 L1942.1,1265.1 L1945.3,1265.4 L1948.5,1265.6 L1951.7,1265.8 L1954.8,1266.0 L1958.0,1266.2 L1961.2,1266.4 L1964.4,1266.6 L1967.6,1266.8 L1970.7,1267.0 L1973.9,1267.2 L1977.1,1267.3 L1980.3,1267.5 L1983.5,1267.7 L1986.7,1267.8 L1989.8,1268.0 L1993.0,1268.1 L1996.2,1268.3 L1999.4,1268.4 L2002.6,1268.6 L2005.7,1268.7 L2008.9,1268.9 L2012.1,1269.0 L2015.3,1269.1 L2018.5,1269.2 L2021.6,1269.4 L2024.8,1269.5 L2028.0,1269.6 L2031.2,1269.7 L2034.4,1269.8 L2037.6,1269.9 L2040.7,1270.0 L2043.9,1270.1 L2047.1,1270.2 L2050.3,1270.3 L2053.5,1270.4 L2056.6,1270.5 L2059.8,1270.5 L2063.0,1270.6 L2066.2,1270.7 L2069.4,1270.8 L2072.5,1270.8 L2075.7,1270.9 L2078.9,1271.0 L2082.1,1271.0 L2085.3,1271.1 L2088.4,1271.2 L2091.6,1271.2 L2094.8,1271.3 L2098.0,1271.3 L2101.2,1271.4 L2104.4,1271.4 L2107.5,1271.5 L2110.7,1271.5 L2113.9,1271.6 L2117.1,1271.6 L2120.3,1271.7 L2123.4,1271.7 L2126.6,1271.7 L2129.8,1271.8 L2133.0,1271.8 L2136.2,1271.8 L2139.3,1271.9 L2142.5,1271.9 L2145.7,1271.9 L2148.9,1272.0 L2152.1,1272.0 L2155.2,1272.0 L2158.4,1272.0 L2161.6,1272.1 L2164.8,1272.1 L2168.0,1272.1 L2171.2,1272.1 L2174.3,1272.1 L2177.5,1272.2 L2180.7,1272.2 L2183.9,1272.2 L2187.1,1272.2 L2190.2,1272.2 L2193.4,1272.2 L2196.6,1272.3 L2199.8,1272.3 L2203.0,1272.3 L2206.1,1272.3 L2209.3,1272.3" stroke="#6e0f6e"/>
<path d="M469.3,1265.3 L472.5,1265.4 L475.7,1265.4 L478.9,1265.5 L482.0,1265.5 L485.2,1265.6 L488.4,1265.6 L491.6,1265.7 L494.8,1265.7 L497.9,1265.7 L501.1,1265.8 L504.3,1265.8 L507.5,1265.9 L510.7,1265.9 L513.9,1266.0 L517.0,1266.0 L520.2,1266.0 L523.4,1266.1 L526.6,1266.1 L529.8,1266.1 L532.9,1266.2 L536.1,1266.2 L539.3,1266.2 L542.5,1266.2 L545.7,1266.3 L548.8,1266.3 L552.0,1266.3 L555.2,1266.3 L558.4,1266.4 L561.6,1266.4 L564.7,1266.4 L567.9,1266.4 L571.1,1266.4 L574.3,1266.4 L577.5,1266.4 L580.7,1266.4 L583.8,1266.4 L587.0,1266.4 L590.2,1266.4 L593.4,1266.4 L596.6,1266.3 L599.7,1266.3 L602.9,1266.3 L606.1,1266.3 L609.3,1266.2 L612.5,1266.2 L615.6,1266.1 L618.8,1266.1 L622.0,1266.0 L625.2,1265.9 L628.4,1265.9 L631.5,1265.8 L634.7,1265.7 L637.9,1265.6 L641.1,1265.5 L644.3,1265.4 L647.5,1265.3 L650.6,1265.1 L653.8,1265.0 L657.0,1264.8 L660.2,1264.7 L663.4,1264.5 L666.5,1264.3 L669.7,1264.1 L672.9,1263.9 L676.1,1263.6 L679.3,1263.4 L682.4,1263.1 L685.6,1262.8 L688.8,1262.5 L692.0,1262.2 L695.2,1261.9 L698.3,1261.5 L701.5,1261.1 L704.7,1260.7 L707.9,1260.2 L711.1,1259.8 L714.3,1259.3 L717.4,1258.8 L720.6,1258.2 L723.8,1257.6 L727.0,1257.0 L730.2,1256.3 L733.3,1255.6 L736.5,1254.9 L739.7,1254.1 L742.9,1253.3 L746.1,1252.4 L749.2,1251.5 L752.4,1250.5 L755.6,1249.4 L758.8,1248.3 L762.0,1247.2 L765.2,1245.9 L768.3,1244.6 L771.5,1243.3 L774.7,1241.8 L777.9,1240.3 L781.1,1238.7 L784.2,1237.0 L787.4,1235.2 L790.6,1233.4 L793.8,1231.4 L797.0,1229.3 L800.1,1227.1 L803.3,1224.8 L806.5,1222.4 L809.7,1219.8 L812.9,1217.1 L816.0,1214.3 L819.2,1211.3 L822.4,1208.2 L825.6,1205.0 L828.8,1201.5 L832.0,1197.9 L835.1,1194.2 L838.3,1190.2 L841.5,1186.1 L844.7,1181.8 L847.9,1177.3 L851.0,1172.6 L854.2,1167.7 L857.4,1162.6 L860.6,1157.2 L863.8,1151.6 L866.9,1145.8 L870.1,1139.8 L873.3,1133.5 L876.5,1127.0 L879.7,1120.2 L882.8,1113.2 L886.0,1105.9 L889.2,1098.4 L892.4,1090.6 L895.6,1082.5 L898.8,1074.2 L901.9,1065.6 L905.1,1056.7 L908.3,1047.5 L911.5,1038.1 L914.7,1028.4 L917.8,1018.5 L921.0,1008.2 L924.2,997.8 L927.4,987.0 L930.6,976.0 L933.7,964.8 L936.9,953.3 L940.1,941.6 L943.3,929.6 L946.5,917.5 L949.6,905.1 L952.8,892.5 L956.0,879.7 L959.2,866.8 L962.4,853.7 L965.6,840.5 L968.7,827.1 L971.9,813.6 L975.1,800.0 L978.3,786.3 L981.5,772.5 L984.6,758.7 L987.8,744.8 L991.0,730.9 L994.2,717.0 L997.4,703.2 L1000.5,689.4 L1003.7,675.6 L1006.9,661.9 L1010.1,648.3 L1013.3,634.8 L1016.4,621.5 L1019.6,608.3 L1022.8,595.3 L1026.0,582.4 L1029.2,569.8 L1032.4,557.4 L1035.5,545.3 L1038.7,533.4 L1041.9,521.8 L1045.1,510.5 L1048.3,499.5 L1051.4,488.8 L1054.6,478.4 L1057.8,468.4 L1061.0,458.8 L1064.2,449.5 L1067.3,440.6 L1070.5,432.1 L1073.7,424.0 L1076.9,416.3 L1080.1,409.0 L1083.3,402.1 L1086.4,395.6 L1089.6,389.5 L1092.8,383.9 L1096.0,378.6 L1099.2,373.8 L1102.3,369.4 L1105.5,365.4 L1108.7,361.8 L1111.9,358.6 L1115.1,355.8 L1118.2,353.3 L1121.4,351.3 L1124.6,349.6 L1127.8,348.3 L1131.0,347.4 L1134.1,346.8 L1137.3,346.5 L1140.5,346.6 L1143.7,347.0 L1146.9,347.6 L1150.1,348.6 L1153.2,349.9 L1156.4,351.4 L1159.6,353.2 L1162.8,355.2 L1166.0,357.5 L1169.1,360.0 L1172.3,362.7 L1175.5,365.6 L1178.7,368.7 L1181.9,372.0 L1185.0,375.5 L1188.2,379.1 L1191.4,382.9 L1194.6,386.8 L1197.8,390.9 L1200.9,395.1 L1204.1,399.5 L1207.3,403.9 L1210.5,408.5 L1213.7,413.2 L1216.9,417.9 L1220.0,422.8 L1223.2,427.8 L1226.4,432.8 L1229.6,438.0 L1232.8,443.2 L1235.9,448.5 L1239.1,453.8 L1242.3,459.3 L1245.5,464.8 L1248.7,470.4 L1251.8,476.0 L1255.0,481.7 L1258.2,487.5 L1261.4,493.4 L1264.6,499.3 L1267.7,505.3 L1270.9,511.4 L1274.1,517.5 L1277.3,523.7 L1280.5,529.9 L1283.7,536.2 L1286.8,542.6 L1290.0,549.1 L1293.2,555.6 L1296.4,562.2 L1299.6,568.9 L1302.7,575.6 L1305.9,582.4 L1309.1,589.2 L1312.3,596.2 L1315.5,603.1 L1318.6,610.2 L1321.8,617.3 L1325.0,624.5 L1328.2,631.7 L1331.4,639.0 L1334.5,646.3 L1337.7,653.7 L1340.9,661.2 L1344.1,668.7 L1347.3,676.3 L1350.5,683.9 L1353.6,691.5 L1356.8,699.2 L1360.0,706.9 L1363.2,714.7 L1366.4,722.4 L1369.5,730.2 L1372.7,738.1 L1375.9,745.9 L1379.1,753.8 L1382.3,761.7 L1385.4,769.6 L1388.6,777.5 L1391.8,785.4 L1395.0,793.3 L1398.2,801.2 L1401.4,809.0 L1404.5,816.9 L1407.7,824.8 L1410.9,832.6 L1414.1,840.4 L1417.3,848.1 L1420.4,855.9 L1423.6,863.6 L1426.8,871.2 L1430.0,878.8 L1433.2,886.4 L1436.3,893.9 L1439.5,901.4 L1442.7,908.7 L1445.9,916.1 L1449.1,923.3 L1452.2,930.5 L1455.4,937.7 L1458.6,944.7 L1461.8,951.7 L1465.0,958.6 L1468.2,965.4 L1471.3,972.1 L1474.5,978.8 L1477.7,985.3 L1480.9,991.8 L1484.1,998.2 L1487.2,1004.4 L1490.4,1010.6 L1493.6,1016.7 L1496.8,1022.7 L1500.0,1028.6 L1503.1,1034.4 L1506.3,1040.1 L1509.5,1045.7 L1512.7,1051.2 L1515.9,1056.5 L1519.0,1061.8 L1522.2,1067.0 L1525.4,1072.1 L1528.6,1077.1 L1531.8,1081.9 L1535.0,1086.7 L1538.1,1091.4 L1541.3,1096.0 L1544.5,1100.4 L1547.7,1104.8 L1550.9,1109.1 L1554.0,1113.2 L1557.2,1117.3 L1560.4,1121.3 L1563.6,1125.1 L1566.8,1128.9 L1569.9,1132.6 L1573.1,1136.2 L1576.3,1139.7 L1579.5,1143.1 L1582.7,1146.5 L1585.8,1149.7 L1589.0,1152.8 L1592.2,1155.9 L1595.4,1158.9 L1598.6,1161.8 L1601.8,1164.6 L1604.9,1167.4 L1608.1,1170.0 L1611.3,1172.6 L1614.5,1175.2 L1617.7,1177.6 L1620.8,1180.0 L1624.0,1182.3 L1627.2,1184.5 L1630.4,1186.7 L1633.6,1188.8 L1636.7,1190.9 L1639.9,1192.9 L1643.1,1194.8 L1646.3,1196.7 L1649.5,1198.5 L1652.6,1200.3 L1655.8,1202.0 L1659.0,1203.7 L1662.2,1205.3 L1665.4,1206.9 L1668.6,1208.4 L1671.7,1209.9 L1674.9,1211.3 L1678.1,1212.7 L1681.3,1214.1 L1684.5,1215.4 L1687.6,1216.7 L1690.8,1218.0 L1694.0,1219.2 L1697.2,1220.4 L1700.4,1221.5 L1703.5,1222.6 L1706.7,1223.7 L1709.9,1224.8 L1713.1,1225.8 L1716.3,1226.8 L1719.5,1227.8 L1722.6,1228.7 L1725.8,1229.7 L1729.0,1230.6 L1732.2,1231.5 L1735.4,1232.3 L1738.5,1233.2 L1741.7,1234.0 L1744.9,1234.8 L1748.1,1235.6 L1751.3,1236.4 L1754.4,1237.1 L1757.6,1237.9 L1760.8,1238.6 L1764.0,1239.3 L1767.2,1240.0 L1770.3,1240.7 L1773.5,1241.3 L1776.7,1242.0 L1779.9,1242.6 L1783.1,1243.3 L1786.3,1243.9 L1789.4,1244.5 L1792.6,1245.1 L1795.8,1245.7 L1799.0,1246.2 L1802.2,1246.8 L1805.3,1247.4 L1808.5,1247.9 L1811.7,1248.4 L1814.9,1249.0 L1818.1,1249.5 L1821.2,1250.0 L1824.4,1250.5 L1827.6,1251.0 L1830.8,1251.5 L1834.0,1252.0 L1837.1,1252.4 L1840.3,1252.9 L1843.5,1253.3 L1846.7,1253.8 L1849.9,1254.2 L1853.1,1254.7 L1856.2,1255.1 L1859.4,1255.5 L1862.6,1255.9 L1865.8,1256.3 L1869.0,1256.7 L1872.1,1257.1 L1875.3,1257.5 L1878.5,1257.9 L1881.7,1258.3 L1884.9,1258.6 L1888.0,1259.0 L1891.2,1259.3 L1894.4,1259.7 L1897.6,1260.0 L1900.8,1260.4 L1903.9,1260.7 L1907.1,1261.0 L1910.3,1261.3 L1913.5,1261.6 L1916.7,1261.9 L1919.9,1262.2 L1923.0,1262.5 L1926.2,1262.8 L1929.4,1263.1 L1932.6,1263.4 L1935.8,1263.6 L1938.9,1263.9 L1942.1,1264.2 L1945.3,1264.4 L1948.5,1264.7 L1951.7,1264.9 L1954.8,1265.1 L1958.0,1265.4 L1961.2,1265.6 L1964.4,1265.8 L1967.6,1266.0 L1970.7,1266.2 L1973.9,1266.4 L1977.1,1266.6 L1980.3,1266.8 L1983.5,1267.0 L1986.7,1267.2 L1989.8,1267.4 L1993.0,1267.6 L1996.2,1267.7 L1999.4,1267.9 L2002.6,1268.1 L2005.7,1268.2 L2008.9,1268.4 L2012.1,1268.5 L2015.3,1268.7 L2018.5,1268.8 L2021.6,1268.9 L2024.8,1269.1 L2028.0,1269.2 L2031.2,1269.3 L2034.4,1269.4 L2037.6,1269.6 L2040.7,1269.7 L2043.9,1269.8 L2047.1,1269.9 L2050.3,1270.0 L2053.5,1270.1 L2056.6,1270.2 L2059.8,1270.3 L2063.0,1270.4 L2066.2,1270.4 L2069.4,1270.5 L2072.5,1270.6 L2075.7,1270.7 L2078.9,1270.8 L2082.1,1270.8 L2085.3,1270.9 L2088.4,1271.0 L2091.6,1271.0 L2094.8,1271.1 L2098.0,1271.2 L2101.2,1271.2 L2104.4,1271.3 L2107.5,1271.3 L2110.7,1271.4 L2113.9,1271.4 L2117.1,1271.5 L2120.3,1271.5 L2123.4,1271.6 L2126.6,1271.6 L2129.8,1271.7 L2133.0,1271.7 L2136.2,1271.7 L2139.3,1271.8 L2142.5,1271.8 L2145.7,1271.8 L2148.9,1271.9 L2152.1,1271.9 L2155.2,1271.9 L2158.4,1272.0 L2161.6,1272.0 L2164.8,1272.0 L2168.0,1272.0 L2171.2,1272.1 L2174.3,1272.1 L2177.5,1272.1 L2180.7,1272.1 L2183.9,1272.1 L2187.1,1272.2 L2190.2,1272.2 L2193.4,1272.2 L2196.6,1272.2 L2199.8,1272.2 L2203.0,1272.2 L2206.1,1272.3 L2209.3,1272.3" stroke="#730a0f"/>
<path d="M469.3,1264.7 L472.5,1264.7 L475.7,1264.8 L478.9,1264.8 L482.0,1264.9 L485.2,1264.9 L488.4,1265.0 L491.6,1265.0 L494.8,1265.1 L497.9,1265.1 L501.1,1265.2 L504.3,1265.2 L507.5,1265.3 L510.7,1265.3 L513.9,1265.4 L517.0,1265.4 L520.2,1265.5 L523.4,1265.5 L526.6,1265.5 L529.8,1265.6 L532.9,1265.6 L536.1,1265.6 L539.3,1265.7 L542.5,1265.7 L545.7,1265.7 L548.8,1265.7 L552.0,1265.8 L555.2,1265.8 L558.4,1265.8 L561.6,1265.8 L564.7,1265.8 L567.9,1265.8 L571.1,1265.8 L574.3,1265.9 L577.5,1265.9 L580.7,1265.9 L583.8,1265.8 L587.0,1265.8 L590.2,1265.8 L593.4,1265.8 L596.6,1265.8 L599.7,1265.8 L602.9,1265.7 L606.1,1265.7 L609.3,1265.6 L612.5,1265.6 L615.6,1265.5 L618.8,1265.5 L622.0,1265.4 L625.2,1265.3 L628.4,1265.3 L631.5,1265.2 L634.7,1265.1 L637.9,1265.0 L641.1,1264.8 L644.3,1264.7 L647.5,1264.6 L650.6,1264.4 L653.8,1264.3 L657.0,1264.1 L660.2,1263.9 L663.4,1263.7 L666.5,1263.5 L669.7,1263.3 L672.9,1263.0 L676.1,1262.8 L679.3,1262.5 L682.4,1262.2 L685.6,1261.9 L688.8,1261.6 L692.0,1261.2 L695.2,1260.8 L698.3,1260.4 L701.5,1260.0 L704.7,1259.5 L707.9,1259.1 L711.1,1258.5 L714.3,1258.0 L717.4,1257.4 L720.6,1256.8 L723.8,1256.1 L727.0,1255.5 L730.2,1254.7 L733.3,1254.0 L736.5,1253.1 L739.7,1252.3 L742.9,1251.4 L746.1,1250.4 L749.2,1249.4 L752.4,1248.3 L755.6,1247.1 L758.8,1245.9 L762.0,1244.6 L765.2,1243.3 L768.3,1241.9 L771.5,1240.4 L774.7,1238.8 L777.9,1237.1 L781.1,1235.3 L784.2,1233.5 L787.4,1231.5 L790.6,1229.4 L793.8,1227.3 L797.0,1225.0 L800.1,1222.5 L803.3,1220.0 L806.5,1217.3 L809.7,1214.5 L812.9,1211.6 L816.0,1208.4 L819.2,1205.2 L822.4,1201.8 L825.6,1198.2 L828.8,1194.4 L832.0,1190.4 L835.1,1186.3 L838.3,1182.0 L841.5,1177.4 L844.7,1172.7 L847.9,1167.7 L851.0,1162.5 L854.2,1157.1 L857.4,1151.5 L860.6,1145.6 L863.8,1139.5 L866.9,1133.1 L870.1,1126.4 L873.3,1119.5 L876.5,1112.3 L879.7,1104.9 L882.8,1097.1 L886.0,1089.1 L889.2,1080.8 L892.4,1072.2 L895.6,1063.3 L898.8,1054.2 L901.9,1044.7 L905.1,1034.9 L908.3,1024.8 L911.5,1014.5 L914.7,1003.8 L917.8,992.8 L921.0,981.6 L924.2,970.0 L927.4,958.2 L930.6,946.1 L933.7,933.7 L936.9,921.1 L940.1,908.2 L943.3,895.0 L946.5,881.6 L949.6,868.0 L952.8,854.2 L956.0,840.1 L959.2,825.9 L962.4,811.4 L965.6,796.9 L968.7,782.1 L971.9,767.2 L975.1,752.3 L978.3,737.2 L981.5,722.0 L984.6,706.8 L987.8,691.5 L991.0,676.3 L994.2,661.0 L997.4,645.7 L1000.5,630.5 L1003.7,615.3 L1006.9,600.3 L1010.1,585.3 L1013.3,570.4 L1016.4,555.7 L1019.6,541.2 L1022.8,526.9 L1026.0,512.8 L1029.2,498.9 L1032.4,485.2 L1035.5,471.8 L1038.7,458.8 L1041.9,446.0 L1045.1,433.5 L1048.3,421.4 L1051.4,409.6 L1054.6,398.3 L1057.8,387.2 L1061.0,376.6 L1064.2,366.4 L1067.3,356.6 L1070.5,347.3 L1073.7,338.3 L1076.9,329.8 L1080.1,321.8 L1083.3,314.2 L1086.4,307.1 L1089.6,300.4 L1092.8,294.1 L1096.0,288.4 L1099.2,283.1 L1102.3,278.2 L1105.5,273.8 L1108.7,269.8 L1111.9,266.3 L1115.1,263.2 L1118.2,260.5 L1121.4,258.3 L1124.6,256.5 L1127.8,255.0 L1131.0,254.0 L1134.1,253.3 L1137.3,253.0 L1140.5,253.1 L1143.7,253.5 L1146.9,254.2 L1150.1,255.3 L1153.2,256.7 L1156.4,258.4 L1159.6,260.3 L1162.8,262.6 L1166.0,265.1 L1169.1,267.8 L1172.3,270.8 L1175.5,274.0 L1178.7,277.4 L1181.9,281.1 L1185.0,284.9 L1188.2,288.9 L1191.4,293.1 L1194.6,297.4 L1197.8,301.9 L1200.9,306.5 L1204.1,311.3 L1207.3,316.2 L1210.5,321.2 L1213.7,326.4 L1216.9,331.6 L1220.0,337.0 L1223.2,342.5 L1226.4,348.0 L1229.6,353.7 L1232.8,359.4 L1235.9,365.3 L1239.1,371.2 L1242.3,377.2 L1245.5,383.2 L1248.7,389.4 L1251.8,395.6 L1255.0,401.9 L1258.2,408.3 L1261.4,414.7 L1264.6,421.2 L1267.7,427.8 L1270.9,434.5 L1274.1,441.2 L1277.3,448.1 L1280.5,454.9 L1283.7,461.9 L1286.8,468.9 L1290.0,476.0 L1293.2,483.2 L1296.4,490.5 L1299.6,497.8 L1302.7,505.2 L1305.9,512.7 L1309.1,520.2 L1312.3,527.9 L1315.5,535.5 L1318.6,543.3 L1321.8,551.1 L1325.0,559.0 L1328.2,567.0 L1331.4,575.0 L1334.5,583.1 L1337.7,591.3 L1340.9,599.5 L1344.1,607.7 L1347.3,616.0 L1350.5,624.4 L1353.6,632.8 L1356.8,641.3 L1360.0,649.8 L1363.2,658.3 L1366.4,666.9 L1369.5,675.5 L1372.7,684.1 L1375.9,692.8 L1379.1,701.4 L1382.3,710.1 L1385.4,718.8 L1388.6,727.5 L1391.8,736.2 L1395.0,744.9 L1398.2,753.6 L1401.4,762.2 L1404.5,770.9 L1407.7,779.5 L1410.9,788.2 L1414.1,796.7 L1417.3,805.3 L1420.4,813.8 L1423.6,822.3 L1426.8,830.7 L1430.0,839.1 L1433.2,847.4 L1436.3,855.7 L1439.5,863.9 L1442.7,872.0 L1445.9,880.1 L1449.1,888.1 L1452.2,896.0 L1455.4,903.8 L1458.6,911.6 L1461.8,919.3 L1465.0,926.9 L1468.2,934.4 L1471.3,941.8 L1474.5,949.1 L1477.7,956.3 L1480.9,963.4 L1484.1,970.5 L1487.2,977.4 L1490.4,984.2 L1493.6,990.9 L1496.8,997.5 L1500.0,1004.0 L1503.1,1010.3 L1506.3,1016.6 L1509.5,1022.8 L1512.7,1028.8 L1515.9,1034.7 L1519.0,1040.6 L1522.2,1046.3 L1525.4,1051.9 L1528.6,1057.3 L1531.8,1062.7 L1535.0,1068.0 L1538.1,1073.1 L1541.3,1078.1 L1544.5,1083.0 L1547.7,1087.9 L1550.9,1092.5 L1554.0,1097.1 L1557.2,1101.6 L1560.4,1106.0 L1563.6,1110.3 L1566.8,1114.4 L1569.9,1118.5 L1573.1,1122.4 L1576.3,1126.3 L1579.5,1130.1 L1582.7,1133.7 L1585.8,1137.3 L1589.0,1140.8 L1592.2,1144.1 L1595.4,1147.4 L1598.6,1150.6 L1601.8,1153.7 L1604.9,1156.7 L1608.1,1159.7 L1611.3,1162.5 L1614.5,1165.3 L1617.7,1168.0 L1620.8,1170.6 L1624.0,1173.2 L1627.2,1175.7 L1630.4,1178.1 L1633.6,1180.4 L1636.7,1182.6 L1639.9,1184.8 L1643.1,1187.0 L1646.3,1189.0 L1649.5,1191.1 L1652.6,1193.0 L1655.8,1194.9 L1659.0,1196.7 L1662.2,1198.5 L1665.4,1200.3 L1668.6,1201.9 L1671.7,1203.6 L1674.9,1205.2 L1678.1,1206.7 L1681.3,1208.2 L1684.5,1209.7 L1687.6,1211.1 L1690.8,1212.4 L1694.0,1213.8 L1697.2,1215.1 L1700.4,1216.4 L1703.5,1217.6 L1706.7,1218.8 L1709.9,1219.9 L1713.1,1221.1 L1716.3,1222.2 L1719.5,1223.3 L1722.6,1224.3 L1725.8,1225.3 L1729.0,1226.3 L1732.2,1227.3 L1735.4,1228.3 L1738.5,1229.2 L1741.7,1230.1 L1744.9,1231.0 L1748.1,1231.9 L1751.3,1232.7 L1754.4,1233.6 L1757.6,1234.4 L1760.8,1235.2 L1764.0,1235.9 L1767.2,1236.7 L1770.3,1237.5 L1773.5,1238.2 L1776.7,1238.9 L1779.9,1239.6 L1783.1,1240.3 L1786.3,1241.0 L1789.4,1241.7 L1792.6,1242.3 L1795.8,1243.0 L1799.0,1243.6 L1802.2,1244.2 L1805.3,1244.8 L1808.5,1245.4 L1811.7,1246.0 L1814.9,1246.6 L1818.1,1247.2 L1821.2,1247.7 L1824.4,1248.3 L1827.6,1248.8 L1830.8,1249.3 L1834.0,1249.9 L1837.1,1250.4 L1840.3,1250.9 L1843.5,1251.4 L1846.7,1251.9 L1849.9,1252.4 L1853.1,1252.9 L1856.2,1253.3 L1859.4,1253.8 L1862.6,1254.2 L1865.8,1254.7 L1869.0,1255.1 L1872.1,1255.6 L1875.3,1256.0 L1878.5,1256.4 L1881.7,1256.8 L1884.9,1257.2 L1888.0,1257.6 L1891.2,1258.0 L1894.4,1258.4 L1897.6,1258.8 L1900.8,1259.1 L1903.9,1259.5 L1907.1,1259.8 L1910.3,1260.2 L1913.5,1260.5 L1916.7,1260.9 L1919.9,1261.2 L1923.0,1261.5 L1926.2,1261.8 L1929.4,1262.1 L1932.6,1262.4 L1935.8,1262.7 L1938.9,1263.0 L1942.1,1263.3 L1945.3,1263.6 L1948.5,1263.9 L1951.7,1264.1 L1954.8,1264.4 L1958.0,1264.6 L1961.2,1264.9 L1964.4,1265.1 L1967.6,1265.4 L1970.7,1265.6 L1973.9,1265.8 L1977.1,1266.0 L1980.3,1266.2 L1983.5,1266.5 L1986.7,1266.7 L1989.8,1266.9 L1993.0,1267.1 L1996.2,1267.2 L1999.4,1267.4 L2002.6,1267.6 L2005.7,1267.8 L2008.9,1267.9 L2012.1,1268.1 L2015.3,1268.3 L2018.5,1268.4 L2021.6,1268.6 L2024.8,1268.7 L2028.0,1268.8 L2031.2,1269.0 L2034.4,1269.1 L2037.6,1269.2 L2040.7,1269.4 L2043.9,1269.5 L2047.1,1269.6 L2050.3,1269.7 L2053.5,1269.8 L2056.6,1269.9 L2059.8,1270.0 L2063.0,1270.1 L2066.2,1270.2 L2069.4,1270.3 L2072.5,1270.4 L2075.7,1270.5 L2078.9,1270.6 L2082.1,1270.7 L2085.3,1270.7 L2088.4,1270.8 L2091.6,1270.9 L2094.8,1271.0 L2098.0,1271.0 L2101.2,1271.1 L2104.4,1271.1 L2107.5,1271.2 L2110.7,1271.3 L2113.9,1271.3 L2117.1,1271.4 L2120.3,1271.4 L2123.4,1271.5 L2126.6,1271.5 L2129.8,1271.6 L2133.0,1271.6 L2136.2,1271.6 L2139.3,1271.7 L2142.5,1271.7 L2145.7,1271.8 L2148.9,1271.8 L2152.1,1271.8 L2155.2,1271.9 L2158.4,1271.9 L2161.6,1271.9 L2164.8,1272.0 L2168.0,1272.0 L2171.2,1272.0 L2174.3,1272.0 L2177.5,1272.1 L2180.7,1272.1 L2183.9,1272.1 L2187.1,1272.1 L2190.2,1272.1 L2193.4,1272.2 L2196.6,1272.2 L2199.8,1272.2 L2203.0,1272.2 L2206.1,1272.2 L2209.3,1272.2" stroke="#147d14"/>
<path d="M469.3,1264.2 L472.5,1264.3 L475.7,1264.3 L478.9,1264.4 L482.0,1264.4 L485.2,1264.5 L488.4,1264.5 L491.6,1264.6 L494.8,1264.7 L497.9,1264.7 L501.1,1264.8 L504.3,1264.8 L507.5,1264.9 L510.7,1264.9 L513.9,1264.9 L517.0,1265.0 L520.2,1265.0 L523.4,1265.1 L526.6,1265.1 L529.8,1265.1 L532.9,1265.2 L536.1,1265.2 L539.3,1265.3 L542.5,1265.3 L545.7,1265.3 L548.8,1265.3 L552.0,1265.4 L555.2,1265.4 L558.4,1265.4 L561.6,1265.4 L564.7,1265.4 L567.9,1265.4 L571.1,1265.4 L574.3,1265.5 L577.5,1265.5 L580.7,1265.5 L583.8,1265.4 L587.0,1265.4 L590.2,1265.4 L593.4,1265.4 L596.6,1265.4 L599.7,1265.3 L602.9,1265.3 L606.1,1265.3 L609.3,1265.2 L612.5,1265.2 L615.6,1265.1 L618.8,1265.1 L622.0,1265.0 L625.2,1264.9 L628.4,1264.8 L631.5,1264.7 L634.7,1264.6 L637.9,1264.5 L641.1,1264.4 L644.3,1264.2 L647.5,1264.1 L650.6,1263.9 L653.8,1263.8 L657.0,1263.6 L660.2,1263.4 L663.4,1263.2 L666.5,1262.9 L669.7,1262.7 L672.9,1262.4 L676.1,1262.2 L679.3,1261.9 L682.4,1261.6 L685.6,1261.2 L688.8,1260.9 L692.0,1260.5 L695.2,1260.1 L698.3,1259.6 L701.5,1259.2 L704.7,1258.7 L707.9,1258.2 L711.1,1257.6 L714.3,1257.1 L717.4,1256.4 L720.6,1255.8 L723.8,1255.1 L727.0,1254.4 L730.2,1253.6 L733.3,1252.7 L736.5,1251.9 L739.7,1251.0 L742.9,1250.0 L746.1,1248.9 L749.2,1247.8 L752.4,1246.7 L755.6,1245.5 L758.8,1244.2 L762.0,1242.8 L765.2,1241.4 L768.3,1239.9 L771.5,1238.2 L774.7,1236.6 L777.9,1234.8 L781.1,1232.9 L784.2,1230.9 L787.4,1228.8 L790.6,1226.6 L793.8,1224.3 L797.0,1221.8 L800.1,1219.2 L803.3,1216.5 L806.5,1213.7 L809.7,1210.7 L812.9,1207.5 L816.0,1204.2 L819.2,1200.7 L822.4,1197.1 L825.6,1193.2 L828.8,1189.2 L832.0,1185.0 L835.1,1180.6 L838.3,1175.9 L841.5,1171.1 L844.7,1166.0 L847.9,1160.7 L851.0,1155.2 L854.2,1149.4 L857.4,1143.4 L860.6,1137.1 L863.8,1130.6 L866.9,1123.8 L870.1,1116.7 L873.3,1109.3 L876.5,1101.7 L879.7,1093.7 L882.8,1085.5 L886.0,1076.9 L889.2,1068.1 L892.4,1058.9 L895.6,1049.4 L898.8,1039.6 L901.9,1029.5 L905.1,1019.1 L908.3,1008.3 L911.5,997.3 L914.7,985.9 L917.8,974.2 L921.0,962.2 L924.2,949.9 L927.4,937.3 L930.6,924.3 L933.7,911.1 L936.9,897.6 L940.1,883.9 L943.3,869.8 L946.5,855.6 L949.6,841.0 L952.8,826.3 L956.0,811.3 L959.2,796.1 L962.4,780.7 L965.6,765.1 L968.7,749.4 L971.9,733.6 L975.1,717.6 L978.3,701.5 L981.5,685.3 L984.6,669.1 L987.8,652.8 L991.0,636.5 L994.2,620.2 L997.4,603.9 L1000.5,587.7 L1003.7,571.5 L1006.9,555.4 L1010.1,539.5 L1013.3,523.6 L1016.4,507.9 L1019.6,492.4 L1022.8,477.2 L1026.0,462.1 L1029.2,447.3 L1032.4,432.7 L1035.5,418.4 L1038.7,404.5 L1041.9,390.9 L1045.1,377.6 L1048.3,364.6 L1051.4,352.1 L1054.6,339.9 L1057.8,328.2 L1061.0,316.9 L1064.2,306.0 L1067.3,295.5 L1070.5,285.6 L1073.7,276.0 L1076.9,267.0 L1080.1,258.4 L1083.3,250.3 L1086.4,242.7 L1089.6,235.5 L1092.8,228.9 L1096.0,222.7 L1099.2,217.1 L1102.3,211.9 L1105.5,207.2 L1108.7,202.9 L1111.9,199.2 L1115.1,195.9 L1118.2,193.0 L1121.4,190.6 L1124.6,188.7 L1127.8,187.2 L1131.0,186.0 L1134.1,185.3 L1137.3,185.0 L1140.5,185.1 L1143.7,185.5 L1146.9,186.3 L1150.1,187.5 L1153.2,188.9 L1156.4,190.7 L1159.6,192.8 L1162.8,195.2 L1166.0,197.9 L1169.1,200.8 L1172.3,204.0 L1175.5,207.4 L1178.7,211.1 L1181.9,214.9 L1185.0,219.0 L1188.2,223.3 L1191.4,227.7 L1194.6,232.4 L1197.8,237.2 L1200.9,242.1 L1204.1,247.2 L1207.3,252.4 L1210.5,257.8 L1213.7,263.3 L1216.9,268.9 L1220.0,274.6 L1223.2,280.4 L1226.4,286.4 L1229.6,292.4 L1232.8,298.5 L1235.9,304.7 L1239.1,311.0 L1242.3,317.4 L1245.5,323.9 L1248.7,330.5 L1251.8,337.1 L1255.0,343.8 L1258.2,350.6 L1261.4,357.5 L1264.6,364.5 L1267.7,371.5 L1270.9,378.6 L1274.1,385.8 L1277.3,393.1 L1280.5,400.4 L1283.7,407.8 L1286.8,415.3 L1290.0,422.9 L1293.2,430.6 L1296.4,438.3 L1299.6,446.1 L1302.7,454.0 L1305.9,462.0 L1309.1,470.1 L1312.3,478.2 L1315.5,486.4 L1318.6,494.7 L1321.8,503.0 L1325.0,511.4 L1328.2,519.9 L1331.4,528.5 L1334.5,537.1 L1337.7,545.8 L1340.9,554.6 L1344.1,563.4 L1347.3,572.3 L1350.5,581.2 L1353.6,590.2 L1356.8,599.2 L1360.0,608.2 L1363.2,617.4 L1366.4,626.5 L1369.5,635.7 L1372.7,644.9 L1375.9,654.1 L1379.1,663.3 L1382.3,672.6 L1385.4,681.9 L1388.6,691.1 L1391.8,700.4 L1395.0,709.7 L1398.2,719.0 L1401.4,728.2 L1404.5,737.4 L1407.7,746.7 L1410.9,755.8 L1414.1,765.0 L1417.3,774.1 L1420.4,783.2 L1423.6,792.2 L1426.8,801.2 L1430.0,810.2 L1433.2,819.0 L1436.3,827.9 L1439.5,836.6 L1442.7,845.3 L1445.9,853.9 L1449.1,862.4 L1452.2,870.9 L1455.4,879.3 L1458.6,887.5 L1461.8,895.7 L1465.0,903.8 L1468.2,911.8 L1471.3,919.7 L1474.5,927.5 L1477.7,935.2 L1480.9,942.8 L1484.1,950.3 L1487.2,957.7 L1490.4,964.9 L1493.6,972.1 L1496.8,979.1 L1500.0,986.0 L1503.1,992.8 L1506.3,999.5 L1509.5,1006.1 L1512.7,1012.5 L1515.9,1018.9 L1519.0,1025.1 L1522.2,1031.2 L1525.4,1037.1 L1528.6,1043.0 L1531.8,1048.7 L1535.0,1054.3 L1538.1,1059.8 L1541.3,1065.2 L1544.5,1070.4 L1547.7,1075.5 L1550.9,1080.5 L1554.0,1085.4 L1557.2,1090.2 L1560.4,1094.9 L1563.6,1099.4 L1566.8,1103.9 L1569.9,1108.2 L1573.1,1112.4 L1576.3,1116.5 L1579.5,1120.6 L1582.7,1124.5 L1585.8,1128.3 L1589.0,1132.0 L1592.2,1135.6 L1595.4,1139.1 L1598.6,1142.5 L1601.8,1145.8 L1604.9,1149.0 L1608.1,1152.2 L1611.3,1155.2 L1614.5,1158.2 L1617.7,1161.0 L1620.8,1163.8 L1624.0,1166.6 L1627.2,1169.2 L1630.4,1171.7 L1633.6,1174.2 L1636.7,1176.6 L1639.9,1179.0 L1643.1,1181.3 L1646.3,1183.5 L1649.5,1185.6 L1652.6,1187.7 L1655.8,1189.7 L1659.0,1191.7 L1662.2,1193.6 L1665.4,1195.4 L1668.6,1197.2 L1671.7,1199.0 L1674.9,1200.7 L1678.1,1202.3 L1681.3,1203.9 L1684.5,1205.5 L1687.6,1207.0 L1690.8,1208.4 L1694.0,1209.9 L1697.2,1211.3 L1700.4,1212.6 L1703.5,1213.9 L1706.7,1215.2 L1709.9,1216.4 L1713.1,1217.6 L1716.3,1218.8 L1719.5,1220.0 L1722.6,1221.1 L1725.8,1222.2 L1729.0,1223.3 L1732.2,1224.3 L1735.4,1225.3 L1738.5,1226.3 L1741.7,1227.3 L1744.9,1228.2 L1748.1,1229.2 L1751.3,1230.1 L1754.4,1230.9 L1757.6,1231.8 L1760.8,1232.7 L1764.0,1233.5 L1767.2,1234.3 L1770.3,1235.1 L1773.5,1235.9 L1776.7,1236.7 L1779.9,1237.4 L1783.1,1238.2 L1786.3,1238.9 L1789.4,1239.6 L1792.6,1240.3 L1795.8,1241.0 L1799.0,1241.7 L1802.2,1242.3 L1805.3,1243.0 L1808.5,1243.6 L1811.7,1244.2 L1814.9,1244.9 L1818.1,1245.5 L1821.2,1246.1 L1824.4,1246.7 L1827.6,1247.2 L1830.8,1247.8 L1834.0,1248.4 L1837.1,1248.9 L1840.3,1249.5 L1843.5,1250.0 L1846.7,1250.5 L1849.9,1251.0 L1853.1,1251.5 L1856.2,1252.0 L1859.4,1252.5 L1862.6,1253.0 L1865.8,1253.5 L1869.0,1254.0 L1872.1,1254.4 L1875.3,1254.9 L1878.5,1255.3 L1881.7,1255.8 L1884.9,1256.2 L1888.0,1256.6 L1891.2,1257.0 L1894.4,1257.4 L1897.6,1257.8 L1900.8,1258.2 L1903.9,1258.6 L1907.1,1259.0 L1910.3,1259.4 L1913.5,1259.7 L1916.7,1260.1 L1919.9,1260.4 L1923.0,1260.8 L1926.2,1261.1 L1929.4,1261.4 L1932.6,1261.8 L1935.8,1262.1 L1938.9,1262.4 L1942.1,1262.7 L1945.3,1263.0 L1948.5,1263.3 L1951.7,1263.6 L1954.8,1263.8 L1958.0,1264.1 L1961.2,1264.4 L1964.4,1264.6 L1967.6,1264.9 L1970.7,1265.1 L1973.9,1265.4 L1977.1,1265.6 L1980.3,1265.8 L1983.5,1266.0 L1986.7,1266.3 L1989.8,1266.5 L1993.0,1266.7 L1996.2,1266.9 L1999.4,1267.1 L2002.6,1267.3 L2005.7,1267.5 L2008.9,1267.6 L2012.1,1267.8 L2015.3,1268.0 L2018.5,1268.1 L2021.6,1268.3 L2024.8,1268.5 L2028.0,1268.6 L2031.2,1268.7 L2034.4,1268.9 L2037.6,1269.0 L2040.7,1269.2 L2043.9,1269.3 L2047.1,1269.4 L2050.3,1269.5 L2053.5,1269.6 L2056.6,1269.8 L2059.8,1269.9 L2063.0,1270.0 L2066.2,1270.1 L2069.4,1270.2 L2072.5,1270.3 L2075.7,1270.4 L2078.9,1270.4 L2082.1,1270.5 L2085.3,1270.6 L2088.4,1270.7 L2091.6,1270.8 L2094.8,1270.8 L2098.0,1270.9 L2101.2,1271.0 L2104.4,1271.1 L2107.5,1271.1 L2110.7,1271.2 L2113.9,1271.2 L2117.1,1271.3 L2120.3,1271.3 L2123.4,1271.4 L2126.6,1271.4 L2129.8,1271.5 L2133.0,1271.5 L2136.2,1271.6 L2139.3,1271.6 L2142.5,1271.7 L2145.7,1271.7 L2148.9,1271.7 L2152.1,1271.8 L2155.2,1271.8 L2158.4,1271.8 L2161.6,1271.9 L2164.8,1271.9 L2168.0,1271.9 L2171.2,1272.0 L2174.3,1272.0 L2177.5,1272.0 L2180.7,1272.0 L2183.9,1272.1 L2187.1,1272.1 L2190.2,1272.1 L2193.4,1272.1 L2196.6,1272.1 L2199.8,1272.2 L2203.0,1272.2 L2206.1,1272.2 L2209.3,1272.2" stroke="#197878"/>
<path d="M469.3,1263.8 L472.5,1263.9 L475.7,1263.9 L478.9,1264.0 L482.0,1264.1 L485.2,1264.1 L488.4,1264.2 L491.6,1264.2 L494.8,1264.3 L497.9,1264.3 L501.1,1264.4 L504.3,1264.4 L507.5,1264.5 L510.7,1264.5 L513.9,1264.6 L517.0,1264.6 L520.2,1264.7 L523.4,1264.7 L526.6,1264.8 L529.8,1264.8 L532.9,1264.8 L536.1,1264.9 L539.3,1264.9 L542.5,1264.9 L545.7,1265.0 L548.8,1265.0 L552.0,1265.0 L555.2,1265.0 L558.4,1265.1 L561.6,1265.1 L564.7,1265.1 L567.9,1265.1 L571.1,1265.1 L574.3,1265.1 L577.5,1265.1 L580.7,1265.1 L583.8,1265.1 L587.0,1265.1 L590.2,1265.1 L593.4,1265.1 L596.6,1265.0 L599.7,1265.0 L602.9,1265.0 L606.1,1264.9 L609.3,1264.9 L612.5,1264.8 L615.6,1264.8 L618.8,1264.7 L622.0,1264.6 L625.2,1264.5 L628.4,1264.4 L631.5,1264.3 L634.7,1264.2 L637.9,1264.1 L641.1,1264.0 L644.3,1263.8 L647.5,1263.7 L650.6,1263.5 L653.8,1263.3 L657.0,1263.1 L660.2,1262.9 L663.4,1262.7 L666.5,1262.5 L669.7,1262.2 L672.9,1261.9 L676.1,1261.6 L679.3,1261.3 L682.4,1261.0 L685.6,1260.6 L688.8,1260.3 L692.0,1259.9 L695.2,1259.4 L698.3,1259.0 L701.5,1258.5 L704.7,1258.0 L707.9,1257.4 L711.1,1256.9 L714.3,1256.3 L717.4,1255.6 L720.6,1254.9 L723.8,1254.2 L727.0,1253.4 L730.2,1252.6 L733.3,1251.7 L736.5,1250.8 L739.7,1249.8 L742.9,1248.8 L746.1,1247.7 L749.2,1246.6 L752.4,1245.3 L755.6,1244.0 L758.8,1242.7 L762.0,1241.3 L765.2,1239.7 L768.3,1238.1 L771.5,1236.4 L774.7,1234.7 L777.9,1232.8 L781.1,1230.8 L784.2,1228.7 L787.4,1226.5 L790.6,1224.2 L793.8,1221.7 L797.0,1219.1 L800.1,1216.4 L803.3,1213.6 L806.5,1210.5 L809.7,1207.4 L812.9,1204.1 L816.0,1200.6 L819.2,1196.9 L822.4,1193.1 L825.6,1189.0 L828.8,1184.8 L832.0,1180.3 L835.1,1175.7 L838.3,1170.8 L841.5,1165.7 L844.7,1160.4 L847.9,1154.8 L851.0,1149.0 L854.2,1142.9 L857.4,1136.6 L860.6,1129.9 L863.8,1123.1 L866.9,1115.9 L870.1,1108.4 L873.3,1100.6 L876.5,1092.6 L879.7,1084.2 L882.8,1075.5 L886.0,1066.5 L889.2,1057.2 L892.4,1047.5 L895.6,1037.5 L898.8,1027.2 L901.9,1016.6 L905.1,1005.6 L908.3,994.2 L911.5,982.6 L914.7,970.6 L917.8,958.3 L921.0,945.6 L924.2,932.7 L927.4,919.4 L930.6,905.8 L933.7,891.9 L936.9,877.7 L940.1,863.2 L943.3,848.4 L946.5,833.3 L949.6,818.0 L952.8,802.5 L956.0,786.7 L959.2,770.7 L962.4,754.5 L965.6,738.1 L968.7,721.5 L971.9,704.8 L975.1,688.0 L978.3,671.0 L981.5,654.0 L984.6,636.9 L987.8,619.8 L991.0,602.6 L994.2,585.4 L997.4,568.3 L1000.5,551.2 L1003.7,534.1 L1006.9,517.2 L1010.1,500.4 L1013.3,483.7 L1016.4,467.2 L1019.6,450.9 L1022.8,434.7 L1026.0,418.9 L1029.2,403.3 L1032.4,387.9 L1035.5,372.9 L1038.7,358.2 L1041.9,343.8 L1045.1,329.8 L1048.3,316.2 L1051.4,303.0 L1054.6,290.2 L1057.8,277.8 L1061.0,265.9 L1064.2,254.4 L1067.3,243.4 L1070.5,232.9 L1073.7,222.9 L1076.9,213.3 L1080.1,204.3 L1083.3,195.8 L1086.4,187.7 L1089.6,180.2 L1092.8,173.2 L1096.0,166.8 L1099.2,160.8 L1102.3,155.3 L1105.5,150.4 L1108.7,145.9 L1111.9,141.9 L1115.1,138.5 L1118.2,135.5 L1121.4,132.9 L1124.6,130.9 L1127.8,129.3 L1131.0,128.1 L1134.1,127.4 L1137.3,127.0 L1140.5,127.1 L1143.7,127.6 L1146.9,128.4 L1150.1,129.6 L1153.2,131.2 L1156.4,133.0 L1159.6,135.2 L1162.8,137.8 L1166.0,140.6 L1169.1,143.7 L1172.3,147.0 L1175.5,150.6 L1178.7,154.5 L1181.9,158.5 L1185.0,162.8 L1188.2,167.3 L1191.4,172.0 L1194.6,176.9 L1197.8,181.9 L1200.9,187.2 L1204.1,192.5 L1207.3,198.0 L1210.5,203.7 L1213.7,209.5 L1216.9,215.4 L1220.0,221.4 L1223.2,227.5 L1226.4,233.8 L1229.6,240.1 L1232.8,246.6 L1235.9,253.1 L1239.1,259.8 L1242.3,266.5 L1245.5,273.3 L1248.7,280.2 L1251.8,287.2 L1255.0,294.3 L1258.2,301.5 L1261.4,308.7 L1264.6,316.0 L1267.7,323.4 L1270.9,330.9 L1274.1,338.5 L1277.3,346.2 L1280.5,353.9 L1283.7,361.7 L1286.8,369.6 L1290.0,377.6 L1293.2,385.7 L1296.4,393.8 L1299.6,402.1 L1302.7,410.4 L1305.9,418.8 L1309.1,427.3 L1312.3,435.8 L1315.5,444.5 L1318.6,453.2 L1321.8,462.0 L1325.0,470.9 L1328.2,479.8 L1331.4,488.8 L1334.5,497.9 L1337.7,507.1 L1340.9,516.3 L1344.1,525.6 L1347.3,534.9 L1350.5,544.3 L1353.6,553.8 L1356.8,563.3 L1360.0,572.8 L1363.2,582.4 L1366.4,592.0 L1369.5,601.7 L1372.7,611.4 L1375.9,621.1 L1379.1,630.8 L1382.3,640.6 L1385.4,650.4 L1388.6,660.1 L1391.8,669.9 L1395.0,679.7 L1398.2,689.4 L1401.4,699.2 L1404.5,708.9 L1407.7,718.6 L1410.9,728.3 L1414.1,737.9 L1417.3,747.5 L1420.4,757.1 L1423.6,766.6 L1426.8,776.1 L1430.0,785.5 L1433.2,794.9 L1436.3,804.1 L1439.5,813.4 L1442.7,822.5 L1445.9,831.6 L1449.1,840.6 L1452.2,849.5 L1455.4,858.3 L1458.6,867.0 L1461.8,875.6 L1465.0,884.2 L1468.2,892.6 L1471.3,900.9 L1474.5,909.1 L1477.7,917.2 L1480.9,925.2 L1484.1,933.1 L1487.2,940.9 L1490.4,948.5 L1493.6,956.1 L1496.8,963.5 L1500.0,970.8 L1503.1,977.9 L1506.3,985.0 L1509.5,991.9 L1512.7,998.7 L1515.9,1005.3 L1519.0,1011.9 L1522.2,1018.3 L1525.4,1024.6 L1528.6,1030.7 L1531.8,1036.8 L1535.0,1042.7 L1538.1,1048.4 L1541.3,1054.1 L1544.5,1059.6 L1547.7,1065.0 L1550.9,1070.3 L1554.0,1075.5 L1557.2,1080.5 L1560.4,1085.4 L1563.6,1090.2 L1566.8,1094.9 L1569.9,1099.4 L1573.1,1103.9 L1576.3,1108.2 L1579.5,1112.5 L1582.7,1116.6 L1585.8,1120.6 L1589.0,1124.5 L1592.2,1128.3 L1595.4,1132.0 L1598.6,1135.5 L1601.8,1139.0 L1604.9,1142.4 L1608.1,1145.7 L1611.3,1148.9 L1614.5,1152.1 L1617.7,1155.1 L1620.8,1158.0 L1624.0,1160.9 L1627.2,1163.7 L1630.4,1166.4 L1633.6,1169.0 L1636.7,1171.5 L1639.9,1174.0 L1643.1,1176.4 L1646.3,1178.7 L1649.5,1181.0 L1652.6,1183.2 L1655.8,1185.3 L1659.0,1187.4 L1662.2,1189.4 L1665.4,1191.3 L1668.6,1193.2 L1671.7,1195.0 L1674.9,1196.8 L1678.1,1198.6 L1681.3,1200.2 L1684.5,1201.9 L1687.6,1203.5 L1690.8,1205.0 L1694.0,1206.5 L1697.2,1208.0 L1700.4,1209.4 L1703.5,1210.8 L1706.7,1212.1 L1709.9,1213.4 L1713.1,1214.7 L1716.3,1216.0 L1719.5,1217.2 L1722.6,1218.4 L1725.8,1219.5 L1729.0,1220.6 L1732.2,1221.7 L1735.4,1222.8 L1738.5,1223.8 L1741.7,1224.9 L1744.9,1225.9 L1748.1,1226.8 L1751.3,1227.8 L1754.4,1228.7 L1757.6,1229.6 L1760.8,1230.5 L1764.0,1231.4 L1767.2,1232.3 L1770.3,1233.1 L1773.5,1233.9 L1776.7,1234.7 L1779.9,1235.5 L1783.1,1236.3 L1786.3,1237.1 L1789.4,1237.8 L1792.6,1238.6 L1795.8,1239.3 L1799.0,1240.0 L1802.2,1240.7 L1805.3,1241.4 L1808.5,1242.1 L1811.7,1242.7 L1814.9,1243.4 L1818.1,1244.0 L1821.2,1244.6 L1824.4,1245.3 L1827.6,1245.9 L1830.8,1246.5 L1834.0,1247.1 L1837.1,1247.7 L1840.3,1248.2 L1843.5,1248.8 L1846.7,1249.3 L1849.9,1249.9 L1853.1,1250.4 L1856.2,1250.9 L1859.4,1251.5 L1862.6,1252.0 L1865.8,1252.5 L1869.0,1253.0 L1872.1,1253.5 L1875.3,1253.9 L1878.5,1254.4 L1881.7,1254.9 L1884.9,1255.3 L1888.0,1255.8 L1891.2,1256.2 L1894.4,1256.6 L1897.6,1257.0 L1900.8,1257.5 L1903.9,1257.9 L1907.1,1258.3 L1910.3,1258.7 L1913.5,1259.0 L1916.7,1259.4 L1919.9,1259.8 L1923.0,1260.1 L1926.2,1260.5 L1929.4,1260.8 L1932.6,1261.2 L1935.8,1261.5 L1938.9,1261.8 L1942.1,1262.2 L1945.3,1262.5 L1948.5,1262.8 L1951.7,1263.1 L1954.8,1263.4 L1958.0,1263.7 L1961.2,1263.9 L1964.4,1264.2 L1967.6,1264.5 L1970.7,1264.7 L1973.9,1265.0 L1977.1,1265.2 L1980.3,1265.5 L1983.5,1265.7 L1986.7,1265.9 L1989.8,1266.2 L1993.0,1266.4 L1996.2,1266.6 L1999.4,1266.8 L2002.6,1267.0 L2005.7,1267.2 L2008.9,1267.4 L2012.1,1267.5 L2015.3,1267.7 L2018.5,1267.9 L2021.6,1268.1 L2024.8,1268.2 L2028.0,1268.4 L2031.2,1268.5 L2034.4,1268.7 L2037.6,1268.8 L2040.7,1269.0 L2043.9,1269.1 L2047.1,1269.2 L2050.3,1269.4 L2053.5,1269.5 L2056.6,1269.6 L2059.8,1269.7 L2063.0,1269.8 L2066.2,1269.9 L2069.4,1270.0 L2072.5,1270.1 L2075.7,1270.2 L2078.9,1270.3 L2082.1,1270.4 L2085.3,1270.5 L2088.4,1270.6 L2091.6,1270.7 L2094.8,1270.8 L2098.0,1270.8 L2101.2,1270.9 L2104.4,1271.0 L2107.5,1271.0 L2110.7,1271.1 L2113.9,1271.2 L2117.1,1271.2 L2120.3,1271.3 L2123.4,1271.3 L2126.6,1271.4 L2129.8,1271.4 L2133.0,1271.5 L2136.2,1271.5 L2139.3,1271.6 L2142.5,1271.6 L2145.7,1271.7 L2148.9,1271.7 L2152.1,1271.7 L2155.2,1271.8 L2158.4,1271.8 L2161.6,1271.8 L2164.8,1271.9 L2168.0,1271.9 L2171.2,1271.9 L2174.3,1272.0 L2177.5,1272.0 L2180.7,1272.0 L2183.9,1272.0 L2187.1,1272.1 L2190.2,1272.1 L2193.4,1272.1 L2196.6,1272.1 L2199.8,1272.1 L2203.0,1272.2 L2206.1,1272.2 L2209.3,1272.2" stroke="#808080"/>
<path d="M469.3,1263.7 L472.5,1263.7 L475.7,1263.8 L478.9,1263.9 L482.0,1263.9 L485.2,1264.0 L488.4,1264.0 L491.6,1264.1 L494.8,1264.1 L497.9,1264.2 L501.1,1264.2 L504.3,1264.3 L507.5,1264.4 L510.7,1264.4 L513.9,1264.4 L517.0,1264.5 L520.2,1264.5 L523.4,1264.6 L526.6,1264.6 L529.8,1264.7 L532.9,1264.7 L536.1,1264.7 L539.3,1264.8 L542.5,1264.8 L545.7,1264.8 L548.8,1264.9 L552.0,1264.9 L555.2,1264.9 L558.4,1264.9 L561.6,1265.0 L564.7,1265.0 L567.9,1265.0 L571.1,1265.0 L574.3,1265.0 L577.5,1265.0 L580.7,1265.0 L583.8,1265.0 L587.0,1265.0 L590.2,1264.9 L593.4,1264.9 L596.6,1264.9 L599.7,1264.9 L602.9,1264.8 L606.1,1264.8 L609.3,1264.7 L612.5,1264.7 L615.6,1264.6 L618.8,1264.6 L622.0,1264.5 L625.2,1264.4 L628.4,1264.3 L631.5,1264.2 L634.7,1264.1 L637.9,1264.0 L641.1,1263.8 L644.3,1263.7 L647.5,1263.5 L650.6,1263.3 L653.8,1263.2 L657.0,1263.0 L660.2,1262.8 L663.4,1262.5 L666.5,1262.3 L669.7,1262.0 L672.9,1261.7 L676.1,1261.5 L679.3,1261.1 L682.4,1260.8 L685.6,1260.4 L688.8,1260.1 L692.0,1259.6 L695.2,1259.2 L698.3,1258.7 L701.5,1258.3 L704.7,1257.7 L707.9,1257.2 L711.1,1256.6 L714.3,1256.0 L717.4,1255.3 L720.6,1254.6 L723.8,1253.9 L727.0,1253.1 L730.2,1252.2 L733.3,1251.3 L736.5,1250.4 L739.7,1249.4 L742.9,1248.4 L746.1,1247.3 L749.2,1246.1 L752.4,1244.8 L755.6,1243.5 L758.8,1242.1 L762.0,1240.7 L765.2,1239.1 L768.3,1237.5 L771.5,1235.8 L774.7,1234.0 L777.9,1232.1 L781.1,1230.0 L784.2,1227.9 L787.4,1225.6 L790.6,1223.3 L793.8,1220.8 L797.0,1218.2 L800.1,1215.4 L803.3,1212.5 L806.5,1209.4 L809.7,1206.2 L812.9,1202.8 L816.0,1199.3 L819.2,1195.5 L822.4,1191.6 L825.6,1187.5 L828.8,1183.2 L832.0,1178.6 L835.1,1173.9 L838.3,1169.0 L841.5,1163.8 L844.7,1158.3 L847.9,1152.7 L851.0,1146.7 L854.2,1140.5 L857.4,1134.1 L860.6,1127.3 L863.8,1120.3 L866.9,1113.0 L870.1,1105.4 L873.3,1097.5 L876.5,1089.3 L879.7,1080.7 L882.8,1071.9 L886.0,1062.7 L889.2,1053.2 L892.4,1043.4 L895.6,1033.2 L898.8,1022.7 L901.9,1011.9 L905.1,1000.7 L908.3,989.2 L911.5,977.3 L914.7,965.1 L917.8,952.5 L921.0,939.7 L924.2,926.4 L927.4,912.9 L930.6,899.1 L933.7,884.9 L936.9,870.4 L940.1,855.7 L943.3,840.6 L946.5,825.3 L949.6,809.7 L952.8,793.9 L956.0,777.8 L959.2,761.5 L962.4,745.0 L965.6,728.3 L968.7,711.4 L971.9,694.4 L975.1,677.3 L978.3,660.0 L981.5,642.7 L984.6,625.3 L987.8,607.8 L991.0,590.3 L994.2,572.8 L997.4,555.4 L1000.5,537.9 L1003.7,520.6 L1006.9,503.3 L1010.1,486.2 L1013.3,469.2 L1016.4,452.4 L1019.6,435.8 L1022.8,419.4 L1026.0,403.2 L1029.2,387.3 L1032.4,371.7 L1035.5,356.4 L1038.7,341.4 L1041.9,326.8 L1045.1,312.6 L1048.3,298.7 L1051.4,285.2 L1054.6,272.2 L1057.8,259.6 L1061.0,247.5 L1064.2,235.8 L1067.3,224.6 L1070.5,213.9 L1073.7,203.6 L1076.9,193.9 L1080.1,184.7 L1083.3,176.0 L1086.4,167.9 L1089.6,160.2 L1092.8,153.1 L1096.0,146.5 L1099.2,140.4 L1102.3,134.8 L1105.5,129.8 L1108.7,125.2 L1111.9,121.2 L1115.1,117.7 L1118.2,114.6 L1121.4,112.1 L1124.6,110.0 L1127.8,108.3 L1131.0,107.1 L1134.1,106.4 L1137.3,106.0 L1140.5,106.1 L1143.7,106.6 L1146.9,107.4 L1150.1,108.7 L1153.2,110.2 L1156.4,112.2 L1159.6,114.4 L1162.8,117.0 L1166.0,119.8 L1169.1,123.0 L1172.3,126.4 L1175.5,130.1 L1178.7,134.0 L1181.9,138.1 L1185.0,142.5 L1188.2,147.1 L1191.4,151.8 L1194.6,156.8 L1197.8,161.9 L1200.9,167.3 L1204.1,172.7 L1207.3,178.3 L1210.5,184.1 L1213.7,190.0 L1216.9,196.0 L1220.0,202.1 L1223.2,208.4 L1226.4,214.7 L1229.6,221.2 L1232.8,227.8 L1235.9,234.4 L1239.1,241.2 L1242.3,248.0 L1245.5,255.0 L1248.7,262.0 L1251.8,269.2 L1255.0,276.4 L1258.2,283.7 L1261.4,291.0 L1264.6,298.5 L1267.7,306.0 L1270.9,313.7 L1274.1,321.4 L1277.3,329.2 L1280.5,337.1 L1283.7,345.0 L1286.8,353.1 L1290.0,361.2 L1293.2,369.4 L1296.4,377.7 L1299.6,386.1 L1302.7,394.6 L1305.9,403.1 L1309.1,411.8 L1312.3,420.5 L1315.5,429.3 L1318.6,438.2 L1321.8,447.1 L1325.0,456.2 L1328.2,465.3 L1331.4,474.4 L1334.5,483.7 L1337.7,493.0 L1340.9,502.4 L1344.1,511.9 L1347.3,521.4 L1350.5,531.0 L1353.6,540.6 L1356.8,550.3 L1360.0,560.0 L1363.2,569.8 L1366.4,579.6 L1369.5,589.4 L1372.7,599.3 L1375.9,609.2 L1379.1,619.1 L1382.3,629.0 L1385.4,639.0 L1388.6,648.9 L1391.8,658.9 L1395.0,668.8 L1398.2,678.7 L1401.4,688.7 L1404.5,698.6 L1407.7,708.5 L1410.9,718.3 L1414.1,728.1 L1417.3,737.9 L1420.4,747.7 L1423.6,757.4 L1426.8,767.0 L1430.0,776.6 L1433.2,786.1 L1436.3,795.6 L1439.5,804.9 L1442.7,814.3 L1445.9,823.5 L1449.1,832.6 L1452.2,841.7 L1455.4,850.7 L1458.6,859.6 L1461.8,868.4 L1465.0,877.0 L1468.2,885.6 L1471.3,894.1 L1474.5,902.5 L1477.7,910.7 L1480.9,918.9 L1484.1,926.9 L1487.2,934.8 L1490.4,942.6 L1493.6,950.3 L1496.8,957.8 L1500.0,965.2 L1503.1,972.5 L1506.3,979.7 L1509.5,986.7 L1512.7,993.7 L1515.9,1000.4 L1519.0,1007.1 L1522.2,1013.6 L1525.4,1020.0 L1528.6,1026.3 L1531.8,1032.4 L1535.0,1038.5 L1538.1,1044.3 L1541.3,1050.1 L1544.5,1055.7 L1547.7,1061.2 L1550.9,1066.6 L1554.0,1071.8 L1557.2,1077.0 L1560.4,1082.0 L1563.6,1086.9 L1566.8,1091.6 L1569.9,1096.3 L1573.1,1100.8 L1576.3,1105.2 L1579.5,1109.5 L1582.7,1113.7 L1585.8,1117.8 L1589.0,1121.8 L1592.2,1125.6 L1595.4,1129.4 L1598.6,1133.0 L1601.8,1136.6 L1604.9,1140.1 L1608.1,1143.4 L1611.3,1146.7 L1614.5,1149.9 L1617.7,1152.9 L1620.8,1155.9 L1624.0,1158.9 L1627.2,1161.7 L1630.4,1164.4 L1633.6,1167.1 L1636.7,1169.7 L1639.9,1172.2 L1643.1,1174.6 L1646.3,1177.0 L1649.5,1179.3 L1652.6,1181.5 L1655.8,1183.7 L1659.0,1185.8 L1662.2,1187.8 L1665.4,1189.8 L1668.6,1191.8 L1671.7,1193.6 L1674.9,1195.4 L1678.1,1197.2 L1681.3,1198.9 L1684.5,1200.6 L1687.6,1202.2 L1690.8,1203.8 L1694.0,1205.3 L1697.2,1206.8 L1700.4,1208.2 L1703.5,1209.7 L1706.7,1211.0 L1709.9,1212.4 L1713.1,1213.7 L1716.3,1214.9 L1719.5,1216.2 L1722.6,1217.4 L1725.8,1218.5 L1729.0,1219.7 L1732.2,1220.8 L1735.4,1221.9 L1738.5,1223.0 L1741.7,1224.0 L1744.9,1225.0 L1748.1,1226.0 L1751.3,1227.0 L1754.4,1227.9 L1757.6,1228.9 L1760.8,1229.8 L1764.0,1230.7 L1767.2,1231.5 L1770.3,1232.4 L1773.5,1233.2 L1776.7,1234.1 L1779.9,1234.9 L1783.1,1235.7 L1786.3,1236.4 L1789.4,1237.2 L1792.6,1237.9 L1795.8,1238.7 L1799.0,1239.4 L1802.2,1240.1 L1805.3,1240.8 L1808.5,1241.5 L1811.7,1242.2 L1814.9,1242.8 L1818.1,1243.5 L1821.2,1244.1 L1824.4,1244.8 L1827.6,1245.4 L1830.8,1246.0 L1834.0,1246.6 L1837.1,1247.2 L1840.3,1247.8 L1843.5,1248.4 L1846.7,1248.9 L1849.9,1249.5 L1853.1,1250.0 L1856.2,1250.6 L1859.4,1251.1 L1862.6,1251.6 L1865.8,1252.1 L1869.0,1252.6 L1872.1,1253.1 L1875.3,1253.6 L1878.5,1254.1 L1881.7,1254.5 L1884.9,1255.0 L1888.0,1255.5 L1891.2,1255.9 L1894.4,1256.3 L1897.6,1256.8 L1900.8,1257.2 L1903.9,1257.6 L1907.1,1258.0 L1910.3,1258.4 L1913.5,1258.8 L1916.7,1259.2 L1919.9,1259.5 L1923.0,1259.9 L1926.2,1260.3 L1929.4,1260.6 L1932.6,1261.0 L1935.8,1261.3 L1938.9,1261.6 L1942.1,1262.0 L1945.3,1262.3 L1948.5,1262.6 L1951.7,1262.9 L1954.8,1263.2 L1958.0,1263.5 L1961.2,1263.8 L1964.4,1264.1 L1967.6,1264.3 L1970.7,1264.6 L1973.9,1264.8 L1977.1,1265.1 L1980.3,1265.3 L1983.5,1265.6 L1986.7,1265.8 L1989.8,1266.0 L1993.0,1266.3 L1996.2,1266.5 L1999.4,1266.7 L2002.6,1266.9 L2005.7,1267.1 L2008.9,1267.3 L2012.1,1267.5 L2015.3,1267.6 L2018.5,1267.8 L2021.6,1268.0 L2024.8,1268.2 L2028.0,1268.3 L2031.2,1268.5 L2034.4,1268.6 L2037.6,1268.8 L2040.7,1268.9 L2043.9,1269.0 L2047.1,1269.2 L2050.3,1269.3 L2053.5,1269.4 L2056.6,1269.6 L2059.8,1269.7 L2063.0,1269.8 L2066.2,1269.9 L2069.4,1270.0 L2072.5,1270.1 L2075.7,1270.2 L2078.9,1270.3 L2082.1,1270.4 L2085.3,1270.5 L2088.4,1270.6 L2091.6,1270.6 L2094.8,1270.7 L2098.0,1270.8 L2101.2,1270.9 L2104.4,1270.9 L2107.5,1271.0 L2110.7,1271.1 L2113.9,1271.1 L2117.1,1271.2 L2120.3,1271.3 L2123.4,1271.3 L2126.6,1271.4 L2129.8,1271.4 L2133.0,1271.5 L2136.2,1271.5 L2139.3,1271.6 L2142.5,1271.6 L2145.7,1271.6 L2148.9,1271.7 L2152.1,1271.7 L2155.2,1271.8 L2158.4,1271.8 L2161.6,1271.8 L2164.8,1271.9 L2168.0,1271.9 L2171.2,1271.9 L2174.3,1271.9 L2177.5,1272.0 L2180.7,1272.0 L2183.9,1272.0 L2187.1,1272.1 L2190.2,1272.1 L2193.4,1272.1 L2196.6,1272.1 L2199.8,1272.1 L2203.0,1272.2 L2206.1,1272.2 L2209.3,1272.2" stroke="#f58220"/>
<path d="M469.3,1263.6 L472.5,1263.6 L475.7,1263.7 L478.9,1263.8 L482.0,1263.8 L485.2,1263.9 L488.4,1263.9 L491.6,1264.0 L494.8,1264.1 L497.9,1264.1 L501.1,1264.2 L504.3,1264.2 L507.5,1264.3 L510.7,1264.3 L513.9,1264.4 L517.0,1264.4 L520.2,1264.5 L523.4,1264.5 L526.6,1264.5 L529.8,1264.6 L532.9,1264.6 L536.1,1264.7 L539.3,1264.7 L542.5,1264.7 L545.7,1264.8 L548.8,1264.8 L552.0,1264.8 L555.2,1264.8 L558.4,1264.9 L561.6,1264.9 L564.7,1264.9 L567.9,1264.9 L571.1,1264.9 L574.3,1264.9 L577.5,1264.9 L580.7,1264.9 L583.8,1264.9 L587.0,1264.9 L590.2,1264.9 L593.4,1264.8 L596.6,1264.8 L599.7,1264.8 L602.9,1264.8 L606.1,1264.7 L609.3,1264.7 L612.5,1264.6 L615.6,1264.5 L618.8,1264.5 L622.0,1264.4 L625.2,1264.3 L628.4,1264.2 L631.5,1264.1 L634.7,1264.0 L637.9,1263.9 L641.1,1263.7 L644.3,1263.6 L647.5,1263.4 L650.6,1263.2 L653.8,1263.1 L657.0,1262.9 L660.2,1262.6 L663.4,1262.4 L666.5,1262.2 L669.7,1261.9 L672.9,1261.6 L676.1,1261.3 L679.3,1261.0 L682.4,1260.7 L685.6,1260.3 L688.8,1259.9 L692.0,1259.5 L695.2,1259.1 L698.3,1258.6 L701.5,1258.1 L704.7,1257.6 L707.9,1257.0 L711.1,1256.4 L714.3,1255.8 L717.4,1255.1 L720.6,1254.4 L723.8,1253.6 L727.0,1252.8 L730.2,1252.0 L733.3,1251.1 L736.5,1250.2 L739.7,1249.2 L742.9,1248.1 L746.1,1247.0 L749.2,1245.8 L752.4,1244.5 L755.6,1243.2 L758.8,1241.8 L762.0,1240.3 L765.2,1238.8 L768.3,1237.1 L771.5,1235.4 L774.7,1233.5 L777.9,1231.6 L781.1,1229.5 L784.2,1227.4 L787.4,1225.1 L790.6,1222.7 L793.8,1220.2 L797.0,1217.5 L800.1,1214.7 L803.3,1211.8 L806.5,1208.7 L809.7,1205.4 L812.9,1202.0 L816.0,1198.4 L819.2,1194.6 L822.4,1190.7 L825.6,1186.5 L828.8,1182.1 L832.0,1177.6 L835.1,1172.8 L838.3,1167.8 L841.5,1162.5 L844.7,1157.0 L847.9,1151.3 L851.0,1145.3 L854.2,1139.0 L857.4,1132.5 L860.6,1125.7 L863.8,1118.6 L866.9,1111.2 L870.1,1103.5 L873.3,1095.5 L876.5,1087.2 L879.7,1078.5 L882.8,1069.6 L886.0,1060.3 L889.2,1050.7 L892.4,1040.7 L895.6,1030.5 L898.8,1019.8 L901.9,1008.9 L905.1,997.5 L908.3,985.9 L911.5,973.9 L914.7,961.5 L917.8,948.8 L921.0,935.8 L924.2,922.4 L927.4,908.8 L930.6,894.7 L933.7,880.4 L936.9,865.8 L940.1,850.8 L943.3,835.6 L946.5,820.1 L949.6,804.3 L952.8,788.3 L956.0,772.1 L959.2,755.6 L962.4,738.9 L965.6,722.0 L968.7,704.9 L971.9,687.7 L975.1,670.4 L978.3,652.9 L981.5,635.4 L984.6,617.8 L987.8,600.1 L991.0,582.4 L994.2,564.7 L997.4,547.1 L1000.5,529.4 L1003.7,511.9 L1006.9,494.4 L1010.1,477.1 L1013.3,459.9 L1016.4,442.9 L1019.6,426.1 L1022.8,409.5 L1026.0,393.2 L1029.2,377.1 L1032.4,361.3 L1035.5,345.8 L1038.7,330.7 L1041.9,315.9 L1045.1,301.5 L1048.3,287.4 L1051.4,273.8 L1054.6,260.6 L1057.8,247.9 L1061.0,235.6 L1064.2,223.8 L1067.3,212.5 L1070.5,201.6 L1073.7,191.3 L1076.9,181.4 L1080.1,172.1 L1083.3,163.3 L1086.4,155.1 L1089.6,147.3 L1092.8,140.1 L1096.0,133.5 L1099.2,127.3 L1102.3,121.7 L1105.5,116.6 L1108.7,112.0 L1111.9,107.9 L1115.1,104.3 L1118.2,101.2 L1121.4,98.6 L1124.6,96.5 L1127.8,94.8 L1131.0,93.6 L1134.1,92.9 L1137.3,92.5 L1140.5,92.6 L1143.7,93.1 L1146.9,93.9 L1150.1,95.2 L1153.2,96.8 L1156.4,98.7 L1159.6,101.0 L1162.8,103.6 L1166.0,106.5 L1169.1,109.7 L1172.3,113.1 L1175.5,116.8 L1178.7,120.8 L1181.9,125.0 L1185.0,129.4 L1188.2,134.0 L1191.4,138.9 L1194.6,143.9 L1197.8,149.1 L1200.9,154.5 L1204.1,160.0 L1207.3,165.7 L1210.5,171.5 L1213.7,177.4 L1216.9,183.5 L1220.0,189.7 L1223.2,196.1 L1226.4,202.5 L1229.6,209.0 L1232.8,215.7 L1235.9,222.4 L1239.1,229.3 L1242.3,236.2 L1245.5,243.2 L1248.7,250.3 L1251.8,257.5 L1255.0,264.8 L1258.2,272.2 L1261.4,279.7 L1264.6,287.2 L1267.7,294.9 L1270.9,302.6 L1274.1,310.4 L1277.3,318.3 L1280.5,326.2 L1283.7,334.3 L1286.8,342.4 L1290.0,350.7 L1293.2,359.0 L1296.4,367.4 L1299.6,375.8 L1302.7,384.4 L1305.9,393.1 L1309.1,401.8 L1312.3,410.6 L1315.5,419.5 L1318.6,428.5 L1321.8,437.6 L1325.0,446.7 L1328.2,455.9 L1331.4,465.2 L1334.5,474.6 L1337.7,484.0 L1340.9,493.5 L1344.1,503.1 L1347.3,512.7 L1350.5,522.4 L1353.6,532.1 L1356.8,541.9 L1360.0,551.7 L1363.2,561.6 L1366.4,571.5 L1369.5,581.5 L1372.7,591.5 L1375.9,601.5 L1379.1,611.5 L1382.3,621.6 L1385.4,631.6 L1388.6,641.7 L1391.8,651.7 L1395.0,661.8 L1398.2,671.9 L1401.4,681.9 L1404.5,691.9 L1407.7,701.9 L1410.9,711.9 L1414.1,721.8 L1417.3,731.7 L1420.4,741.6 L1423.6,751.4 L1426.8,761.1 L1430.0,770.8 L1433.2,780.5 L1436.3,790.0 L1439.5,799.5 L1442.7,809.0 L1445.9,818.3 L1449.1,827.6 L1452.2,836.7 L1455.4,845.8 L1458.6,854.8 L1461.8,863.7 L1465.0,872.5 L1468.2,881.1 L1471.3,889.7 L1474.5,898.2 L1477.7,906.5 L1480.9,914.8 L1484.1,922.9 L1487.2,930.9 L1490.4,938.8 L1493.6,946.5 L1496.8,954.2 L1500.0,961.7 L1503.1,969.1 L1506.3,976.3 L1509.5,983.4 L1512.7,990.4 L1515.9,997.3 L1519.0,1004.0 L1522.2,1010.6 L1525.4,1017.1 L1528.6,1023.4 L1531.8,1029.7 L1535.0,1035.7 L1538.1,1041.7 L1541.3,1047.5 L1544.5,1053.2 L1547.7,1058.8 L1550.9,1064.2 L1554.0,1069.5 L1557.2,1074.7 L1560.4,1079.8 L1563.6,1084.7 L1566.8,1089.5 L1569.9,1094.2 L1573.1,1098.8 L1576.3,1103.3 L1579.5,1107.6 L1582.7,1111.9 L1585.8,1116.0 L1589.0,1120.0 L1592.2,1123.9 L1595.4,1127.7 L1598.6,1131.4 L1601.8,1135.0 L1604.9,1138.5 L1608.1,1141.9 L1611.3,1145.2 L1614.5,1148.4 L1617.7,1151.6 L1620.8,1154.6 L1624.0,1157.5 L1627.2,1160.4 L1630.4,1163.2 L1633.6,1165.9 L1636.7,1168.5 L1639.9,1171.0 L1643.1,1173.5 L1646.3,1175.9 L1649.5,1178.2 L1652.6,1180.5 L1655.8,1182.7 L1659.0,1184.8 L1662.2,1186.9 L1665.4,1188.9 L1668.6,1190.8 L1671.7,1192.7 L1674.9,1194.6 L1678.1,1196.3 L1681.3,1198.1 L1684.5,1199.8 L1687.6,1201.4 L1690.8,1203.0 L1694.0,1204.5 L1697.2,1206.0 L1700.4,1207.5 L1703.5,1208.9 L1706.7,1210.3 L1709.9,1211.7 L1713.1,1213.0 L1716.3,1214.3 L1719.5,1215.5 L1722.6,1216.7 L1725.8,1217.9 L1729.0,1219.1 L1732.2,1220.2 L1735.4,1221.3 L1738.5,1222.4 L1741.7,1223.4 L1744.9,1224.5 L1748.1,1225.5 L1751.3,1226.4 L1754.4,1227.4 L1757.6,1228.4 L1760.8,1229.3 L1764.0,1230.2 L1767.2,1231.1 L1770.3,1231.9 L1773.5,1232.8 L1776.7,1233.6 L1779.9,1234.4 L1783.1,1235.2 L1786.3,1236.0 L1789.4,1236.8 L1792.6,1237.5 L1795.8,1238.3 L1799.0,1239.0 L1802.2,1239.7 L1805.3,1240.4 L1808.5,1241.1 L1811.7,1241.8 L1814.9,1242.5 L1818.1,1243.2 L1821.2,1243.8 L1824.4,1244.4 L1827.6,1245.1 L1830.8,1245.7 L1834.0,1246.3 L1837.1,1246.9 L1840.3,1247.5 L1843.5,1248.1 L1846.7,1248.6 L1849.9,1249.2 L1853.1,1249.8 L1856.2,1250.3 L1859.4,1250.8 L1862.6,1251.4 L1865.8,1251.9 L1869.0,1252.4 L1872.1,1252.9 L1875.3,1253.4 L1878.5,1253.9 L1881.7,1254.3 L1884.9,1254.8 L1888.0,1255.3 L1891.2,1255.7 L1894.4,1256.1 L1897.6,1256.6 L1900.8,1257.0 L1903.9,1257.4 L1907.1,1257.8 L1910.3,1258.2 L1913.5,1258.6 L1916.7,1259.0 L1919.9,1259.4 L1923.0,1259.8 L1926.2,1260.1 L1929.4,1260.5 L1932.6,1260.8 L1935.8,1261.2 L1938.9,1261.5 L1942.1,1261.8 L1945.3,1262.2 L1948.5,1262.5 L1951.7,1262.8 L1954.8,1263.1 L1958.0,1263.4 L1961.2,1263.7 L1964.4,1264.0 L1967.6,1264.2 L1970.7,1264.5 L1973.9,1264.8 L1977.1,1265.0 L1980.3,1265.3 L1983.5,1265.5 L1986.7,1265.7 L1989.8,1266.0 L1993.0,1266.2 L1996.2,1266.4 L1999.4,1266.6 L2002.6,1266.8 L2005.7,1267.0 L2008.9,1267.2 L2012.1,1267.4 L2015.3,1267.6 L2018.5,1267.8 L2021.6,1267.9 L2024.8,1268.1 L2028.0,1268.3 L2031.2,1268.4 L2034.4,1268.6 L2037.6,1268.7 L2040.7,1268.9 L2043.9,1269.0 L2047.1,1269.1 L2050.3,1269.3 L2053.5,1269.4 L2056.6,1269.5 L2059.8,1269.6 L2063.0,1269.8 L2066.2,1269.9 L2069.4,1270.0 L2072.5,1270.1 L2075.7,1270.2 L2078.9,1270.3 L2082.1,1270.4 L2085.3,1270.4 L2088.4,1270.5 L2091.6,1270.6 L2094.8,1270.7 L2098.0,1270.8 L2101.2,1270.9 L2104.4,1270.9 L2107.5,1271.0 L2110.7,1271.1 L2113.9,1271.1 L2117.1,1271.2 L2120.3,1271.2 L2123.4,1271.3 L2126.6,1271.4 L2129.8,1271.4 L2133.0,1271.5 L2136.2,1271.5 L2139.3,1271.5 L2142.5,1271.6 L2145.7,1271.6 L2148.9,1271.7 L2152.1,1271.7 L2155.2,1271.8 L2158.4,1271.8 L2161.6,1271.8 L2164.8,1271.9 L2168.0,1271.9 L2171.2,1271.9 L2174.3,1271.9 L2177.5,1272.0 L2180.7,1272.0 L2183.9,1272.0 L2187.1,1272.0 L2190.2,1272.1 L2193.4,1272.1 L2196.6,1272.1 L2199.8,1272.1 L2203.0,1272.1 L2206.1,1272.2 L2209.3,1272.2" stroke="#780fe1"/>
</g>
<!-- axes -->
<g stroke="#000" stroke-width="10" stroke-linecap="round" fill="none">
<line x1="465.5" y1="56" x2="465.5" y2="1332.5"/>
<line x1="465.5" y1="1332.5" x2="2207.4" y2="1332.5"/>
<line x1="440.5" y1="1272.6" x2="465.5" y2="1272.6"/>
<line x1="440.5" y1="1031.3" x2="465.5" y2="1031.3"/>
<line x1="440.5" y1="790.1" x2="465.5" y2="790.1"/>
<line x1="440.5" y1="548.8" x2="465.5" y2="548.8"/>
<line x1="440.5" y1="307.6" x2="465.5" y2="307.6"/>
<line x1="440.5" y1="66.3" x2="465.5" y2="66.3"/>
<line x1="454.5" y1="1152.0" x2="465.5" y2="1152.0"/>
<line x1="454.5" y1="910.7" x2="465.5" y2="910.7"/>
<line x1="454.5" y1="669.4" x2="465.5" y2="669.4"/>
<line x1="454.5" y1="428.2" x2="465.5" y2="428.2"/>
<line x1="454.5" y1="186.9" x2="465.5" y2="186.9"/>
<line x1="624.5" y1="1332.5" x2="624.5" y2="1358.4"/>
<line x1="942.7" y1="1332.5" x2="942.7" y2="1358.4"/>
<line x1="1260.8" y1="1332.5" x2="1260.8" y2="1358.4"/>
<line x1="1578.8" y1="1332.5" x2="1578.8" y2="1358.4"/>
<line x1="1897.0" y1="1332.5" x2="1897.0" y2="1358.4"/>
<line x1="465.5" y1="1332.5" x2="465.5" y2="1345.2"/>
<line x1="783.6" y1="1332.5" x2="783.6" y2="1345.2"/>
<line x1="1101.7" y1="1332.5" x2="1101.7" y2="1345.2"/>
<line x1="1419.8" y1="1332.5" x2="1419.8" y2="1345.2"/>
<line x1="1737.9" y1="1332.5" x2="1737.9" y2="1345.2"/>
<line x1="2056.0" y1="1332.5" x2="2056.0" y2="1345.2"/>
</g>
<g style="font-size:105.5px">
<text x="422" y="1302.6" text-anchor="end">0</text><text x="422" y="1061.3" text-anchor="end">200</text><text x="422" y="820.1" text-anchor="end">400</text><text x="422" y="578.8" text-anchor="end">600</text><text x="422" y="337.6" text-anchor="end">800</text><text x="422" y="96.3" text-anchor="end">1000</text>
<text x="624.0" y="1458" text-anchor="middle">450</text><text x="942.2" y="1458" text-anchor="middle">500</text><text x="1260.2" y="1458" text-anchor="middle">550</text><text x="1578.3" y="1458" text-anchor="middle">600</text><text x="1896.5" y="1458" text-anchor="middle">650</text>
</g>
<text x="1336" y="1584" text-anchor="middle" style="font-size:105px">Wavelength <tspan style="font-weight:normal">/</tspan> nm</text>
<text transform="translate(113.6,663) rotate(-90)" text-anchor="middle" style="font-size:105px">Fluorescence intensity</text>
<!-- annotation -->
<text transform="translate(1473,575) scale(0.975,1)" style="font-size:81px">100.0 <tspan style="font-weight:normal">&#956;</tspan><tspan dx="4">M</tspan></text>
<text transform="translate(1556,826) scale(0.975,1)" style="font-size:81px">0.0 <tspan style="font-weight:normal">&#956;</tspan><tspan dx="4">M</tspan></text>
<text transform="translate(1661.5,711) scale(0.975,1)" style="font-size:106px">Cys</text>
<line x1="1602" y1="732" x2="1602" y2="630" stroke="#000" stroke-width="8" stroke-linecap="round"/>
<polygon points="1602,606 1592,638 1612,638" fill="#000"/>
</svg>
</body></html>
